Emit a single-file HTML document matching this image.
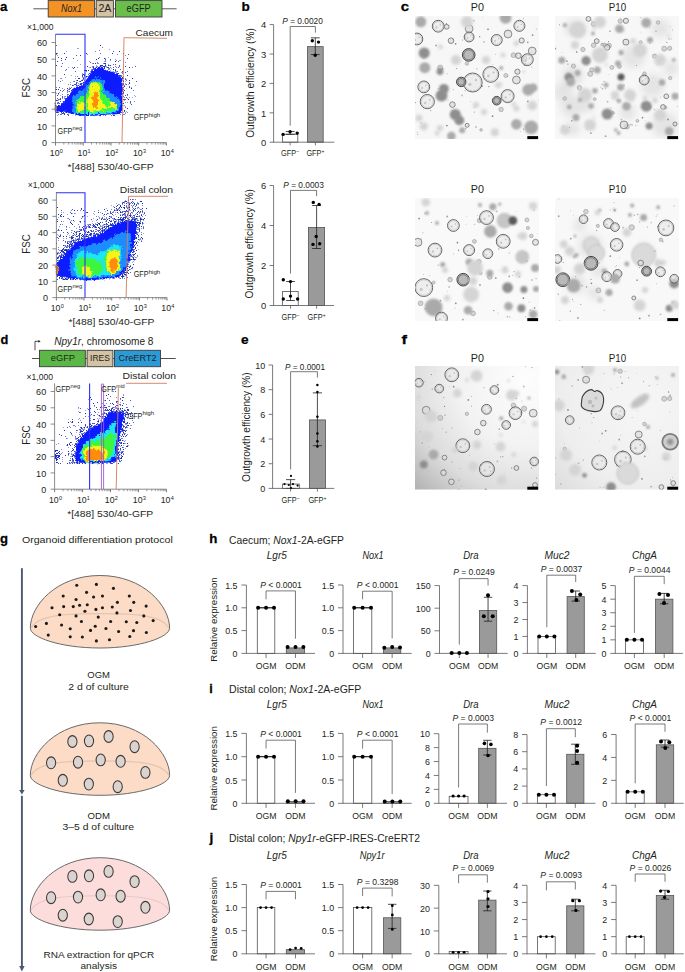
<!DOCTYPE html><html><head><meta charset="utf-8"><style>html,body{margin:0;padding:0;background:#fff;width:685px;height:972px;overflow:hidden}svg{display:block;font-family:"Liberation Sans",sans-serif}</style></head><body><svg width="685" height="972" viewBox="0 0 685 972" font-family="'Liberation Sans', sans-serif" fill="#231f20"><defs><filter id="bl03" x="-30%" y="-30%" width="160%" height="160%"><feGaussianBlur stdDeviation="0.3"/></filter><filter id="bl05" x="-30%" y="-30%" width="160%" height="160%"><feGaussianBlur stdDeviation="0.5"/></filter><filter id="bl08" x="-50%" y="-50%" width="200%" height="200%"><feGaussianBlur stdDeviation="0.8"/></filter><filter id="bl10" x="-50%" y="-50%" width="200%" height="200%"><feGaussianBlur stdDeviation="1.0"/></filter><filter id="bl30" x="-20%" y="-20%" width="140%" height="140%"><feGaussianBlur stdDeviation="3.5"/></filter><filter id="bl15" x="-60%" y="-60%" width="220%" height="220%"><feGaussianBlur stdDeviation="1.6"/></filter><radialGradient id="grad1" cx="0.9" cy="0.1" r="1.25" gradientUnits="objectBoundingBox"><stop offset="0" stop-color="#fdfdfd"/><stop offset="0.45" stop-color="#f2f2f2"/><stop offset="0.75" stop-color="#dcdcdc"/><stop offset="1" stop-color="#b4b4b4"/></radialGradient><radialGradient id="grad2" cx="0.7" cy="0.3" r="1.1" gradientUnits="objectBoundingBox"><stop offset="0" stop-color="#f6f6f6"/><stop offset="0.6" stop-color="#eeeeee"/><stop offset="1" stop-color="#d6d6d6"/></radialGradient><clipPath id="clip_c1"><rect x="414.9" y="15.9" width="124.20" height="123.20"/></clipPath><clipPath id="clip_c2"><rect x="554.9" y="15.9" width="124.20" height="123.20"/></clipPath><clipPath id="clip_c3"><rect x="414.9" y="197.9" width="124.20" height="123.20"/></clipPath><clipPath id="clip_c4"><rect x="554.9" y="197.9" width="124.20" height="123.20"/></clipPath><clipPath id="clip_f1"><rect x="414.9" y="365.9" width="124.20" height="123.80"/></clipPath><clipPath id="clip_f2"><rect x="554.9" y="365.9" width="124.20" height="123.80"/></clipPath><filter id="fnoise2" x="-10%" y="-10%" width="120%" height="120%"><feTurbulence type="fractalNoise" baseFrequency="0.28" numOctaves="3" seed="3" result="t"/><feDisplacementMap in="SourceGraphic" in2="t" scale="6" xChannelSelector="R" yChannelSelector="G"/></filter><filter id="fnoise" x="-10%" y="-10%" width="120%" height="120%"><feTurbulence type="fractalNoise" baseFrequency="0.55" numOctaves="2" seed="7" result="t"/><feDisplacementMap in="SourceGraphic" in2="t" scale="3.2" xChannelSelector="R" yChannelSelector="G"/></filter></defs><g clip-path="url(#clip_c1)"><rect x="414.9" y="15.9" width="124.20" height="123.20" fill="#f7f7f7"/><circle cx="466.8" cy="25.9" r="0.45" fill="#b8b8b8"/><circle cx="473.8" cy="20.6" r="0.9" fill="#b8b8b8"/><circle cx="523.6" cy="129.1" r="0.7" fill="#8a8a8a"/><circle cx="476.1" cy="127.0" r="0.7" fill="#8a8a8a"/><circle cx="462.6" cy="40.1" r="0.55" fill="#a0a0a0"/><circle cx="523.1" cy="55.9" r="0.45" fill="#8a8a8a"/><circle cx="456.6" cy="68.6" r="0.7" fill="#a0a0a0"/><circle cx="507.7" cy="75.9" r="0.55" fill="#8a8a8a"/><circle cx="465.6" cy="128.6" r="0.7" fill="#a0a0a0"/><circle cx="523.5" cy="18.6" r="0.55" fill="#b8b8b8"/><circle cx="455.7" cy="105.4" r="0.45" fill="#b8b8b8"/><circle cx="452.8" cy="110.9" r="0.7" fill="#a0a0a0"/><circle cx="488.0" cy="29.3" r="0.9" fill="#8a8a8a"/><circle cx="525.5" cy="63.3" r="0.55" fill="#8a8a8a"/><circle cx="455.6" cy="43.8" r="0.9" fill="#8a8a8a"/><circle cx="465.1" cy="90.8" r="0.55" fill="#8a8a8a"/><circle cx="439.1" cy="128.7" r="0.7" fill="#b8b8b8"/><circle cx="492.6" cy="116.2" r="0.9" fill="#8a8a8a"/><circle cx="475.1" cy="58.6" r="0.45" fill="#a0a0a0"/><circle cx="482.7" cy="17.2" r="0.45" fill="#b8b8b8"/><circle cx="453.2" cy="89.6" r="0.7" fill="#b8b8b8"/><circle cx="436.1" cy="45.5" r="0.9" fill="#a0a0a0"/><circle cx="531.8" cy="67.0" r="0.45" fill="#8a8a8a"/><circle cx="448.0" cy="100.1" r="0.55" fill="#b8b8b8"/><circle cx="417.2" cy="132.3" r="0.55" fill="#b8b8b8"/><circle cx="453.1" cy="39.6" r="0.9" fill="#a0a0a0"/><circle cx="476.8" cy="68.8" r="0.7" fill="#b8b8b8"/><circle cx="495.8" cy="134.8" r="0.45" fill="#a0a0a0"/><circle cx="470.4" cy="101.4" r="0.45" fill="#8a8a8a"/><circle cx="447.2" cy="73.7" r="0.45" fill="#8a8a8a"/><circle cx="527.9" cy="101.4" r="0.9" fill="#8a8a8a"/><circle cx="519.7" cy="30.8" r="0.7" fill="#b8b8b8"/><circle cx="417.8" cy="134.4" r="0.7" fill="#b8b8b8"/><circle cx="465.9" cy="80.2" r="0.45" fill="#a0a0a0"/><circle cx="446.4" cy="23.8" r="0.7" fill="#8a8a8a"/><circle cx="415.4" cy="102.6" r="0.7" fill="#a0a0a0"/><circle cx="462.0" cy="95.4" r="0.9" fill="#b8b8b8"/><circle cx="481.9" cy="86.2" r="0.9" fill="#8a8a8a"/><circle cx="438.1" cy="88.7" r="0.55" fill="#8a8a8a"/><circle cx="488.9" cy="86.6" r="0.7" fill="#8a8a8a"/><circle cx="532.6" cy="35.1" r="0.9" fill="#8a8a8a"/><circle cx="446.9" cy="125.6" r="0.9" fill="#8a8a8a"/><circle cx="442.5" cy="69.1" r="0.9" fill="#a0a0a0"/><circle cx="492.6" cy="64.7" r="0.45" fill="#b8b8b8"/><circle cx="481.0" cy="82.4" r="0.7" fill="#a0a0a0"/><circle cx="423.9" cy="58.3" r="0.55" fill="#8a8a8a"/><circle cx="484.0" cy="41.9" r="0.7" fill="#8a8a8a"/><circle cx="479.7" cy="36.8" r="0.7" fill="#8a8a8a"/><circle cx="536.4" cy="29.1" r="0.7" fill="#b8b8b8"/><circle cx="430.6" cy="110.5" r="0.7" fill="#b8b8b8"/><circle cx="527.7" cy="42.3" r="0.9" fill="#a0a0a0"/><circle cx="539.0" cy="100.6" r="0.7" fill="#b8b8b8"/><circle cx="474.1" cy="107.2" r="0.55" fill="#a0a0a0"/><circle cx="474.4" cy="112.1" r="0.55" fill="#a0a0a0"/><circle cx="420.8" cy="122.8" r="0.7" fill="#b8b8b8"/><circle cx="524.6" cy="65.4" r="0.7" fill="#a0a0a0"/><circle cx="497.7" cy="134.0" r="0.45" fill="#a0a0a0"/><circle cx="520.9" cy="131.3" r="0.45" fill="#a0a0a0"/><circle cx="495.6" cy="54.2" r="0.55" fill="#b8b8b8"/><circle cx="423.6" cy="109.2" r="0.45" fill="#b8b8b8"/><circle cx="516.3259019541462" cy="43.26136332899978" r="2.7137791654017693" fill="#d4d4d4" filter="url(#bl15)"/><circle cx="440.2" cy="67.6" r="2.52" fill="#cdcdcd" fill-opacity="0.85" stroke="#9a9a9a" stroke-width="0.6" filter="url(#bl05)"/><circle cx="500.78906577886437" cy="84.54297709003666" r="1.5749660835090629" fill="#d4d4d4" filter="url(#bl15)"/><circle cx="466.9" cy="63.6" r="1.72" fill="#cdcdcd" fill-opacity="0.85" stroke="#9a9a9a" stroke-width="0.6" filter="url(#bl05)"/><circle cx="513.8167823350891" cy="104.27821721720855" r="2.4589166821938746" fill="#d4d4d4" filter="url(#bl15)"/><circle cx="513.5" cy="55.2" r="2.44" fill="#cdcdcd" fill-opacity="0.85" stroke="#9a9a9a" stroke-width="0.6" filter="url(#bl05)"/><circle cx="523.8304687452248" cy="71.73524797385423" r="1.3960797988353426" fill="#d4d4d4" filter="url(#bl15)"/><circle cx="508.40762252421507" cy="30.748785046801416" r="1.4489465907830443" fill="#d4d4d4" filter="url(#bl15)"/><circle cx="524.1" cy="58.5" r="2.62" fill="#cdcdcd" fill-opacity="0.85" stroke="#9a9a9a" stroke-width="0.6" filter="url(#bl05)"/><circle cx="501.22338952923667" cy="68.03519515644068" r="2.0547497668967787" fill="#aaaaaa" filter="url(#bl08)"/><circle cx="505.8" cy="75.5" r="2.03" fill="#cdcdcd" fill-opacity="0.85" stroke="#9a9a9a" stroke-width="0.6" filter="url(#bl05)"/><circle cx="501.1" cy="109.5" r="2.23" fill="#cdcdcd" fill-opacity="0.85" stroke="#9a9a9a" stroke-width="0.6" filter="url(#bl05)"/><circle cx="437.1587118397816" cy="133.29090552126576" r="2.4459853784335204" fill="#d4d4d4" filter="url(#bl15)"/><circle cx="481.1" cy="129.9" r="1.32" fill="#cdcdcd" fill-opacity="0.85" stroke="#9a9a9a" stroke-width="0.6" filter="url(#bl05)"/><circle cx="420.8" cy="21.8" r="5.5" fill="#aaaaaa" filter="url(#bl08)"/><g filter="url(#bl03)"><circle cx="438.2" cy="26.2" r="5.9" fill="#e6e6e6" fill-opacity="0.55" stroke="#4c4c4c" stroke-width="0.85"/><circle cx="438.2" cy="26.2" r="4.80" fill="none" stroke="#c2c2c2" stroke-width="0.8"/><circle cx="436.43" cy="27.38" r="1.06" fill="#c8c8c8"/><circle cx="440.26" cy="24.72" r="0.71" fill="#bdbdbd"/></g><circle cx="446.7" cy="26.8" r="2.4" fill="#dcdcdc" fill-opacity="0.7" stroke="#6a6a6a" stroke-width="0.75" filter="url(#bl03)"/><circle cx="469.1" cy="28.7" r="3.9" fill="#dcdcdc" fill-opacity="0.7" stroke="#6a6a6a" stroke-width="0.75" filter="url(#bl03)"/><g filter="url(#bl03)"><circle cx="469.1" cy="37.0" r="4.9" fill="#e6e6e6" fill-opacity="0.55" stroke="#4c4c4c" stroke-width="0.85"/><circle cx="469.1" cy="37.0" r="3.80" fill="none" stroke="#c2c2c2" stroke-width="0.8"/><circle cx="467.63" cy="37.98" r="0.88" fill="#c8c8c8"/><circle cx="470.81" cy="35.77" r="0.59" fill="#bdbdbd"/></g><g filter="url(#bl03)"><circle cx="519.4" cy="25.8" r="5.5" fill="#e6e6e6" fill-opacity="0.55" stroke="#4c4c4c" stroke-width="0.85"/><circle cx="519.4" cy="25.8" r="4.40" fill="none" stroke="#c2c2c2" stroke-width="0.8"/><circle cx="517.75" cy="26.90" r="0.99" fill="#c8c8c8"/><circle cx="521.32" cy="24.43" r="0.66" fill="#bdbdbd"/></g><circle cx="508.0" cy="34.0" r="3.9" fill="#dcdcdc" fill-opacity="0.7" stroke="#6a6a6a" stroke-width="0.75" filter="url(#bl03)"/><g filter="url(#bl03)"><circle cx="496.7" cy="40.0" r="5.5" fill="#e6e6e6" fill-opacity="0.55" stroke="#4c4c4c" stroke-width="0.85"/><circle cx="496.7" cy="40.0" r="4.40" fill="none" stroke="#c2c2c2" stroke-width="0.8"/><circle cx="495.05" cy="41.10" r="0.99" fill="#c8c8c8"/><circle cx="498.62" cy="38.62" r="0.66" fill="#bdbdbd"/></g><circle cx="521.7" cy="40.5" r="2.6" fill="#dcdcdc" fill-opacity="0.7" stroke="#6a6a6a" stroke-width="0.75" filter="url(#bl03)"/><g filter="url(#bl03)"><circle cx="416.9" cy="39.0" r="5.9" fill="#e6e6e6" fill-opacity="0.55" stroke="#4c4c4c" stroke-width="0.85"/><circle cx="416.9" cy="39.0" r="4.80" fill="none" stroke="#c2c2c2" stroke-width="0.8"/><circle cx="415.13" cy="40.18" r="1.06" fill="#c8c8c8"/><circle cx="418.96" cy="37.52" r="0.71" fill="#bdbdbd"/></g><circle cx="451.0" cy="40.7" r="2.8" fill="#dcdcdc" fill-opacity="0.7" stroke="#6a6a6a" stroke-width="0.75" filter="url(#bl03)"/><circle cx="424.2" cy="53.0" r="5.5" fill="#8e8e8e" filter="url(#bl08)"/><g filter="url(#bl03)"><circle cx="468.7" cy="54.9" r="6.3" fill="#b2b2b2" fill-opacity="0.9" stroke="#3c3c3c" stroke-width="0.95"/><circle cx="468.7" cy="54.9" r="5.00" fill="none" stroke="#7a7a7a" stroke-width="1.0"/></g><circle cx="440.5" cy="47.0" r="2.4" fill="#d4d4d4" filter="url(#bl15)"/><g filter="url(#bl03)"><circle cx="527.3" cy="59.7" r="5.9" fill="#e6e6e6" fill-opacity="0.55" stroke="#4c4c4c" stroke-width="0.85"/><circle cx="527.3" cy="59.7" r="4.80" fill="none" stroke="#c2c2c2" stroke-width="0.8"/><circle cx="525.53" cy="60.88" r="1.06" fill="#c8c8c8"/><circle cx="529.37" cy="58.23" r="0.71" fill="#bdbdbd"/></g><circle cx="532.2" cy="51.0" r="3.9" fill="#dcdcdc" fill-opacity="0.7" stroke="#6a6a6a" stroke-width="0.75" filter="url(#bl03)"/><circle cx="518.4" cy="55.7" r="2.8" fill="#dcdcdc" fill-opacity="0.7" stroke="#6a6a6a" stroke-width="0.75" filter="url(#bl03)"/><circle cx="424.8" cy="67.7" r="5.5" fill="#aaaaaa" filter="url(#bl08)"/><circle cx="440.0" cy="71.5" r="3.4" fill="#8e8e8e" filter="url(#bl08)"/><g filter="url(#bl03)"><circle cx="490.8" cy="74.4" r="7.9" fill="#e6e6e6" fill-opacity="0.55" stroke="#4c4c4c" stroke-width="0.85"/><circle cx="490.8" cy="74.4" r="6.80" fill="none" stroke="#c2c2c2" stroke-width="0.8"/><circle cx="488.43" cy="75.98" r="1.42" fill="#c8c8c8"/><circle cx="493.56" cy="72.43" r="0.95" fill="#bdbdbd"/></g><g filter="url(#bl03)"><circle cx="472.7" cy="82.5" r="9.5" fill="#e6e6e6" fill-opacity="0.55" stroke="#4c4c4c" stroke-width="0.85"/><circle cx="472.7" cy="82.5" r="8.40" fill="none" stroke="#c2c2c2" stroke-width="0.8"/><circle cx="469.85" cy="84.40" r="1.71" fill="#c8c8c8"/><circle cx="476.02" cy="80.12" r="1.14" fill="#bdbdbd"/></g><g filter="url(#bl03)"><circle cx="461.2" cy="81.9" r="4.7" fill="#b2b2b2" fill-opacity="0.9" stroke="#3c3c3c" stroke-width="0.95"/><circle cx="461.2" cy="81.9" r="3.40" fill="none" stroke="#7a7a7a" stroke-width="1.0"/></g><g filter="url(#bl03)"><circle cx="423.8" cy="86.9" r="5.9" fill="#e6e6e6" fill-opacity="0.55" stroke="#4c4c4c" stroke-width="0.85"/><circle cx="423.8" cy="86.9" r="4.80" fill="none" stroke="#c2c2c2" stroke-width="0.8"/><circle cx="422.03" cy="88.08" r="1.06" fill="#c8c8c8"/><circle cx="425.87" cy="85.43" r="0.71" fill="#bdbdbd"/></g><circle cx="443.9" cy="88.8" r="4.9" fill="#8e8e8e" filter="url(#bl08)"/><circle cx="441.5" cy="95.7" r="5.9" fill="#8e8e8e" filter="url(#bl08)"/><g filter="url(#bl03)"><circle cx="507.6" cy="96.1" r="6.5" fill="#e6e6e6" fill-opacity="0.55" stroke="#4c4c4c" stroke-width="0.85"/><circle cx="507.6" cy="96.1" r="5.40" fill="none" stroke="#c2c2c2" stroke-width="0.8"/><circle cx="505.65" cy="97.40" r="1.17" fill="#c8c8c8"/><circle cx="509.88" cy="94.47" r="0.78" fill="#bdbdbd"/></g><g filter="url(#bl03)"><circle cx="496.7" cy="100.7" r="4.3" fill="#b2b2b2" fill-opacity="0.9" stroke="#3c3c3c" stroke-width="0.95"/><circle cx="496.7" cy="100.7" r="3.00" fill="none" stroke="#7a7a7a" stroke-width="1.0"/></g><g filter="url(#bl03)"><circle cx="427.3" cy="101.6" r="7.1" fill="#e6e6e6" fill-opacity="0.55" stroke="#4c4c4c" stroke-width="0.85"/><circle cx="427.3" cy="101.6" r="6.00" fill="none" stroke="#c2c2c2" stroke-width="0.8"/><circle cx="425.17" cy="103.02" r="1.28" fill="#c8c8c8"/><circle cx="429.79" cy="99.82" r="0.85" fill="#bdbdbd"/></g><circle cx="516.4" cy="80.0" r="3.9" fill="#dcdcdc" fill-opacity="0.7" stroke="#6a6a6a" stroke-width="0.75" filter="url(#bl03)"/><circle cx="517.4" cy="71.7" r="2.6" fill="#dcdcdc" fill-opacity="0.7" stroke="#6a6a6a" stroke-width="0.75" filter="url(#bl03)"/><circle cx="528.2" cy="89.8" r="5.9" fill="#aaaaaa" filter="url(#bl08)"/><circle cx="533.2" cy="87.8" r="4.3" fill="#aaaaaa" filter="url(#bl08)"/><circle cx="455.3" cy="114.5" r="5.5" fill="#8e8e8e" filter="url(#bl08)"/><circle cx="459.3" cy="120.4" r="4.9" fill="#8e8e8e" filter="url(#bl08)"/><circle cx="516.4" cy="124.3" r="5.3" fill="#aaaaaa" filter="url(#bl08)"/><circle cx="531.2" cy="127.3" r="6.9" fill="#aaaaaa" filter="url(#bl08)"/><circle cx="532.2" cy="105.6" r="4.9" fill="#d4d4d4" filter="url(#bl15)"/><circle cx="516.4" cy="108.5" r="3.0" fill="#d4d4d4" filter="url(#bl15)"/><circle cx="452.4" cy="104.6" r="2.8" fill="#dcdcdc" fill-opacity="0.7" stroke="#6a6a6a" stroke-width="0.75" filter="url(#bl03)"/><circle cx="451.4" cy="136.1" r="4.3" fill="#aaaaaa" filter="url(#bl08)"/><circle cx="462.2" cy="130.2" r="3.0" fill="#aaaaaa" filter="url(#bl08)"/><circle cx="494.7" cy="132.2" r="4.0" fill="#d4d4d4" filter="url(#bl15)"/><circle cx="505.6" cy="17.9" r="5.9" fill="#aaaaaa" filter="url(#bl08)"/><circle cx="423.8" cy="126.3" r="4.0" fill="#d4d4d4" filter="url(#bl15)"/><circle cx="467.2" cy="125.3" r="2.0" fill="#dcdcdc" fill-opacity="0.7" stroke="#6a6a6a" stroke-width="0.75" filter="url(#bl03)"/><circle cx="467.0" cy="22.0" r="6.0" fill="#d4d4d4" filter="url(#bl15)"/><circle cx="486.0" cy="60.0" r="4.0" fill="#d4d4d4" filter="url(#bl15)"/><circle cx="456.0" cy="60.0" r="5.0" fill="#d4d4d4" filter="url(#bl15)"/><circle cx="498.0" cy="85.0" r="3.0" fill="#d4d4d4" filter="url(#bl15)"/><circle cx="484.0" cy="112.0" r="3.0" fill="#d4d4d4" filter="url(#bl15)"/><circle cx="419.0" cy="118.0" r="3.5" fill="#d4d4d4" filter="url(#bl15)"/><circle cx="440.0" cy="128.0" r="3.0" fill="#d4d4d4" filter="url(#bl15)"/><circle cx="503.0" cy="55.0" r="2.5" fill="#d4d4d4" filter="url(#bl15)"/><circle cx="476.0" cy="105.0" r="3.0" fill="#d4d4d4" filter="url(#bl15)"/></g>
<rect x="527.30" y="136.10" width="10.80" height="3.00" fill="#000"/>
<g clip-path="url(#clip_c2)"><rect x="554.9" y="15.9" width="124.20" height="123.20" fill="#f7f7f7"/><g filter="url(#bl30)"><circle cx="627.7" cy="112.2" r="7.9" fill="#d6d6d6" fill-opacity="0.55"/><circle cx="664.7" cy="125.3" r="12.7" fill="#d6d6d6" fill-opacity="0.55"/><circle cx="633.3" cy="56.5" r="11.7" fill="#d6d6d6" fill-opacity="0.55"/><circle cx="568.8" cy="83.5" r="7.0" fill="#d6d6d6" fill-opacity="0.55"/><circle cx="652.7" cy="85.6" r="11.5" fill="#d6d6d6" fill-opacity="0.55"/><circle cx="572.1" cy="105.8" r="11.6" fill="#d6d6d6" fill-opacity="0.55"/><circle cx="571.6" cy="28.7" r="6.5" fill="#d6d6d6" fill-opacity="0.55"/><circle cx="587.3" cy="105.8" r="6.7" fill="#d6d6d6" fill-opacity="0.55"/><circle cx="670.9" cy="67.9" r="7.7" fill="#d6d6d6" fill-opacity="0.55"/><circle cx="576.6" cy="28.0" r="9.4" fill="#d6d6d6" fill-opacity="0.55"/><circle cx="561.4" cy="92.1" r="8.3" fill="#d6d6d6" fill-opacity="0.55"/><circle cx="573.1" cy="75.3" r="10.3" fill="#d6d6d6" fill-opacity="0.55"/><circle cx="660.1" cy="28.4" r="9.5" fill="#d6d6d6" fill-opacity="0.55"/><circle cx="573.0" cy="128.4" r="7.1" fill="#d6d6d6" fill-opacity="0.55"/></g><circle cx="602.2" cy="84.4" r="0.55" fill="#a0a0a0"/><circle cx="591.7" cy="20.7" r="0.7" fill="#b8b8b8"/><circle cx="607.6" cy="101.7" r="0.9" fill="#b8b8b8"/><circle cx="621.4" cy="119.6" r="0.9" fill="#b8b8b8"/><circle cx="561.8" cy="52.3" r="0.45" fill="#b8b8b8"/><circle cx="563.1" cy="126.2" r="0.7" fill="#a0a0a0"/><circle cx="656.0" cy="31.1" r="0.7" fill="#8a8a8a"/><circle cx="640.9" cy="32.1" r="0.45" fill="#a0a0a0"/><circle cx="655.0" cy="54.8" r="0.9" fill="#a0a0a0"/><circle cx="666.9" cy="49.5" r="0.45" fill="#b8b8b8"/><circle cx="668.0" cy="119.5" r="0.9" fill="#8a8a8a"/><circle cx="619.7" cy="67.4" r="0.7" fill="#b8b8b8"/><circle cx="605.3" cy="88.7" r="0.55" fill="#a0a0a0"/><circle cx="610.0" cy="31.3" r="0.7" fill="#8a8a8a"/><circle cx="660.7" cy="97.3" r="0.55" fill="#b8b8b8"/><circle cx="679.0" cy="123.6" r="0.45" fill="#a0a0a0"/><circle cx="649.6" cy="27.8" r="0.45" fill="#a0a0a0"/><circle cx="605.6" cy="136.2" r="0.9" fill="#a0a0a0"/><circle cx="608.9" cy="74.5" r="0.45" fill="#b8b8b8"/><circle cx="632.1" cy="124.9" r="0.55" fill="#8a8a8a"/><circle cx="673.2" cy="94.6" r="0.45" fill="#a0a0a0"/><circle cx="655.3" cy="57.6" r="0.7" fill="#a0a0a0"/><circle cx="645.1" cy="120.6" r="0.45" fill="#b8b8b8"/><circle cx="620.4" cy="18.3" r="0.45" fill="#a0a0a0"/><circle cx="670.3" cy="26.8" r="0.55" fill="#b8b8b8"/><circle cx="653.2" cy="77.9" r="0.45" fill="#b8b8b8"/><circle cx="566.9" cy="61.2" r="0.9" fill="#a0a0a0"/><circle cx="649.9" cy="43.3" r="0.55" fill="#8a8a8a"/><circle cx="617.4" cy="100.0" r="0.9" fill="#b8b8b8"/><circle cx="576.7" cy="52.0" r="0.9" fill="#a0a0a0"/><circle cx="642.5" cy="117.6" r="0.9" fill="#8a8a8a"/><circle cx="604.0" cy="81.4" r="0.7" fill="#b8b8b8"/><circle cx="654.3" cy="109.6" r="0.55" fill="#a0a0a0"/><circle cx="672.4" cy="30.0" r="0.45" fill="#8a8a8a"/><circle cx="602.4" cy="88.8" r="0.7" fill="#a0a0a0"/><circle cx="590.9" cy="133.2" r="0.9" fill="#a0a0a0"/><circle cx="569.4" cy="127.4" r="0.7" fill="#a0a0a0"/><circle cx="640.3" cy="17.5" r="0.45" fill="#8a8a8a"/><circle cx="635.9" cy="125.5" r="0.55" fill="#a0a0a0"/><circle cx="555.8" cy="47.0" r="0.45" fill="#b8b8b8"/><circle cx="656.3" cy="64.5" r="0.45" fill="#b8b8b8"/><circle cx="623.9" cy="85.4" r="0.9" fill="#b8b8b8"/><circle cx="677.7" cy="106.5" r="0.45" fill="#8a8a8a"/><circle cx="611.2" cy="107.5" r="0.45" fill="#a0a0a0"/><circle cx="669.0" cy="39.0" r="0.7" fill="#a0a0a0"/><circle cx="608.5" cy="41.6" r="0.55" fill="#8a8a8a"/><circle cx="615.7" cy="97.1" r="0.45" fill="#b8b8b8"/><circle cx="603.6" cy="44.8" r="0.7" fill="#8a8a8a"/><circle cx="666.8" cy="42.4" r="0.55" fill="#8a8a8a"/><circle cx="555.5" cy="48.8" r="0.7" fill="#8a8a8a"/><circle cx="630.5" cy="124.6" r="0.9" fill="#b8b8b8"/><circle cx="586.5" cy="129.0" r="0.45" fill="#a0a0a0"/><circle cx="636.6" cy="65.5" r="0.55" fill="#8a8a8a"/><circle cx="600.7" cy="87.0" r="0.55" fill="#b8b8b8"/><circle cx="592.4" cy="126.3" r="0.7" fill="#8a8a8a"/><circle cx="671.2" cy="38.9" r="0.55" fill="#b8b8b8"/><circle cx="567.9" cy="64.1" r="0.7" fill="#8a8a8a"/><circle cx="571.8" cy="120.8" r="0.7" fill="#8a8a8a"/><circle cx="559.5" cy="24.7" r="0.55" fill="#8a8a8a"/><circle cx="587.3" cy="122.3" r="0.55" fill="#a0a0a0"/><circle cx="614.7458454156117" cy="97.29763682121256" r="2.2297505427024196" fill="#d4d4d4" filter="url(#bl15)"/><circle cx="665.4" cy="107.5" r="1.54" fill="#cdcdcd" fill-opacity="0.85" stroke="#9a9a9a" stroke-width="0.6" filter="url(#bl05)"/><circle cx="620.2" cy="21.1" r="2.19" fill="#cdcdcd" fill-opacity="0.85" stroke="#9a9a9a" stroke-width="0.6" filter="url(#bl05)"/><circle cx="644.5" cy="73.7" r="1.83" fill="#cdcdcd" fill-opacity="0.85" stroke="#9a9a9a" stroke-width="0.6" filter="url(#bl05)"/><circle cx="645.0819899950602" cy="98.1920652309436" r="2.3314267482683153" fill="#d4d4d4" filter="url(#bl15)"/><circle cx="619.5" cy="66.5" r="1.90" fill="#cdcdcd" fill-opacity="0.85" stroke="#9a9a9a" stroke-width="0.6" filter="url(#bl05)"/><circle cx="564.7" cy="98.5" r="1.76" fill="#cdcdcd" fill-opacity="0.85" stroke="#9a9a9a" stroke-width="0.6" filter="url(#bl05)"/><circle cx="626.8" cy="126.6" r="2.50" fill="#cdcdcd" fill-opacity="0.85" stroke="#9a9a9a" stroke-width="0.6" filter="url(#bl05)"/><circle cx="669.7" cy="48.3" r="2.14" fill="#cdcdcd" fill-opacity="0.85" stroke="#9a9a9a" stroke-width="0.6" filter="url(#bl05)"/><circle cx="664.2" cy="48.7" r="2.50" fill="#cdcdcd" fill-opacity="0.85" stroke="#9a9a9a" stroke-width="0.6" filter="url(#bl05)"/><circle cx="591.7" cy="69.9" r="2.09" fill="#cdcdcd" fill-opacity="0.85" stroke="#9a9a9a" stroke-width="0.6" filter="url(#bl05)"/><circle cx="582.9" cy="49.5" r="2.16" fill="#cdcdcd" fill-opacity="0.85" stroke="#9a9a9a" stroke-width="0.6" filter="url(#bl05)"/><circle cx="609.1" cy="45.6" r="2.35" fill="#cdcdcd" fill-opacity="0.85" stroke="#9a9a9a" stroke-width="0.6" filter="url(#bl05)"/><circle cx="594.7" cy="99.1" r="1.44" fill="#cdcdcd" fill-opacity="0.85" stroke="#9a9a9a" stroke-width="0.6" filter="url(#bl05)"/><circle cx="622.4934822344262" cy="30.158962848189773" r="2.020824227864745" fill="#d4d4d4" filter="url(#bl15)"/><circle cx="670.2" cy="78.1" r="1.69" fill="#cdcdcd" fill-opacity="0.85" stroke="#9a9a9a" stroke-width="0.6" filter="url(#bl05)"/><circle cx="618.9214071332472" cy="100.84303042999042" r="2.3012690983626785" fill="#aaaaaa" filter="url(#bl08)"/><circle cx="590.2" cy="73.9" r="2.52" fill="#cdcdcd" fill-opacity="0.85" stroke="#9a9a9a" stroke-width="0.6" filter="url(#bl05)"/><circle cx="637.4" cy="120.9" r="1.44" fill="#cdcdcd" fill-opacity="0.85" stroke="#9a9a9a" stroke-width="0.6" filter="url(#bl05)"/><circle cx="649.1" cy="107.3" r="1.95" fill="#cdcdcd" fill-opacity="0.85" stroke="#9a9a9a" stroke-width="0.6" filter="url(#bl05)"/><circle cx="573.4" cy="66.1" r="2.13" fill="#cdcdcd" fill-opacity="0.85" stroke="#9a9a9a" stroke-width="0.6" filter="url(#bl05)"/><circle cx="606.3620566344941" cy="64.81936214410396" r="1.5260531118379494" fill="#d4d4d4" filter="url(#bl15)"/><circle cx="673.7903231564167" cy="59.85342083654885" r="1.9619247053675761" fill="#aaaaaa" filter="url(#bl08)"/><circle cx="594.0091380291406" cy="117.60059860345856" r="1.3332189526209428" fill="#d4d4d4" filter="url(#bl15)"/><circle cx="615.7724945726851" cy="129.992853601432" r="1.720768037483423" fill="#aaaaaa" filter="url(#bl08)"/><circle cx="658.1" cy="22.5" r="1.75" fill="#cdcdcd" fill-opacity="0.85" stroke="#9a9a9a" stroke-width="0.6" filter="url(#bl05)"/><circle cx="654.9735957950261" cy="100.38006470533654" r="2.643856039249625" fill="#d4d4d4" filter="url(#bl15)"/><circle cx="611.8" cy="67.4" r="1.99" fill="#cdcdcd" fill-opacity="0.85" stroke="#9a9a9a" stroke-width="0.6" filter="url(#bl05)"/><circle cx="604.7" cy="45.2" r="2.17" fill="#cdcdcd" fill-opacity="0.85" stroke="#9a9a9a" stroke-width="0.6" filter="url(#bl05)"/><circle cx="621.1208433914878" cy="52.58248406799409" r="2.5651423903452386" fill="#aaaaaa" filter="url(#bl08)"/><circle cx="640.7" cy="42.2" r="1.55" fill="#cdcdcd" fill-opacity="0.85" stroke="#9a9a9a" stroke-width="0.6" filter="url(#bl05)"/><circle cx="594.5829889341597" cy="27.718030027912988" r="1.9638961867718123" fill="#d4d4d4" filter="url(#bl15)"/><circle cx="593.6" cy="24.1" r="2.35" fill="#cdcdcd" fill-opacity="0.85" stroke="#9a9a9a" stroke-width="0.6" filter="url(#bl05)"/><circle cx="564.8842255879996" cy="25.18779465681441" r="2.1256155540784896" fill="#aaaaaa" filter="url(#bl08)"/><circle cx="668.581278230857" cy="36.03653783915683" r="1.6108007390994319" fill="#d4d4d4" filter="url(#bl15)"/><circle cx="631.9649727952865" cy="98.88452656301737" r="1.9267209248397767" fill="#d4d4d4" filter="url(#bl15)"/><circle cx="579.5" cy="87.8" r="2.28" fill="#cdcdcd" fill-opacity="0.85" stroke="#9a9a9a" stroke-width="0.6" filter="url(#bl05)"/><circle cx="593.6" cy="45.3" r="2.29" fill="#cdcdcd" fill-opacity="0.85" stroke="#9a9a9a" stroke-width="0.6" filter="url(#bl05)"/><circle cx="580.1341202305447" cy="99.72148437096956" r="1.84403637780357" fill="#d4d4d4" filter="url(#bl15)"/><circle cx="572.4520652985841" cy="77.98621575402811" r="1.7833083833914176" fill="#aaaaaa" filter="url(#bl08)"/><circle cx="612.9" cy="112.9" r="1.47" fill="#cdcdcd" fill-opacity="0.85" stroke="#9a9a9a" stroke-width="0.6" filter="url(#bl05)"/><circle cx="654.5" cy="56.1" r="2.13" fill="#cdcdcd" fill-opacity="0.85" stroke="#9a9a9a" stroke-width="0.6" filter="url(#bl05)"/><circle cx="602.2" cy="44.5" r="1.41" fill="#cdcdcd" fill-opacity="0.85" stroke="#9a9a9a" stroke-width="0.6" filter="url(#bl05)"/><circle cx="633.0921400726913" cy="41.03997664904837" r="2.7182654014718484" fill="#d4d4d4" filter="url(#bl15)"/><circle cx="578.5258597000771" cy="26.882703489256308" r="2.790035342957285" fill="#aaaaaa" filter="url(#bl08)"/><circle cx="646.2" cy="22.8" r="4.9" fill="#aaaaaa" filter="url(#bl08)"/><circle cx="619.4" cy="28.7" r="4.3" fill="#aaaaaa" filter="url(#bl08)"/><circle cx="625.9" cy="20.8" r="2.6" fill="#dcdcdc" fill-opacity="0.7" stroke="#6a6a6a" stroke-width="0.75" filter="url(#bl03)"/><circle cx="588.4" cy="18.9" r="2.4" fill="#dcdcdc" fill-opacity="0.7" stroke="#6a6a6a" stroke-width="0.75" filter="url(#bl03)"/><circle cx="573.6" cy="31.7" r="3.0" fill="#d4d4d4" filter="url(#bl15)"/><circle cx="593.0" cy="33.6" r="2.0" fill="#aaaaaa" filter="url(#bl08)"/><circle cx="596.7" cy="41.1" r="2.4" fill="#dcdcdc" fill-opacity="0.7" stroke="#6a6a6a" stroke-width="0.75" filter="url(#bl03)"/><circle cx="625.9" cy="42.1" r="3.0" fill="#dcdcdc" fill-opacity="0.7" stroke="#6a6a6a" stroke-width="0.75" filter="url(#bl03)"/><circle cx="607.2" cy="47.4" r="2.8" fill="#dcdcdc" fill-opacity="0.7" stroke="#6a6a6a" stroke-width="0.75" filter="url(#bl03)"/><circle cx="586.1" cy="60.8" r="4.7" fill="#8e8e8e" filter="url(#bl08)"/><circle cx="561.8" cy="60.3" r="3.5" fill="#aaaaaa" filter="url(#bl08)"/><circle cx="597.3" cy="70.1" r="3.5" fill="#aaaaaa" filter="url(#bl08)"/><circle cx="618.0" cy="63.6" r="3.0" fill="#aaaaaa" filter="url(#bl08)"/><circle cx="568.7" cy="77.0" r="4.3" fill="#8e8e8e" filter="url(#bl08)"/><circle cx="570.7" cy="81.9" r="4.3" fill="#aaaaaa" filter="url(#bl08)"/><circle cx="577.6" cy="73.1" r="3.0" fill="#aaaaaa" filter="url(#bl08)"/><circle cx="621.0" cy="77.0" r="3.5" fill="#5a5a5a" filter="url(#bl08)"/><g filter="url(#bl03)"><circle cx="644.2" cy="80.0" r="4.9" fill="#e6e6e6" fill-opacity="0.55" stroke="#4c4c4c" stroke-width="0.85"/><circle cx="644.2" cy="80.0" r="3.80" fill="none" stroke="#c2c2c2" stroke-width="0.8"/><circle cx="642.73" cy="80.98" r="0.88" fill="#c8c8c8"/><circle cx="645.92" cy="78.78" r="0.59" fill="#bdbdbd"/></g><circle cx="662.0" cy="82.5" r="3.2" fill="#aaaaaa" filter="url(#bl08)"/><circle cx="594.9" cy="90.8" r="2.8" fill="#aaaaaa" filter="url(#bl08)"/><circle cx="620.6" cy="87.3" r="3.5" fill="#aaaaaa" filter="url(#bl08)"/><circle cx="675.1" cy="96.3" r="3.5" fill="#aaaaaa" filter="url(#bl08)"/><circle cx="666.3" cy="96.3" r="2.4" fill="#dcdcdc" fill-opacity="0.7" stroke="#6a6a6a" stroke-width="0.75" filter="url(#bl03)"/><circle cx="646.2" cy="106.2" r="5.5" fill="#8e8e8e" filter="url(#bl08)"/><circle cx="626.5" cy="106.2" r="4.3" fill="#aaaaaa" filter="url(#bl08)"/><circle cx="607.2" cy="114.0" r="5.5" fill="#8e8e8e" filter="url(#bl08)"/><circle cx="576.0" cy="117.4" r="3.5" fill="#aaaaaa" filter="url(#bl08)"/><circle cx="569.3" cy="107.0" r="2.4" fill="#aaaaaa" filter="url(#bl08)"/><circle cx="591.0" cy="106.0" r="2.8" fill="#aaaaaa" filter="url(#bl08)"/><circle cx="623.9" cy="124.9" r="3.9" fill="#dcdcdc" fill-opacity="0.7" stroke="#6a6a6a" stroke-width="0.75" filter="url(#bl03)"/><circle cx="649.1" cy="125.9" r="3.5" fill="#8e8e8e" filter="url(#bl08)"/><circle cx="669.2" cy="131.2" r="4.3" fill="#aaaaaa" filter="url(#bl08)"/><circle cx="675.0" cy="124.0" r="2.0" fill="#dcdcdc" fill-opacity="0.7" stroke="#6a6a6a" stroke-width="0.75" filter="url(#bl03)"/><circle cx="663.0" cy="107.0" r="2.4" fill="#dcdcdc" fill-opacity="0.7" stroke="#6a6a6a" stroke-width="0.75" filter="url(#bl03)"/><circle cx="618.5" cy="133.0" r="2.0" fill="#aaaaaa" filter="url(#bl08)"/><circle cx="578.0" cy="30.0" r="8.0" fill="#d4d4d4" filter="url(#bl15)"/><circle cx="600.0" cy="55.0" r="8.0" fill="#d4d4d4" filter="url(#bl15)"/><circle cx="640.0" cy="50.0" r="7.0" fill="#d4d4d4" filter="url(#bl15)"/><circle cx="660.0" cy="60.0" r="6.0" fill="#d4d4d4" filter="url(#bl15)"/><circle cx="585.0" cy="95.0" r="7.0" fill="#d4d4d4" filter="url(#bl15)"/><circle cx="630.0" cy="95.0" r="6.0" fill="#d4d4d4" filter="url(#bl15)"/><circle cx="660.0" cy="115.0" r="6.0" fill="#d4d4d4" filter="url(#bl15)"/><circle cx="590.0" cy="125.0" r="6.0" fill="#d4d4d4" filter="url(#bl15)"/><circle cx="565.0" cy="130.0" r="5.0" fill="#d4d4d4" filter="url(#bl15)"/><circle cx="600.0" cy="22.0" r="6.0" fill="#d4d4d4" filter="url(#bl15)"/><circle cx="615.0" cy="95.0" r="4.0" fill="#d4d4d4" filter="url(#bl15)"/><circle cx="575.0" cy="45.0" r="4.0" fill="#d4d4d4" filter="url(#bl15)"/><circle cx="650.0" cy="40.0" r="3.0" fill="#aaaaaa" filter="url(#bl08)"/><circle cx="606.0" cy="85.0" r="2.5" fill="#aaaaaa" filter="url(#bl08)"/><circle cx="580.0" cy="100.0" r="2.0" fill="#aaaaaa" filter="url(#bl08)"/></g>
<rect x="667.30" y="136.10" width="10.80" height="3.00" fill="#000"/>
<g clip-path="url(#clip_c3)"><rect x="414.9" y="197.9" width="124.20" height="123.20" fill="#f9f9f9"/><circle cx="523.4" cy="298.2" r="0.9" fill="#8a8a8a"/><circle cx="422.9" cy="232.7" r="0.55" fill="#a0a0a0"/><circle cx="438.1" cy="265.1" r="0.55" fill="#8a8a8a"/><circle cx="493.8" cy="310.6" r="0.7" fill="#8a8a8a"/><circle cx="520.3" cy="256.1" r="0.7" fill="#a0a0a0"/><circle cx="525.9" cy="253.7" r="0.9" fill="#a0a0a0"/><circle cx="499.0" cy="269.9" r="0.45" fill="#b8b8b8"/><circle cx="514.1" cy="271.5" r="0.55" fill="#8a8a8a"/><circle cx="497.9" cy="313.0" r="0.45" fill="#a0a0a0"/><circle cx="449.2" cy="286.9" r="0.9" fill="#b8b8b8"/><circle cx="462.9" cy="319.6" r="0.9" fill="#a0a0a0"/><circle cx="431.6" cy="222.5" r="0.55" fill="#8a8a8a"/><circle cx="532.0" cy="280.0" r="0.7" fill="#8a8a8a"/><circle cx="458.5" cy="250.2" r="0.7" fill="#8a8a8a"/><circle cx="429.8" cy="289.8" r="0.7" fill="#b8b8b8"/><circle cx="512.9" cy="275.5" r="0.45" fill="#8a8a8a"/><circle cx="525.5" cy="316.5" r="0.55" fill="#b8b8b8"/><circle cx="522.2" cy="251.7" r="0.9" fill="#b8b8b8"/><circle cx="509.7" cy="317.1" r="0.7" fill="#b8b8b8"/><circle cx="466.7" cy="216.3" r="0.45" fill="#b8b8b8"/><circle cx="453.4" cy="253.7" r="0.55" fill="#b8b8b8"/><circle cx="519.0" cy="260.3" r="0.45" fill="#a0a0a0"/><circle cx="488.0" cy="232.9" r="0.55" fill="#b8b8b8"/><circle cx="535.9" cy="206.2" r="0.45" fill="#8a8a8a"/><circle cx="529.8" cy="319.4" r="0.45" fill="#a0a0a0"/><circle cx="498.8" cy="248.9" r="0.7" fill="#a0a0a0"/><circle cx="526.7" cy="261.2" r="0.9" fill="#8a8a8a"/><circle cx="440.5" cy="300.6" r="0.9" fill="#a0a0a0"/><circle cx="536.1" cy="278.5" r="0.7" fill="#b8b8b8"/><circle cx="455.8" cy="303.3" r="0.9" fill="#8a8a8a"/><circle cx="519.5" cy="276.8" r="0.9" fill="#b8b8b8"/><circle cx="516.3" cy="211.6" r="0.45" fill="#b8b8b8"/><circle cx="534.1" cy="209.9" r="0.7" fill="#8a8a8a"/><circle cx="537.7" cy="233.7" r="0.45" fill="#b8b8b8"/><circle cx="419.1" cy="218.6" r="0.9" fill="#8a8a8a"/><circle cx="509.2" cy="276.3" r="0.9" fill="#a0a0a0"/><circle cx="455.0" cy="308.0" r="0.55" fill="#b8b8b8"/><circle cx="477.3" cy="215.7" r="0.45" fill="#a0a0a0"/><circle cx="529.1" cy="302.1" r="0.55" fill="#b8b8b8"/><circle cx="421.3" cy="239.0" r="0.55" fill="#a0a0a0"/><circle cx="493.8" cy="216.9" r="0.45" fill="#8a8a8a"/><circle cx="507.5" cy="316.6" r="0.9" fill="#b8b8b8"/><circle cx="534.6" cy="307.8" r="0.9" fill="#a0a0a0"/><circle cx="530.2" cy="310.1" r="0.7" fill="#8a8a8a"/><circle cx="474.7" cy="224.3" r="0.55" fill="#a0a0a0"/><circle cx="509.3" cy="252.9" r="0.7" fill="#b8b8b8"/><circle cx="457.4" cy="242.6" r="0.9" fill="#8a8a8a"/><circle cx="482.6" cy="270.4" r="0.45" fill="#b8b8b8"/><circle cx="505.2" cy="267.4" r="0.55" fill="#b8b8b8"/><circle cx="447.5" cy="291.4" r="0.45" fill="#a0a0a0"/><circle cx="480.0" cy="285.0" r="0.9" fill="#a0a0a0"/><circle cx="495.8" cy="278.0" r="0.9" fill="#a0a0a0"/><circle cx="424.7" cy="213.5" r="0.7" fill="#b8b8b8"/><circle cx="447.2" cy="216.5" r="0.9" fill="#a0a0a0"/><circle cx="433.9" cy="254.0" r="0.55" fill="#b8b8b8"/><circle cx="423.6" cy="274.7" r="0.45" fill="#a0a0a0"/><circle cx="466.1" cy="224.2" r="0.45" fill="#b8b8b8"/><circle cx="429.9" cy="275.7" r="0.45" fill="#a0a0a0"/><circle cx="496.6" cy="211.4" r="0.9" fill="#b8b8b8"/><circle cx="425.2" cy="308.7" r="0.7" fill="#8a8a8a"/><circle cx="420.6" cy="303.3" r="2.38" fill="#cdcdcd" fill-opacity="0.85" stroke="#9a9a9a" stroke-width="0.6" filter="url(#bl05)"/><circle cx="474.4" cy="241.4" r="1.95" fill="#cdcdcd" fill-opacity="0.85" stroke="#9a9a9a" stroke-width="0.6" filter="url(#bl05)"/><circle cx="519.4965929803757" cy="235.85670262463222" r="2.197781405203332" fill="#d4d4d4" filter="url(#bl15)"/><circle cx="531.3" cy="236.0" r="1.81" fill="#cdcdcd" fill-opacity="0.85" stroke="#9a9a9a" stroke-width="0.6" filter="url(#bl05)"/><circle cx="473.1" cy="313.4" r="2.40" fill="#cdcdcd" fill-opacity="0.85" stroke="#9a9a9a" stroke-width="0.6" filter="url(#bl05)"/><circle cx="479.5" cy="220.6" r="2.23" fill="#cdcdcd" fill-opacity="0.85" stroke="#9a9a9a" stroke-width="0.6" filter="url(#bl05)"/><circle cx="489.8" cy="277.0" r="2.33" fill="#cdcdcd" fill-opacity="0.85" stroke="#9a9a9a" stroke-width="0.6" filter="url(#bl05)"/><circle cx="450.1" cy="279.6" r="2.32" fill="#cdcdcd" fill-opacity="0.85" stroke="#9a9a9a" stroke-width="0.6" filter="url(#bl05)"/><circle cx="499.7508554915182" cy="204.14028224559428" r="1.568398274118513" fill="#aaaaaa" filter="url(#bl08)"/><circle cx="480.6" cy="273.3" r="1.49" fill="#cdcdcd" fill-opacity="0.85" stroke="#9a9a9a" stroke-width="0.6" filter="url(#bl05)"/><circle cx="526.9" cy="219.9" r="2.01" fill="#cdcdcd" fill-opacity="0.85" stroke="#9a9a9a" stroke-width="0.6" filter="url(#bl05)"/><circle cx="479.0" cy="261.6" r="2.20" fill="#cdcdcd" fill-opacity="0.85" stroke="#9a9a9a" stroke-width="0.6" filter="url(#bl05)"/><circle cx="442.7003998394314" cy="264.59410525587197" r="2.608190557293672" fill="#aaaaaa" filter="url(#bl08)"/><circle cx="433.7" cy="282.6" r="1.46" fill="#cdcdcd" fill-opacity="0.85" stroke="#9a9a9a" stroke-width="0.6" filter="url(#bl05)"/><circle cx="527.9" cy="228.0" r="1.60" fill="#cdcdcd" fill-opacity="0.85" stroke="#9a9a9a" stroke-width="0.6" filter="url(#bl05)"/><circle cx="425.8" cy="202.2" r="4.3" fill="#d4d4d4" filter="url(#bl15)"/><g filter="url(#bl03)"><circle cx="453.4" cy="225.5" r="5.9" fill="#e6e6e6" fill-opacity="0.55" stroke="#4c4c4c" stroke-width="0.85"/><circle cx="453.4" cy="225.5" r="4.80" fill="none" stroke="#c2c2c2" stroke-width="0.8"/><circle cx="451.63" cy="226.68" r="1.06" fill="#c8c8c8"/><circle cx="455.46" cy="224.03" r="0.71" fill="#bdbdbd"/></g><circle cx="504.6" cy="220.6" r="7.9" fill="#c6c6c6" filter="url(#bl10)"/><g filter="url(#bl03)"><circle cx="486.5" cy="217.6" r="6.9" fill="#e6e6e6" fill-opacity="0.55" stroke="#4c4c4c" stroke-width="0.85"/><circle cx="486.5" cy="217.6" r="5.80" fill="none" stroke="#c2c2c2" stroke-width="0.8"/><circle cx="484.43" cy="218.98" r="1.24" fill="#c8c8c8"/><circle cx="488.92" cy="215.88" r="0.83" fill="#bdbdbd"/></g><circle cx="490.4" cy="231.4" r="6.3" fill="#aaaaaa" filter="url(#bl08)"/><circle cx="512.9" cy="220.6" r="4.3" fill="#5a5a5a" filter="url(#bl08)"/><circle cx="492.8" cy="206.8" r="3.5" fill="#aaaaaa" filter="url(#bl08)"/><g filter="url(#bl03)"><circle cx="503.2" cy="241.3" r="6.9" fill="#e6e6e6" fill-opacity="0.55" stroke="#4c4c4c" stroke-width="0.85"/><circle cx="503.2" cy="241.3" r="5.80" fill="none" stroke="#c2c2c2" stroke-width="0.8"/><circle cx="501.13" cy="242.68" r="1.24" fill="#c8c8c8"/><circle cx="505.62" cy="239.58" r="0.83" fill="#bdbdbd"/></g><circle cx="417.9" cy="242.3" r="4.0" fill="#dcdcdc" fill-opacity="0.7" stroke="#6a6a6a" stroke-width="0.75" filter="url(#bl03)"/><g filter="url(#bl03)"><circle cx="435.0" cy="250.1" r="6.9" fill="#e6e6e6" fill-opacity="0.55" stroke="#4c4c4c" stroke-width="0.85"/><circle cx="435.0" cy="250.1" r="5.80" fill="none" stroke="#c2c2c2" stroke-width="0.8"/><circle cx="432.93" cy="251.48" r="1.24" fill="#c8c8c8"/><circle cx="437.42" cy="248.38" r="0.83" fill="#bdbdbd"/></g><g filter="url(#bl03)"><circle cx="469.1" cy="250.1" r="5.5" fill="#e6e6e6" fill-opacity="0.55" stroke="#4c4c4c" stroke-width="0.85"/><circle cx="469.1" cy="250.1" r="4.40" fill="none" stroke="#c2c2c2" stroke-width="0.8"/><circle cx="467.45" cy="251.20" r="0.99" fill="#c8c8c8"/><circle cx="471.03" cy="248.72" r="0.66" fill="#bdbdbd"/></g><g filter="url(#bl03)"><circle cx="487.8" cy="253.7" r="4.9" fill="#e6e6e6" fill-opacity="0.55" stroke="#4c4c4c" stroke-width="0.85"/><circle cx="487.8" cy="253.7" r="3.80" fill="none" stroke="#c2c2c2" stroke-width="0.8"/><circle cx="486.33" cy="254.68" r="0.88" fill="#c8c8c8"/><circle cx="489.51" cy="252.47" r="0.59" fill="#bdbdbd"/></g><circle cx="522.3" cy="257.0" r="6.9" fill="#c6c6c6" filter="url(#bl10)"/><circle cx="535.5" cy="242.3" r="3.0" fill="#dcdcdc" fill-opacity="0.7" stroke="#6a6a6a" stroke-width="0.75" filter="url(#bl03)"/><circle cx="469.1" cy="262.0" r="3.5" fill="#aaaaaa" filter="url(#bl08)"/><circle cx="475.0" cy="267.9" r="7.9" fill="#d4d4d4" filter="url(#bl15)"/><g filter="url(#bl03)"><circle cx="463.2" cy="279.7" r="6.3" fill="#b2b2b2" fill-opacity="0.9" stroke="#3c3c3c" stroke-width="0.95"/><circle cx="463.2" cy="279.7" r="5.00" fill="none" stroke="#7a7a7a" stroke-width="1.0"/></g><circle cx="489.8" cy="273.2" r="3.5" fill="#aaaaaa" filter="url(#bl08)"/><g filter="url(#bl03)"><circle cx="423.8" cy="287.6" r="8.9" fill="#e6e6e6" fill-opacity="0.55" stroke="#4c4c4c" stroke-width="0.85"/><circle cx="423.8" cy="287.6" r="7.80" fill="none" stroke="#c2c2c2" stroke-width="0.8"/><circle cx="421.13" cy="289.38" r="1.60" fill="#c8c8c8"/><circle cx="426.92" cy="285.38" r="1.07" fill="#bdbdbd"/></g><circle cx="507.6" cy="287.6" r="5.3" fill="#8e8e8e" filter="url(#bl08)"/><circle cx="523.9" cy="289.6" r="3.5" fill="#8e8e8e" filter="url(#bl08)"/><circle cx="471.1" cy="294.5" r="7.9" fill="#d4d4d4" filter="url(#bl15)"/><circle cx="433.6" cy="307.3" r="8.9" fill="#aaaaaa" filter="url(#bl08)"/><circle cx="468.1" cy="310.2" r="4.3" fill="#aaaaaa" filter="url(#bl08)"/><circle cx="508.5" cy="306.3" r="4.3" fill="#aaaaaa" filter="url(#bl08)"/><circle cx="521.4" cy="308.3" r="4.0" fill="#8e8e8e" filter="url(#bl08)"/><circle cx="533.2" cy="314.2" r="4.3" fill="#aaaaaa" filter="url(#bl08)"/><g filter="url(#bl03)"><circle cx="441.5" cy="318.1" r="5.9" fill="#e6e6e6" fill-opacity="0.55" stroke="#4c4c4c" stroke-width="0.85"/><circle cx="441.5" cy="318.1" r="4.80" fill="none" stroke="#c2c2c2" stroke-width="0.8"/><circle cx="439.73" cy="319.28" r="1.06" fill="#c8c8c8"/><circle cx="443.56" cy="316.62" r="0.71" fill="#bdbdbd"/></g><circle cx="535.1" cy="267.9" r="4.0" fill="#aaaaaa" filter="url(#bl08)"/><circle cx="536.0" cy="289.0" r="3.0" fill="#aaaaaa" filter="url(#bl08)"/><circle cx="473.0" cy="281.0" r="4.3" fill="#d4d4d4" filter="url(#bl15)"/><circle cx="437.0" cy="223.0" r="2.0" fill="#aaaaaa" filter="url(#bl08)"/><circle cx="427.0" cy="213.0" r="2.0" fill="#aaaaaa" filter="url(#bl08)"/><circle cx="523.0" cy="236.0" r="4.0" fill="#d4d4d4" filter="url(#bl15)"/><circle cx="533.0" cy="206.0" r="4.0" fill="#d4d4d4" filter="url(#bl15)"/><circle cx="505.0" cy="270.0" r="3.5" fill="#d4d4d4" filter="url(#bl15)"/><circle cx="445.0" cy="270.0" r="3.0" fill="#d4d4d4" filter="url(#bl15)"/><circle cx="518.0" cy="274.0" r="3.0" fill="#d4d4d4" filter="url(#bl15)"/><circle cx="480.0" cy="205.0" r="2.0" fill="#aaaaaa" filter="url(#bl08)"/><circle cx="447.0" cy="298.0" r="3.0" fill="#d4d4d4" filter="url(#bl15)"/></g>
<rect x="527.30" y="318.10" width="10.80" height="3.00" fill="#000"/>
<g clip-path="url(#clip_c4)"><rect x="554.9" y="197.9" width="124.20" height="123.20" fill="#f8f8f8"/><g filter="url(#bl30)"><circle cx="594.1" cy="292.7" r="6.6" fill="#d6d6d6" fill-opacity="0.55"/><circle cx="590.5" cy="246.0" r="12.3" fill="#d6d6d6" fill-opacity="0.55"/><circle cx="598.1" cy="271.1" r="6.7" fill="#d6d6d6" fill-opacity="0.55"/><circle cx="576.2" cy="284.0" r="9.9" fill="#d6d6d6" fill-opacity="0.55"/><circle cx="644.4" cy="252.3" r="9.4" fill="#d6d6d6" fill-opacity="0.55"/><circle cx="579.8" cy="225.4" r="6.4" fill="#d6d6d6" fill-opacity="0.55"/></g><circle cx="558.2" cy="294.2" r="0.7" fill="#a0a0a0"/><circle cx="566.8" cy="279.7" r="0.45" fill="#8a8a8a"/><circle cx="619.7" cy="257.7" r="0.45" fill="#b8b8b8"/><circle cx="570.7" cy="238.7" r="0.9" fill="#a0a0a0"/><circle cx="570.3" cy="311.1" r="0.7" fill="#8a8a8a"/><circle cx="639.7" cy="318.4" r="0.9" fill="#8a8a8a"/><circle cx="614.7" cy="210.4" r="0.9" fill="#8a8a8a"/><circle cx="603.9" cy="273.1" r="0.45" fill="#b8b8b8"/><circle cx="558.8" cy="199.0" r="0.55" fill="#b8b8b8"/><circle cx="573.3" cy="215.1" r="0.45" fill="#a0a0a0"/><circle cx="646.8" cy="249.7" r="0.45" fill="#8a8a8a"/><circle cx="639.7" cy="221.9" r="0.55" fill="#a0a0a0"/><circle cx="637.1" cy="280.2" r="0.9" fill="#a0a0a0"/><circle cx="649.0" cy="315.7" r="0.9" fill="#a0a0a0"/><circle cx="577.9" cy="318.0" r="0.9" fill="#a0a0a0"/><circle cx="580.8" cy="304.4" r="0.55" fill="#a0a0a0"/><circle cx="599.6" cy="262.9" r="0.7" fill="#b8b8b8"/><circle cx="558.7" cy="216.2" r="0.9" fill="#a0a0a0"/><circle cx="614.0" cy="202.6" r="0.55" fill="#b8b8b8"/><circle cx="596.7" cy="230.6" r="0.55" fill="#8a8a8a"/><circle cx="676.2" cy="306.8" r="0.7" fill="#8a8a8a"/><circle cx="660.9" cy="262.9" r="0.9" fill="#a0a0a0"/><circle cx="651.1" cy="222.8" r="0.55" fill="#8a8a8a"/><circle cx="647.5" cy="227.0" r="0.55" fill="#a0a0a0"/><circle cx="582.2" cy="285.6" r="0.9" fill="#b8b8b8"/><circle cx="654.8" cy="251.1" r="0.9" fill="#a0a0a0"/><circle cx="662.7" cy="240.9" r="0.7" fill="#b8b8b8"/><circle cx="637.7" cy="214.3" r="0.9" fill="#b8b8b8"/><circle cx="617.9" cy="281.6" r="0.45" fill="#a0a0a0"/><circle cx="656.6" cy="283.8" r="0.45" fill="#a0a0a0"/><circle cx="615.2" cy="266.7" r="0.45" fill="#a0a0a0"/><circle cx="586.6" cy="286.9" r="0.7" fill="#8a8a8a"/><circle cx="591.4" cy="283.3" r="0.9" fill="#8a8a8a"/><circle cx="589.1" cy="215.2" r="0.45" fill="#b8b8b8"/><circle cx="657.2" cy="214.8" r="0.55" fill="#b8b8b8"/><circle cx="587.0" cy="265.0" r="0.7" fill="#8a8a8a"/><circle cx="616.5" cy="265.7" r="0.45" fill="#8a8a8a"/><circle cx="639.4" cy="267.6" r="0.55" fill="#a0a0a0"/><circle cx="656.2" cy="216.3" r="0.55" fill="#b8b8b8"/><circle cx="674.1" cy="205.9" r="0.7" fill="#b8b8b8"/><circle cx="563.2" cy="262.5" r="0.55" fill="#8a8a8a"/><circle cx="570.6" cy="210.8" r="0.45" fill="#b8b8b8"/><circle cx="610.2" cy="209.9" r="0.55" fill="#b8b8b8"/><circle cx="605.7" cy="293.4" r="0.45" fill="#b8b8b8"/><circle cx="657.5" cy="226.6" r="0.7" fill="#8a8a8a"/><circle cx="663.1" cy="241.9" r="0.7" fill="#b8b8b8"/><circle cx="573.9" cy="301.4" r="0.45" fill="#a0a0a0"/><circle cx="604.2" cy="310.2" r="0.55" fill="#a0a0a0"/><circle cx="581.9" cy="266.3" r="0.7" fill="#a0a0a0"/><circle cx="660.6" cy="314.3" r="0.9" fill="#b8b8b8"/><circle cx="634.4" cy="215.1" r="0.7" fill="#a0a0a0"/><circle cx="591.0" cy="279.4" r="0.7" fill="#a0a0a0"/><circle cx="610.3" cy="256.1" r="0.9" fill="#8a8a8a"/><circle cx="559.8" cy="320.6" r="0.55" fill="#b8b8b8"/><circle cx="602.4" cy="261.1" r="0.45" fill="#b8b8b8"/><circle cx="575.7" cy="276.5" r="0.55" fill="#a0a0a0"/><circle cx="598.0" cy="244.3" r="0.7" fill="#b8b8b8"/><circle cx="566.9" cy="276.4" r="0.45" fill="#b8b8b8"/><circle cx="572.5" cy="299.3" r="0.55" fill="#8a8a8a"/><circle cx="623.1" cy="227.7" r="0.9" fill="#b8b8b8"/><circle cx="585.9" cy="211.6" r="2.30" fill="#cdcdcd" fill-opacity="0.85" stroke="#9a9a9a" stroke-width="0.6" filter="url(#bl05)"/><circle cx="632.1798168751349" cy="205.58870018051482" r="2.0779961486997256" fill="#aaaaaa" filter="url(#bl08)"/><circle cx="626.8136507827829" cy="263.9704582974311" r="2.4778950605287418" fill="#aaaaaa" filter="url(#bl08)"/><circle cx="597.4994361151469" cy="212.57188127551092" r="2.7665286253406918" fill="#d4d4d4" filter="url(#bl15)"/><circle cx="604.4042615479201" cy="271.29711939090646" r="2.6858446252057506" fill="#aaaaaa" filter="url(#bl08)"/><circle cx="663.2180400060421" cy="262.6190562932389" r="2.7759435215953197" fill="#d4d4d4" filter="url(#bl15)"/><circle cx="631.7" cy="227.4" r="2.73" fill="#cdcdcd" fill-opacity="0.85" stroke="#9a9a9a" stroke-width="0.6" filter="url(#bl05)"/><circle cx="660.9" cy="239.8" r="1.75" fill="#cdcdcd" fill-opacity="0.85" stroke="#9a9a9a" stroke-width="0.6" filter="url(#bl05)"/><circle cx="673.5508814076529" cy="303.28885513458886" r="2.1639396987259403" fill="#aaaaaa" filter="url(#bl08)"/><circle cx="598.4" cy="290.4" r="2.48" fill="#cdcdcd" fill-opacity="0.85" stroke="#9a9a9a" stroke-width="0.6" filter="url(#bl05)"/><circle cx="614.5332650545329" cy="209.7122066604349" r="1.5093783218417307" fill="#aaaaaa" filter="url(#bl08)"/><circle cx="658.1738478293769" cy="207.21318429827485" r="1.9515907691658732" fill="#aaaaaa" filter="url(#bl08)"/><circle cx="597.8" cy="225.9" r="1.61" fill="#cdcdcd" fill-opacity="0.85" stroke="#9a9a9a" stroke-width="0.6" filter="url(#bl05)"/><circle cx="574.4764279536545" cy="256.2927647873684" r="1.9221712196470175" fill="#aaaaaa" filter="url(#bl08)"/><circle cx="570.0" cy="250.3" r="1.41" fill="#cdcdcd" fill-opacity="0.85" stroke="#9a9a9a" stroke-width="0.6" filter="url(#bl05)"/><g filter="url(#bl03)"><circle cx="583.5" cy="219.2" r="4.3" fill="#e6e6e6" fill-opacity="0.55" stroke="#4c4c4c" stroke-width="0.85"/><circle cx="583.5" cy="219.2" r="3.20" fill="none" stroke="#c2c2c2" stroke-width="0.8"/><circle cx="582.21" cy="220.06" r="0.77" fill="#c8c8c8"/><circle cx="585.00" cy="218.12" r="0.52" fill="#bdbdbd"/></g><g filter="url(#bl03)"><circle cx="608.5" cy="223.5" r="4.9" fill="#e6e6e6" fill-opacity="0.55" stroke="#4c4c4c" stroke-width="0.85"/><circle cx="608.5" cy="223.5" r="3.80" fill="none" stroke="#c2c2c2" stroke-width="0.8"/><circle cx="607.03" cy="224.48" r="0.88" fill="#c8c8c8"/><circle cx="610.22" cy="222.28" r="0.59" fill="#bdbdbd"/></g><g filter="url(#bl03)"><circle cx="615.0" cy="227.1" r="4.3" fill="#e6e6e6" fill-opacity="0.55" stroke="#4c4c4c" stroke-width="0.85"/><circle cx="615.0" cy="227.1" r="3.20" fill="none" stroke="#c2c2c2" stroke-width="0.8"/><circle cx="613.71" cy="227.96" r="0.77" fill="#c8c8c8"/><circle cx="616.50" cy="226.03" r="0.52" fill="#bdbdbd"/></g><g filter="url(#bl03)"><circle cx="665.9" cy="227.9" r="7.9" fill="#e6e6e6" fill-opacity="0.55" stroke="#4c4c4c" stroke-width="0.85"/><circle cx="665.9" cy="227.9" r="6.80" fill="none" stroke="#c2c2c2" stroke-width="0.8"/><circle cx="663.53" cy="229.48" r="1.42" fill="#c8c8c8"/><circle cx="668.66" cy="225.93" r="0.95" fill="#bdbdbd"/></g><circle cx="643.6" cy="217.6" r="3.5" fill="#aaaaaa" filter="url(#bl08)"/><circle cx="626.9" cy="232.4" r="4.3" fill="#d4d4d4" filter="url(#bl15)"/><g filter="url(#bl03)"><circle cx="616.6" cy="244.8" r="6.3" fill="#e6e6e6" fill-opacity="0.55" stroke="#4c4c4c" stroke-width="0.85"/><circle cx="616.6" cy="244.8" r="5.20" fill="none" stroke="#c2c2c2" stroke-width="0.8"/><circle cx="614.71" cy="246.06" r="1.13" fill="#c8c8c8"/><circle cx="618.81" cy="243.23" r="0.76" fill="#bdbdbd"/></g><circle cx="591.4" cy="245.2" r="7.9" fill="#dadada" stroke="#b8b8b8" stroke-width="0.8" filter="url(#bl10)"/><circle cx="596.3" cy="253.1" r="8.2" fill="#dadada" stroke="#b8b8b8" stroke-width="0.8" filter="url(#bl10)"/><circle cx="569.7" cy="251.1" r="4.9" fill="#d4d4d4" filter="url(#bl15)"/><circle cx="563.8" cy="244.2" r="3.9" fill="#d4d4d4" filter="url(#bl15)"/><circle cx="576.6" cy="255.0" r="2.0" fill="#aaaaaa" filter="url(#bl08)"/><g filter="url(#bl03)"><circle cx="591.0" cy="263.3" r="6.9" fill="#b2b2b2" fill-opacity="0.9" stroke="#3c3c3c" stroke-width="0.95"/><circle cx="591.0" cy="263.3" r="5.60" fill="none" stroke="#7a7a7a" stroke-width="1.0"/></g><circle cx="643.6" cy="255.1" r="11.8" fill="#dadada" stroke="#b8b8b8" stroke-width="0.8" filter="url(#bl10)"/><circle cx="658.0" cy="263.0" r="3.9" fill="#d4d4d4" filter="url(#bl15)"/><circle cx="640.7" cy="263.0" r="2.8" fill="#dcdcdc" fill-opacity="0.7" stroke="#6a6a6a" stroke-width="0.75" filter="url(#bl03)"/><g filter="url(#bl03)"><circle cx="646.6" cy="271.2" r="4.9" fill="#b2b2b2" fill-opacity="0.9" stroke="#3c3c3c" stroke-width="0.95"/><circle cx="646.6" cy="271.2" r="3.60" fill="none" stroke="#7a7a7a" stroke-width="1.0"/></g><g filter="url(#bl03)"><circle cx="660.4" cy="271.8" r="4.9" fill="#e6e6e6" fill-opacity="0.55" stroke="#4c4c4c" stroke-width="0.85"/><circle cx="660.4" cy="271.8" r="3.80" fill="none" stroke="#c2c2c2" stroke-width="0.8"/><circle cx="658.93" cy="272.78" r="0.88" fill="#c8c8c8"/><circle cx="662.12" cy="270.57" r="0.59" fill="#bdbdbd"/></g><g filter="url(#bl03)"><circle cx="557.5" cy="259.0" r="4.3" fill="#e6e6e6" fill-opacity="0.55" stroke="#4c4c4c" stroke-width="0.85"/><circle cx="557.5" cy="259.0" r="3.20" fill="none" stroke="#c2c2c2" stroke-width="0.8"/><circle cx="556.21" cy="259.86" r="0.77" fill="#c8c8c8"/><circle cx="559.00" cy="257.93" r="0.52" fill="#bdbdbd"/></g><g filter="url(#bl03)"><circle cx="562.8" cy="279.7" r="6.9" fill="#b2b2b2" fill-opacity="0.9" stroke="#3c3c3c" stroke-width="0.95"/><circle cx="562.8" cy="279.7" r="5.60" fill="none" stroke="#7a7a7a" stroke-width="1.0"/></g><circle cx="573.6" cy="285.6" r="6.9" fill="#aaaaaa" filter="url(#bl08)"/><circle cx="557.0" cy="270.0" r="3.9" fill="#d4d4d4" filter="url(#bl15)"/><g filter="url(#bl03)"><circle cx="606.8" cy="276.7" r="4.9" fill="#e6e6e6" fill-opacity="0.55" stroke="#4c4c4c" stroke-width="0.85"/><circle cx="606.8" cy="276.7" r="3.80" fill="none" stroke="#c2c2c2" stroke-width="0.8"/><circle cx="605.33" cy="277.68" r="0.88" fill="#c8c8c8"/><circle cx="608.51" cy="275.47" r="0.59" fill="#bdbdbd"/></g><g filter="url(#bl03)"><circle cx="617.6" cy="273.8" r="4.3" fill="#e6e6e6" fill-opacity="0.55" stroke="#4c4c4c" stroke-width="0.85"/><circle cx="617.6" cy="273.8" r="3.20" fill="none" stroke="#c2c2c2" stroke-width="0.8"/><circle cx="616.31" cy="274.66" r="0.77" fill="#c8c8c8"/><circle cx="619.11" cy="272.73" r="0.52" fill="#bdbdbd"/></g><circle cx="615.0" cy="278.7" r="4.9" fill="#aaaaaa" filter="url(#bl08)"/><circle cx="674.2" cy="283.6" r="4.9" fill="#8e8e8e" filter="url(#bl08)"/><g filter="url(#bl03)"><circle cx="674.2" cy="278.7" r="4.3" fill="#e6e6e6" fill-opacity="0.55" stroke="#4c4c4c" stroke-width="0.85"/><circle cx="674.2" cy="278.7" r="3.20" fill="none" stroke="#c2c2c2" stroke-width="0.8"/><circle cx="672.91" cy="279.56" r="0.77" fill="#c8c8c8"/><circle cx="675.71" cy="277.62" r="0.52" fill="#bdbdbd"/></g><circle cx="609.1" cy="292.5" r="3.5" fill="#aaaaaa" filter="url(#bl08)"/><circle cx="579.6" cy="268.9" r="5.9" fill="#d4d4d4" filter="url(#bl15)"/><circle cx="639.7" cy="305.3" r="5.9" fill="#d4d4d4" filter="url(#bl15)"/><circle cx="669.2" cy="308.3" r="3.5" fill="#8e8e8e" filter="url(#bl08)"/><circle cx="675.0" cy="305.0" r="4.0" fill="#d4d4d4" filter="url(#bl15)"/><circle cx="633.8" cy="298.0" r="2.0" fill="#dcdcdc" fill-opacity="0.7" stroke="#6a6a6a" stroke-width="0.75" filter="url(#bl03)"/><circle cx="575.0" cy="236.0" r="1.5" fill="#aaaaaa" filter="url(#bl08)"/><circle cx="645.0" cy="290.0" r="3.0" fill="#d4d4d4" filter="url(#bl15)"/><circle cx="600.0" cy="300.0" r="3.0" fill="#d4d4d4" filter="url(#bl15)"/><circle cx="565.0" cy="300.0" r="4.0" fill="#d4d4d4" filter="url(#bl15)"/><circle cx="630.0" cy="215.0" r="2.0" fill="#aaaaaa" filter="url(#bl08)"/><circle cx="600.0" cy="210.0" r="1.5" fill="#aaaaaa" filter="url(#bl08)"/></g>
<rect x="667.30" y="318.10" width="10.80" height="3.00" fill="#000"/>
<g clip-path="url(#clip_f1)"><rect x="414.9" y="365.9" width="124.20" height="123.80" fill="url(#grad1)"/><circle cx="419.0" cy="400.4" r="0.45" fill="#a0a0a0"/><circle cx="452.0" cy="428.1" r="0.55" fill="#a0a0a0"/><circle cx="431.3" cy="374.6" r="0.7" fill="#8a8a8a"/><circle cx="422.2" cy="442.9" r="0.55" fill="#8a8a8a"/><circle cx="499.2" cy="429.3" r="0.7" fill="#8a8a8a"/><circle cx="521.9" cy="412.7" r="0.7" fill="#b8b8b8"/><circle cx="532.0" cy="367.6" r="0.7" fill="#a0a0a0"/><circle cx="442.4" cy="428.2" r="0.45" fill="#8a8a8a"/><circle cx="428.9" cy="446.9" r="0.55" fill="#b8b8b8"/><circle cx="485.7" cy="489.3" r="0.9" fill="#8a8a8a"/><circle cx="445.0" cy="415.1" r="0.7" fill="#8a8a8a"/><circle cx="424.8" cy="381.6" r="0.55" fill="#b8b8b8"/><circle cx="508.2" cy="423.0" r="0.7" fill="#b8b8b8"/><circle cx="490.1" cy="407.6" r="0.7" fill="#a0a0a0"/><circle cx="451.9" cy="462.1" r="0.7" fill="#a0a0a0"/><circle cx="434.9" cy="371.0" r="0.45" fill="#b8b8b8"/><circle cx="511.7" cy="468.1" r="0.7" fill="#8a8a8a"/><circle cx="444.5" cy="406.4" r="0.7" fill="#8a8a8a"/><circle cx="458.8" cy="489.4" r="0.55" fill="#a0a0a0"/><circle cx="420.4" cy="431.9" r="0.55" fill="#a0a0a0"/><circle cx="460.1" cy="468.4" r="0.55" fill="#b8b8b8"/><circle cx="419.3" cy="396.4" r="0.45" fill="#8a8a8a"/><circle cx="516.2" cy="398.3" r="0.9" fill="#a0a0a0"/><circle cx="536.4" cy="478.1" r="0.55" fill="#8a8a8a"/><circle cx="497.7" cy="384.7" r="0.9" fill="#8a8a8a"/><circle cx="531.6" cy="467.9" r="0.55" fill="#8a8a8a"/><circle cx="489.2" cy="462.3" r="0.9" fill="#a0a0a0"/><circle cx="497.4" cy="461.4" r="0.9" fill="#b8b8b8"/><circle cx="502.7" cy="479.5" r="0.45" fill="#a0a0a0"/><circle cx="471.1" cy="377.0" r="0.45" fill="#b8b8b8"/><circle cx="458.9" cy="480.1" r="0.7" fill="#a0a0a0"/><circle cx="438.9" cy="390.7" r="0.55" fill="#8a8a8a"/><circle cx="523.8" cy="386.5" r="0.9" fill="#b8b8b8"/><circle cx="428.9" cy="470.9" r="0.45" fill="#a0a0a0"/><circle cx="425.8" cy="459.0" r="0.55" fill="#b8b8b8"/><circle cx="504.1" cy="473.8" r="0.55" fill="#b8b8b8"/><circle cx="432.3" cy="389.1" r="0.9" fill="#b8b8b8"/><circle cx="453.6" cy="386.7" r="0.9" fill="#8a8a8a"/><circle cx="494.2" cy="443.8" r="0.55" fill="#b8b8b8"/><circle cx="471.5" cy="406.0" r="0.55" fill="#a0a0a0"/><circle cx="533.4" cy="486.7" r="0.7" fill="#8a8a8a"/><circle cx="469.3" cy="455.2" r="0.45" fill="#a0a0a0"/><circle cx="446.2" cy="432.1" r="0.55" fill="#8a8a8a"/><circle cx="430.2" cy="452.5" r="0.45" fill="#8a8a8a"/><circle cx="481.2" cy="465.0" r="0.9" fill="#a0a0a0"/><circle cx="449.5" cy="386.6" r="0.45" fill="#a0a0a0"/><circle cx="490.6" cy="471.2" r="0.7" fill="#8a8a8a"/><circle cx="513.0" cy="376.4" r="0.55" fill="#8a8a8a"/><circle cx="525.4" cy="366.6" r="0.55" fill="#b8b8b8"/><circle cx="521.8" cy="401.0" r="0.55" fill="#b8b8b8"/><circle cx="468.3" cy="399.9" r="0.9" fill="#8a8a8a"/><circle cx="443.8" cy="397.5" r="0.55" fill="#8a8a8a"/><circle cx="500.6" cy="456.7" r="0.55" fill="#8a8a8a"/><circle cx="502.8" cy="456.7" r="0.7" fill="#a0a0a0"/><circle cx="420.6" cy="483.2" r="0.7" fill="#b8b8b8"/><circle cx="499.6" cy="396.9" r="0.45" fill="#b8b8b8"/><circle cx="444.2" cy="469.8" r="0.7" fill="#a0a0a0"/><circle cx="461.4" cy="486.4" r="0.45" fill="#a0a0a0"/><circle cx="471.3" cy="396.4" r="0.55" fill="#b8b8b8"/><circle cx="484.0" cy="387.7" r="0.7" fill="#b8b8b8"/><circle cx="516.3259019541462" cy="393.38902119810547" r="2.7137791654017693" fill="#d4d4d4" filter="url(#bl15)"/><circle cx="440.2" cy="417.9" r="2.52" fill="#cdcdcd" fill-opacity="0.85" stroke="#9a9a9a" stroke-width="0.6" filter="url(#bl05)"/><circle cx="500.78906577886437" cy="434.87842831699993" r="1.5749660835090629" fill="#d4d4d4" filter="url(#bl15)"/><circle cx="466.9" cy="413.8" r="1.72" fill="#cdcdcd" fill-opacity="0.85" stroke="#9a9a9a" stroke-width="0.6" filter="url(#bl05)"/><circle cx="513.8167823350891" cy="454.7130069011878" r="2.4589166821938746" fill="#d4d4d4" filter="url(#bl15)"/><circle cx="513.5" cy="405.4" r="2.44" fill="#cdcdcd" fill-opacity="0.85" stroke="#9a9a9a" stroke-width="0.6" filter="url(#bl05)"/><circle cx="523.8304687452248" cy="422.00623076566893" r="1.3960797988353426" fill="#d4d4d4" filter="url(#bl15)"/><circle cx="508.40762252421507" cy="380.81346013931886" r="1.4489465907830443" fill="#d4d4d4" filter="url(#bl15)"/><circle cx="524.1" cy="408.7" r="2.62" fill="#cdcdcd" fill-opacity="0.85" stroke="#9a9a9a" stroke-width="0.6" filter="url(#bl05)"/><circle cx="501.22338952923667" cy="418.2875535213221" r="2.0547497668967787" fill="#aaaaaa" filter="url(#bl08)"/><g filter="url(#bl03)"><circle cx="451.8" cy="374.8" r="6.9" fill="#e6e6e6" fill-opacity="0.55" stroke="#4c4c4c" stroke-width="0.85"/><circle cx="451.8" cy="374.8" r="5.80" fill="none" stroke="#c2c2c2" stroke-width="0.8"/><circle cx="449.73" cy="376.18" r="1.24" fill="#c8c8c8"/><circle cx="454.22" cy="373.07" r="0.83" fill="#bdbdbd"/></g><circle cx="476.6" cy="375.8" r="5.9" fill="#d4d4d4" filter="url(#bl15)"/><g filter="url(#bl03)"><circle cx="418.9" cy="382.7" r="4.3" fill="#e6e6e6" fill-opacity="0.55" stroke="#4c4c4c" stroke-width="0.85"/><circle cx="418.9" cy="382.7" r="3.20" fill="none" stroke="#c2c2c2" stroke-width="0.8"/><circle cx="417.61" cy="383.56" r="0.77" fill="#c8c8c8"/><circle cx="420.40" cy="381.62" r="0.52" fill="#bdbdbd"/></g><g filter="url(#bl03)"><circle cx="439.2" cy="388.6" r="4.3" fill="#e6e6e6" fill-opacity="0.55" stroke="#4c4c4c" stroke-width="0.85"/><circle cx="439.2" cy="388.6" r="3.20" fill="none" stroke="#c2c2c2" stroke-width="0.8"/><circle cx="437.91" cy="389.46" r="0.77" fill="#c8c8c8"/><circle cx="440.70" cy="387.53" r="0.52" fill="#bdbdbd"/></g><circle cx="457.3" cy="393.1" r="4.3" fill="#d4d4d4" filter="url(#bl15)"/><g filter="url(#bl03)"><circle cx="494.4" cy="390.0" r="4.3" fill="#e6e6e6" fill-opacity="0.55" stroke="#4c4c4c" stroke-width="0.85"/><circle cx="494.4" cy="390.0" r="3.20" fill="none" stroke="#c2c2c2" stroke-width="0.8"/><circle cx="493.11" cy="390.86" r="0.77" fill="#c8c8c8"/><circle cx="495.90" cy="388.93" r="0.52" fill="#bdbdbd"/></g><circle cx="511.5" cy="395.1" r="5.5" fill="#d4d4d4" filter="url(#bl15)"/><circle cx="426.2" cy="410.3" r="3.9" fill="#dcdcdc" fill-opacity="0.7" stroke="#6a6a6a" stroke-width="0.75" filter="url(#bl03)"/><circle cx="430.7" cy="416.2" r="6.3" fill="#d4d4d4" filter="url(#bl15)"/><g filter="url(#bl03)"><circle cx="486.5" cy="409.3" r="4.9" fill="#e6e6e6" fill-opacity="0.55" stroke="#4c4c4c" stroke-width="0.85"/><circle cx="486.5" cy="409.3" r="3.80" fill="none" stroke="#c2c2c2" stroke-width="0.8"/><circle cx="485.03" cy="410.28" r="0.88" fill="#c8c8c8"/><circle cx="488.21" cy="408.07" r="0.59" fill="#bdbdbd"/></g><g filter="url(#bl03)"><circle cx="515.4" cy="413.2" r="6.3" fill="#e6e6e6" fill-opacity="0.55" stroke="#4c4c4c" stroke-width="0.85"/><circle cx="515.4" cy="413.2" r="5.20" fill="none" stroke="#c2c2c2" stroke-width="0.8"/><circle cx="513.51" cy="414.46" r="1.13" fill="#c8c8c8"/><circle cx="517.61" cy="411.62" r="0.76" fill="#bdbdbd"/></g><circle cx="533.2" cy="413.2" r="3.9" fill="#dcdcdc" fill-opacity="0.7" stroke="#6a6a6a" stroke-width="0.75" filter="url(#bl03)"/><g filter="url(#bl03)"><circle cx="506.2" cy="425.0" r="4.3" fill="#e6e6e6" fill-opacity="0.55" stroke="#4c4c4c" stroke-width="0.85"/><circle cx="506.2" cy="425.0" r="3.20" fill="none" stroke="#c2c2c2" stroke-width="0.8"/><circle cx="504.91" cy="425.86" r="0.77" fill="#c8c8c8"/><circle cx="507.70" cy="423.93" r="0.52" fill="#bdbdbd"/></g><circle cx="483.3" cy="423.1" r="2.8" fill="#dcdcdc" fill-opacity="0.7" stroke="#6a6a6a" stroke-width="0.75" filter="url(#bl03)"/><circle cx="477.4" cy="432.0" r="2.8" fill="#dcdcdc" fill-opacity="0.7" stroke="#6a6a6a" stroke-width="0.75" filter="url(#bl03)"/><circle cx="426.8" cy="436.9" r="5.9" fill="#d4d4d4" filter="url(#bl15)"/><g filter="url(#bl03)"><circle cx="462.8" cy="445.7" r="6.9" fill="#e6e6e6" fill-opacity="0.55" stroke="#4c4c4c" stroke-width="0.85"/><circle cx="462.8" cy="445.7" r="5.80" fill="none" stroke="#c2c2c2" stroke-width="0.8"/><circle cx="460.73" cy="447.08" r="1.24" fill="#c8c8c8"/><circle cx="465.22" cy="443.97" r="0.83" fill="#bdbdbd"/></g><circle cx="477.0" cy="444.7" r="4.3" fill="#d4d4d4" filter="url(#bl15)"/><circle cx="500.6" cy="446.7" r="4.9" fill="#d4d4d4" filter="url(#bl15)"/><circle cx="433.6" cy="454.6" r="4.9" fill="#aaaaaa" filter="url(#bl08)"/><circle cx="423.8" cy="464.5" r="3.9" fill="#8e8e8e" filter="url(#bl08)"/><circle cx="444.5" cy="457.6" r="2.4" fill="#dcdcdc" fill-opacity="0.7" stroke="#6a6a6a" stroke-width="0.75" filter="url(#bl03)"/><g filter="url(#bl03)"><circle cx="486.9" cy="469.0" r="7.5" fill="#e6e6e6" fill-opacity="0.55" stroke="#4c4c4c" stroke-width="0.85"/><circle cx="486.9" cy="469.0" r="6.40" fill="none" stroke="#c2c2c2" stroke-width="0.8"/><circle cx="484.65" cy="470.50" r="1.35" fill="#c8c8c8"/><circle cx="489.52" cy="467.12" r="0.90" fill="#bdbdbd"/></g><g filter="url(#bl03)"><circle cx="534.2" cy="461.5" r="4.3" fill="#e6e6e6" fill-opacity="0.55" stroke="#4c4c4c" stroke-width="0.85"/><circle cx="534.2" cy="461.5" r="3.20" fill="none" stroke="#c2c2c2" stroke-width="0.8"/><circle cx="532.91" cy="462.36" r="0.77" fill="#c8c8c8"/><circle cx="535.71" cy="460.43" r="0.52" fill="#bdbdbd"/></g><circle cx="473.1" cy="466.4" r="4.9" fill="#d4d4d4" filter="url(#bl15)"/><circle cx="443.5" cy="472.7" r="2.8" fill="#dcdcdc" fill-opacity="0.7" stroke="#6a6a6a" stroke-width="0.75" filter="url(#bl03)"/><circle cx="451.4" cy="481.8" r="2.8" fill="#dcdcdc" fill-opacity="0.7" stroke="#6a6a6a" stroke-width="0.75" filter="url(#bl03)"/><circle cx="516.4" cy="468.0" r="2.4" fill="#dcdcdc" fill-opacity="0.7" stroke="#6a6a6a" stroke-width="0.75" filter="url(#bl03)"/><circle cx="501.6" cy="480.2" r="4.9" fill="#d4d4d4" filter="url(#bl15)"/><circle cx="535.0" cy="485.0" r="2.4" fill="#dcdcdc" fill-opacity="0.7" stroke="#6a6a6a" stroke-width="0.75" filter="url(#bl03)"/><circle cx="535.0" cy="424.0" r="3.0" fill="#d4d4d4" filter="url(#bl15)"/><circle cx="418.0" cy="398.0" r="2.0" fill="#d4d4d4" filter="url(#bl15)"/><circle cx="467.0" cy="380.0" r="2.0" fill="#d4d4d4" filter="url(#bl15)"/><circle cx="455.0" cy="450.0" r="3.0" fill="#d4d4d4" filter="url(#bl15)"/><circle cx="529.0" cy="398.0" r="1.5" fill="#aaaaaa" filter="url(#bl08)"/></g>
<rect x="527.30" y="486.70" width="10.80" height="3.00" fill="#000"/>
<g clip-path="url(#clip_f2)"><rect x="554.9" y="365.9" width="124.20" height="123.80" fill="url(#grad2)"/><circle cx="568.0" cy="409.9" r="0.9" fill="#8a8a8a"/><circle cx="616.6" cy="465.6" r="0.55" fill="#a0a0a0"/><circle cx="620.3" cy="466.2" r="0.9" fill="#8a8a8a"/><circle cx="633.9" cy="402.9" r="0.7" fill="#8a8a8a"/><circle cx="649.2" cy="385.8" r="0.7" fill="#b8b8b8"/><circle cx="619.2" cy="439.5" r="0.9" fill="#a0a0a0"/><circle cx="591.3" cy="413.7" r="0.7" fill="#a0a0a0"/><circle cx="657.3" cy="384.3" r="0.45" fill="#a0a0a0"/><circle cx="660.2" cy="430.2" r="0.45" fill="#8a8a8a"/><circle cx="614.2" cy="374.0" r="0.55" fill="#a0a0a0"/><circle cx="563.7" cy="374.5" r="0.55" fill="#b8b8b8"/><circle cx="643.9" cy="394.4" r="0.55" fill="#b8b8b8"/><circle cx="564.7" cy="443.2" r="0.45" fill="#a0a0a0"/><circle cx="582.5" cy="367.0" r="0.9" fill="#8a8a8a"/><circle cx="593.8" cy="417.5" r="0.55" fill="#8a8a8a"/><circle cx="578.6" cy="463.2" r="0.9" fill="#b8b8b8"/><circle cx="555.6" cy="474.5" r="0.45" fill="#8a8a8a"/><circle cx="655.8" cy="376.5" r="0.45" fill="#a0a0a0"/><circle cx="625.2" cy="371.6" r="0.55" fill="#b8b8b8"/><circle cx="643.5" cy="381.5" r="0.7" fill="#b8b8b8"/><circle cx="669.9" cy="411.9" r="0.45" fill="#8a8a8a"/><circle cx="670.1" cy="395.2" r="0.7" fill="#8a8a8a"/><circle cx="637.8" cy="438.2" r="0.45" fill="#b8b8b8"/><circle cx="600.1" cy="487.4" r="0.55" fill="#b8b8b8"/><circle cx="633.2" cy="468.1" r="0.45" fill="#8a8a8a"/><circle cx="628.6" cy="377.7" r="0.7" fill="#b8b8b8"/><circle cx="579.3" cy="428.0" r="0.45" fill="#8a8a8a"/><circle cx="578.2" cy="379.9" r="0.9" fill="#a0a0a0"/><circle cx="588.0" cy="411.3" r="0.7" fill="#b8b8b8"/><circle cx="560.7" cy="484.1" r="0.9" fill="#b8b8b8"/><circle cx="620.9" cy="434.9" r="0.45" fill="#8a8a8a"/><circle cx="597.2" cy="463.8" r="0.45" fill="#8a8a8a"/><circle cx="644.8" cy="456.3" r="0.9" fill="#a0a0a0"/><circle cx="599.4" cy="441.3" r="0.45" fill="#b8b8b8"/><circle cx="611.1" cy="388.9" r="0.45" fill="#8a8a8a"/><circle cx="572.1" cy="386.0" r="0.7" fill="#a0a0a0"/><circle cx="558.9" cy="399.1" r="0.7" fill="#a0a0a0"/><circle cx="632.1" cy="417.4" r="0.45" fill="#8a8a8a"/><circle cx="670.6" cy="479.9" r="0.55" fill="#8a8a8a"/><circle cx="622.6" cy="451.0" r="0.9" fill="#a0a0a0"/><circle cx="620.8" cy="377.0" r="0.55" fill="#8a8a8a"/><circle cx="587.2" cy="373.3" r="0.55" fill="#a0a0a0"/><circle cx="555.7" cy="457.9" r="0.7" fill="#b8b8b8"/><circle cx="583.3" cy="460.1" r="0.7" fill="#a0a0a0"/><circle cx="642.0" cy="478.8" r="0.9" fill="#8a8a8a"/><circle cx="603.7" cy="487.1" r="0.7" fill="#b8b8b8"/><circle cx="602.2" cy="433.5" r="0.9" fill="#a0a0a0"/><circle cx="637.8" cy="411.0" r="0.45" fill="#b8b8b8"/><circle cx="651.1" cy="486.8" r="0.7" fill="#8a8a8a"/><circle cx="668.6" cy="392.0" r="0.7" fill="#8a8a8a"/><circle cx="624.6" cy="462.5" r="0.55" fill="#b8b8b8"/><circle cx="617.7" cy="387.5" r="0.45" fill="#a0a0a0"/><circle cx="564.7" cy="455.5" r="0.7" fill="#b8b8b8"/><circle cx="672.4" cy="477.4" r="0.45" fill="#8a8a8a"/><circle cx="622.1" cy="383.2" r="0.9" fill="#a0a0a0"/><circle cx="592.0" cy="422.8" r="0.45" fill="#8a8a8a"/><circle cx="586.7" cy="380.6" r="0.9" fill="#b8b8b8"/><circle cx="605.7" cy="430.8" r="0.9" fill="#8a8a8a"/><circle cx="603.8" cy="373.4" r="0.55" fill="#b8b8b8"/><circle cx="637.0" cy="373.3" r="0.45" fill="#b8b8b8"/><circle cx="614.7458454156117" cy="447.6972893555475" r="2.2297505427024196" fill="#d4d4d4" filter="url(#bl15)"/><circle cx="665.4" cy="458.0" r="1.54" fill="#cdcdcd" fill-opacity="0.85" stroke="#9a9a9a" stroke-width="0.6" filter="url(#bl05)"/><circle cx="620.2" cy="371.2" r="2.19" fill="#cdcdcd" fill-opacity="0.85" stroke="#9a9a9a" stroke-width="0.6" filter="url(#bl05)"/><circle cx="644.5" cy="424.0" r="1.83" fill="#cdcdcd" fill-opacity="0.85" stroke="#9a9a9a" stroke-width="0.6" filter="url(#bl05)"/><circle cx="645.0819899950602" cy="448.5962199217034" r="2.3314267482683153" fill="#d4d4d4" filter="url(#bl15)"/><circle cx="619.5" cy="416.7" r="1.90" fill="#cdcdcd" fill-opacity="0.85" stroke="#9a9a9a" stroke-width="0.6" filter="url(#bl05)"/><circle cx="564.7" cy="448.9" r="1.76" fill="#cdcdcd" fill-opacity="0.85" stroke="#9a9a9a" stroke-width="0.6" filter="url(#bl05)"/><circle cx="626.8" cy="477.2" r="2.50" fill="#cdcdcd" fill-opacity="0.85" stroke="#9a9a9a" stroke-width="0.6" filter="url(#bl05)"/><circle cx="669.7" cy="398.5" r="2.14" fill="#cdcdcd" fill-opacity="0.85" stroke="#9a9a9a" stroke-width="0.6" filter="url(#bl05)"/><circle cx="664.2" cy="398.8" r="2.50" fill="#cdcdcd" fill-opacity="0.85" stroke="#9a9a9a" stroke-width="0.6" filter="url(#bl05)"/><g filter="url(#bl03)"><circle cx="618.0" cy="412.8" r="6.9" fill="#e6e6e6" fill-opacity="0.55" stroke="#4c4c4c" stroke-width="0.85"/><circle cx="618.0" cy="412.8" r="5.80" fill="none" stroke="#c2c2c2" stroke-width="0.8"/><circle cx="615.93" cy="414.18" r="1.24" fill="#c8c8c8"/><circle cx="620.41" cy="411.07" r="0.83" fill="#bdbdbd"/></g><g filter="url(#bl03)"><circle cx="637.7" cy="446.7" r="7.5" fill="#e6e6e6" fill-opacity="0.55" stroke="#4c4c4c" stroke-width="0.85"/><circle cx="637.7" cy="446.7" r="6.40" fill="none" stroke="#c2c2c2" stroke-width="0.8"/><circle cx="635.45" cy="448.20" r="1.35" fill="#c8c8c8"/><circle cx="640.33" cy="444.82" r="0.90" fill="#bdbdbd"/></g><g filter="url(#bl03)"><circle cx="622.9" cy="459.5" r="8.3" fill="#e6e6e6" fill-opacity="0.55" stroke="#4c4c4c" stroke-width="0.85"/><circle cx="622.9" cy="459.5" r="7.20" fill="none" stroke="#c2c2c2" stroke-width="0.8"/><circle cx="620.41" cy="461.16" r="1.49" fill="#c8c8c8"/><circle cx="625.80" cy="457.43" r="1.00" fill="#bdbdbd"/></g><circle cx="627.8" cy="473.3" r="10.8" fill="#dadada" stroke="#b8b8b8" stroke-width="0.8" filter="url(#bl10)"/><g filter="url(#bl03)"><circle cx="599.3" cy="462.5" r="7.5" fill="#e6e6e6" fill-opacity="0.55" stroke="#4c4c4c" stroke-width="0.85"/><circle cx="599.3" cy="462.5" r="6.40" fill="none" stroke="#c2c2c2" stroke-width="0.8"/><circle cx="597.05" cy="464.00" r="1.35" fill="#c8c8c8"/><circle cx="601.92" cy="460.62" r="0.90" fill="#bdbdbd"/></g><circle cx="670.2" cy="441.8" r="7.9" fill="#cfcfcf" stroke="#7c7c7c" stroke-width="1.8" filter="url(#bl05)"/><circle cx="670.2" cy="441.8" r="3.16" fill="#959595" filter="url(#bl10)"/><g filter="url(#bl03)"><circle cx="569.7" cy="420.1" r="4.3" fill="#e6e6e6" fill-opacity="0.55" stroke="#4c4c4c" stroke-width="0.85"/><circle cx="569.7" cy="420.1" r="3.20" fill="none" stroke="#c2c2c2" stroke-width="0.8"/><circle cx="568.41" cy="420.96" r="0.77" fill="#c8c8c8"/><circle cx="571.21" cy="419.03" r="0.52" fill="#bdbdbd"/></g><circle cx="558.9" cy="405.3" r="5.9" fill="#d4d4d4" filter="url(#bl15)"/><circle cx="638.7" cy="434.5" r="3.5" fill="#dcdcdc" fill-opacity="0.7" stroke="#6a6a6a" stroke-width="0.75" filter="url(#bl03)"/><circle cx="586.1" cy="379.7" r="3.5" fill="#dcdcdc" fill-opacity="0.7" stroke="#6a6a6a" stroke-width="0.75" filter="url(#bl03)"/><circle cx="588.4" cy="368.9" r="5.9" fill="#d4d4d4" filter="url(#bl15)"/><circle cx="666.3" cy="456.6" r="4.3" fill="#d4d4d4" filter="url(#bl15)"/><circle cx="611.1" cy="487.1" r="4.9" fill="#8e8e8e" filter="url(#bl08)"/><circle cx="563.8" cy="376.8" r="2.4" fill="#aaaaaa" filter="url(#bl08)"/><circle cx="557.0" cy="372.0" r="2.4" fill="#8e8e8e" filter="url(#bl08)"/><circle cx="584.5" cy="475.3" r="2.4" fill="#8e8e8e" filter="url(#bl08)"/><circle cx="673.2" cy="483.1" r="2.4" fill="#dcdcdc" fill-opacity="0.7" stroke="#6a6a6a" stroke-width="0.75" filter="url(#bl03)"/><circle cx="661.4" cy="487.1" r="2.4" fill="#dcdcdc" fill-opacity="0.7" stroke="#6a6a6a" stroke-width="0.75" filter="url(#bl03)"/><circle cx="673.0" cy="375.0" r="2.0" fill="#aaaaaa" filter="url(#bl08)"/><circle cx="657.0" cy="378.0" r="1.5" fill="#aaaaaa" filter="url(#bl08)"/><circle cx="648.0" cy="427.0" r="2.0" fill="#aaaaaa" filter="url(#bl08)"/><circle cx="566.0" cy="455.0" r="6.0" fill="#d4d4d4" filter="url(#bl15)"/><circle cx="575.0" cy="470.0" r="6.0" fill="#d4d4d4" filter="url(#bl15)"/><circle cx="615.0" cy="370.0" r="2.0" fill="#aaaaaa" filter="url(#bl08)"/><ellipse cx="640" cy="401" rx="11" ry="4.5" transform="rotate(-35 640 401)" fill="#c2c2c2" filter="url(#bl15)"/><g filter="url(#bl03)"><path d="M581.50,402.40 C581.67,400.77 581.67,398.32 582.50,396.50 C583.33,394.68 585.02,392.65 586.50,391.50 C587.98,390.35 590.07,389.60 591.40,389.60 C592.73,389.60 593.52,391.33 594.50,391.50 C595.48,391.67 596.12,390.33 597.30,390.60 C598.48,390.87 600.55,391.80 601.60,393.10 C602.65,394.40 603.40,396.37 603.60,398.40 C603.80,400.43 603.35,403.32 602.80,405.30 C602.25,407.28 601.55,409.25 600.30,410.30 C599.05,411.35 597.12,411.52 595.30,411.60 C593.48,411.68 591.20,411.18 589.40,410.80 C587.60,410.42 585.82,410.05 584.50,409.30 C583.18,408.55 582.00,407.45 581.50,406.30 C581.00,405.15 581.33,404.03 581.50,402.40Z" fill="#d4d4d4" fill-opacity="0.8" stroke="#3c3c3c" stroke-width="1.1"/><circle cx="590" cy="402" r="2.2" fill="#bbb"/><circle cx="596" cy="398" r="1.6" fill="#c0c0c0"/><circle cx="593" cy="406" r="1.4" fill="#b8b8b8"/></g></g>
<rect x="667.30" y="486.70" width="10.80" height="3.00" fill="#000"/>
<text transform="translate(400.80,10.90) scale(1.119,1)" font-size="13.4" font-weight="bold" fill="#000" stroke="#000" stroke-width="0.25">c</text>
<text transform="translate(401.40,344.20) scale(1.229,1)" font-size="13.4" font-weight="bold" fill="#000" stroke="#000" stroke-width="0.25">f</text>
<text x="477.30" y="10.95" font-size="10.2" text-anchor="middle" textLength="13.20" lengthAdjust="spacingAndGlyphs">P0</text>
<text x="617.40" y="10.95" font-size="10.2" text-anchor="middle" textLength="17.40" lengthAdjust="spacingAndGlyphs">P10</text>
<text x="477.30" y="193.05" font-size="10.2" text-anchor="middle" textLength="13.20" lengthAdjust="spacingAndGlyphs">P0</text>
<text x="617.40" y="193.05" font-size="10.2" text-anchor="middle" textLength="17.40" lengthAdjust="spacingAndGlyphs">P10</text>
<text x="477.30" y="361.85" font-size="10.2" text-anchor="middle" textLength="13.20" lengthAdjust="spacingAndGlyphs">P0</text>
<text x="617.40" y="361.85" font-size="10.2" text-anchor="middle" textLength="17.40" lengthAdjust="spacingAndGlyphs">P10</text>
<line x1="33.30" y1="8.80" x2="176.60" y2="8.80" stroke="#58595b" stroke-width="1.0"/>
<rect x="48.20" y="0.60" width="46.40" height="16.40" fill="#f39325" stroke="#3a3a3a" stroke-width="0.9"/>
<rect x="96.20" y="0.60" width="17.20" height="16.40" fill="#d3c2a4" stroke="#3a3a3a" stroke-width="0.9"/>
<rect x="115.50" y="0.60" width="46.50" height="16.40" fill="#6abf4b" stroke="#3a3a3a" stroke-width="0.9"/>
<text x="71.50" y="11.82" font-size="10.4" text-anchor="middle" textLength="21.00" lengthAdjust="spacingAndGlyphs"><tspan font-style="italic">Nox1</tspan></text>
<text x="104.90" y="11.82" font-size="10.4" text-anchor="middle" textLength="13.00" lengthAdjust="spacingAndGlyphs">2A</text>
<text x="138.70" y="11.82" font-size="10.4" text-anchor="middle" textLength="24.20" lengthAdjust="spacingAndGlyphs">eGFP</text>
<text transform="translate(0.00,11.00) scale(0.995,1)" font-size="13.4" font-weight="bold" fill="#000" stroke="#000" stroke-width="0.25">a</text>
<text x="40.20" y="30.47" font-size="8.3" text-anchor="middle" textLength="26.40" lengthAdjust="spacingAndGlyphs">×1,000</text>
<path fill="#2232b8" fill-opacity="1.0" d="M58 93h1v1h-1zM66 112h1v1h-1zM129 83h1v1h-1zM56 89h1v1h-1zM115 70h1v1h-1zM96 59h1v1h-1zM83 74h1v1h-1zM127 75h1v1h-1zM65 59h1v1h-1zM129 80h1v1h-1zM129 67h1v1h-1zM115 61h1v1h-1zM127 108h1v1h-1zM117 74h1v1h-1zM81 83h1v1h-1zM114 115h1v1h-1zM125 72h1v1h-1zM63 112h1v1h-1zM83 82h1v1h-1zM88 70h1v1h-1zM56 65h1v1h-1zM108 65h1v1h-1zM100 65h1v1h-1zM119 113h1v1h-1zM123 53h1v1h-1zM60 111h1v1h-1zM122 115h1v1h-1zM57 95h1v1h-1zM67 88h1v1h-1zM122 77h1v1h-1zM79 78h1v1h-1zM57 112h1v1h-1zM82 80h1v1h-1zM95 63h1v1h-1zM60 99h1v1h-1zM64 114h1v1h-1zM80 81h1v1h-1zM118 113h1v1h-1zM80 84h1v1h-1zM62 113h1v1h-1zM66 57h1v1h-1zM104 67h1v1h-1zM80 81h1v1h-1zM124 110h1v1h-1zM132 78h1v1h-1zM56 100h1v1h-1zM129 87h1v1h-1zM110 65h1v1h-1zM72 85h1v1h-1zM103 66h1v1h-1zM98 58h1v1h-1zM77 80h1v1h-1zM123 89h1v1h-1zM86 76h1v1h-1zM82 75h1v1h-1zM123 84h1v1h-1zM86 53h1v1h-1zM112 53h1v1h-1zM96 67h1v1h-1zM104 63h1v1h-1zM120 77h1v1h-1zM100 45h1v1h-1zM120 75h1v1h-1zM64 74h1v1h-1zM122 78h1v1h-1zM113 69h1v1h-1zM80 55h1v1h-1zM118 73h1v1h-1zM123 78h1v1h-1zM67 90h1v1h-1zM74 67h1v1h-1zM102 65h1v1h-1zM78 78h1v1h-1zM104 66h1v1h-1zM123 92h1v1h-1zM84 75h1v1h-1zM76 83h1v1h-1zM105 65h1v1h-1zM102 67h1v1h-1zM58 89h1v1h-1zM105 63h1v1h-1zM87 66h1v1h-1zM104 58h1v1h-1zM123 103h1v1h-1zM104 68h1v1h-1zM125 66h1v1h-1zM56 53h1v1h-1zM100 66h1v1h-1zM72 89h1v1h-1zM85 70h1v1h-1zM61 112h1v1h-1zM57 61h1v1h-1zM93 67h1v1h-1zM123 81h1v1h-1zM101 65h1v1h-1zM119 51h1v1h-1zM64 53h1v1h-1zM131 88h1v1h-1zM86 70h1v1h-1zM100 65h1v1h-1zM71 90h1v1h-1zM128 99h1v1h-1zM102 65h1v1h-1z"/>
<path fill="#2232b8" fill-opacity="0.45" d="M115 71h1v1h-1zM102 67h1v1h-1zM135 85h1v1h-1zM65 77h1v1h-1zM81 84h1v1h-1zM96 66h1v1h-1zM123 112h1v1h-1zM67 94h1v1h-1zM128 84h1v1h-1zM84 80h1v1h-1zM104 61h1v1h-1zM101 66h1v1h-1zM82 79h1v1h-1zM106 66h1v1h-1zM115 59h1v1h-1zM65 98h1v1h-1zM71 75h1v1h-1zM123 93h1v1h-1zM80 64h1v1h-1zM118 67h1v1h-1zM106 67h1v1h-1zM70 82h1v1h-1zM122 79h1v1h-1zM67 91h1v1h-1zM64 114h1v1h-1zM86 77h1v1h-1zM125 112h1v1h-1zM124 100h1v1h-1zM92 63h1v1h-1zM70 88h1v1h-1zM75 78h1v1h-1zM82 73h1v1h-1zM116 71h1v1h-1zM126 88h1v1h-1zM60 78h1v1h-1zM82 79h1v1h-1zM127 94h1v1h-1zM96 65h1v1h-1zM95 67h1v1h-1zM109 69h1v1h-1zM78 85h1v1h-1zM60 95h1v1h-1zM119 65h1v1h-1zM103 115h1v1h-1zM110 70h1v1h-1zM105 58h1v1h-1zM126 111h1v1h-1zM62 80h1v1h-1zM91 69h1v1h-1zM73 88h1v1h-1zM57 115h1v1h-1zM111 68h1v1h-1zM121 72h1v1h-1zM84 76h1v1h-1zM59 92h1v1h-1zM120 76h1v1h-1zM131 87h1v1h-1zM56 93h1v1h-1zM75 115h1v1h-1zM64 97h1v1h-1zM68 67h1v1h-1zM57 102h1v1h-1zM72 89h1v1h-1zM92 70h1v1h-1zM68 115h1v1h-1zM75 84h1v1h-1zM92 67h1v1h-1zM126 79h1v1h-1zM58 100h1v1h-1zM69 87h1v1h-1zM123 81h1v1h-1zM109 49h1v1h-1zM125 102h1v1h-1zM132 97h1v1h-1zM77 48h1v1h-1zM67 95h1v1h-1zM58 94h1v1h-1zM125 83h1v1h-1zM104 61h1v1h-1zM89 67h1v1h-1zM61 113h1v1h-1zM88 76h1v1h-1zM64 113h1v1h-1zM67 97h1v1h-1zM120 60h1v1h-1zM108 64h1v1h-1zM82 77h1v1h-1zM127 102h1v1h-1zM102 67h1v1h-1zM79 84h1v1h-1zM78 48h1v1h-1zM56 105h1v1h-1zM75 76h1v1h-1zM115 72h1v1h-1zM58 100h1v1h-1zM77 82h1v1h-1zM125 81h1v1h-1zM124 105h1v1h-1zM125 106h1v1h-1zM89 61h1v1h-1zM119 60h1v1h-1zM135 96h1v1h-1zM66 112h1v1h-1zM134 95h1v1h-1zM109 65h1v1h-1zM83 82h1v1h-1zM125 84h1v1h-1zM113 71h1v1h-1zM86 76h1v1h-1zM68 91h1v1h-1zM88 70h1v1h-1zM116 72h1v1h-1zM79 84h1v1h-1zM66 51h1v1h-1zM67 88h1v1h-1zM79 115h1v1h-1zM118 73h1v1h-1zM56 112h1v1h-1zM119 112h1v1h-1zM61 103h1v1h-1zM123 81h1v1h-1zM64 96h1v1h-1zM82 76h1v1h-1zM95 67h1v1h-1zM84 75h1v1h-1zM108 57h1v1h-1zM57 55h1v1h-1zM77 60h1v1h-1zM66 57h1v1h-1z"/>
<path fill="#2232b8" fill-opacity="0.6" d="M68 84h1v1h-1zM83 78h1v1h-1zM77 85h1v1h-1zM77 67h1v1h-1zM58 103h1v1h-1zM88 76h1v1h-1zM105 64h1v1h-1zM124 85h1v1h-1zM73 85h1v1h-1zM56 87h1v1h-1zM68 89h1v1h-1zM82 83h1v1h-1zM62 88h1v1h-1zM64 113h1v1h-1zM123 83h1v1h-1zM125 95h1v1h-1zM91 70h1v1h-1zM61 114h1v1h-1zM65 112h1v1h-1zM68 115h1v1h-1zM105 61h1v1h-1zM59 99h1v1h-1zM105 66h1v1h-1zM122 73h1v1h-1zM123 91h1v1h-1zM92 66h1v1h-1zM76 80h1v1h-1zM83 79h1v1h-1zM103 63h1v1h-1zM83 78h1v1h-1zM108 68h1v1h-1zM122 72h1v1h-1zM127 95h1v1h-1zM133 90h1v1h-1zM110 60h1v1h-1zM110 67h1v1h-1zM67 94h1v1h-1zM83 77h1v1h-1zM68 114h1v1h-1zM116 67h1v1h-1zM123 76h1v1h-1zM102 65h1v1h-1zM132 67h1v1h-1zM109 68h1v1h-1zM96 67h1v1h-1zM127 112h1v1h-1zM117 73h1v1h-1zM99 57h1v1h-1zM61 58h1v1h-1zM113 115h1v1h-1zM76 84h1v1h-1zM62 98h1v1h-1zM97 66h1v1h-1zM99 50h1v1h-1zM124 97h1v1h-1zM125 62h1v1h-1zM65 70h1v1h-1zM124 90h1v1h-1zM126 80h1v1h-1zM105 60h1v1h-1zM119 112h1v1h-1zM65 98h1v1h-1zM95 51h1v1h-1zM71 87h1v1h-1zM78 83h1v1h-1zM94 69h1v1h-1zM72 67h1v1h-1zM69 88h1v1h-1zM115 66h1v1h-1zM124 86h1v1h-1zM130 103h1v1h-1zM65 96h1v1h-1zM123 114h1v1h-1zM102 47h1v1h-1zM64 98h1v1h-1zM97 62h1v1h-1zM124 114h1v1h-1zM87 54h1v1h-1zM93 115h1v1h-1zM91 71h1v1h-1zM127 98h1v1h-1zM108 67h1v1h-1zM86 71h1v1h-1zM88 70h1v1h-1zM129 97h1v1h-1zM82 76h1v1h-1zM108 69h1v1h-1zM57 53h1v1h-1zM82 74h1v1h-1zM125 78h1v1h-1zM125 107h1v1h-1zM115 69h1v1h-1zM58 114h1v1h-1zM63 101h1v1h-1zM124 114h1v1h-1zM67 92h1v1h-1zM76 85h1v1h-1zM68 94h1v1h-1zM119 75h1v1h-1zM90 67h1v1h-1zM61 103h1v1h-1zM58 103h1v1h-1zM97 63h1v1h-1zM130 103h1v1h-1zM64 89h1v1h-1zM116 60h1v1h-1zM117 54h1v1h-1zM98 63h1v1h-1zM87 76h1v1h-1zM58 99h1v1h-1zM120 114h1v1h-1zM73 81h1v1h-1zM77 76h1v1h-1zM56 100h1v1h-1zM125 55h1v1h-1zM121 75h1v1h-1zM56 54h1v1h-1zM58 80h1v1h-1zM70 84h1v1h-1zM78 83h1v1h-1zM134 101h1v1h-1zM95 63h1v1h-1zM62 94h1v1h-1zM125 113h1v1h-1zM62 91h1v1h-1zM61 78h1v1h-1zM92 70h1v1h-1zM119 65h1v1h-1z"/>
<path fill="#2232b8" fill-opacity="0.8" d="M94 68h1v1h-1zM123 99h1v1h-1zM67 114h1v1h-1zM58 112h1v1h-1zM117 71h1v1h-1zM136 81h1v1h-1zM57 103h1v1h-1zM123 80h1v1h-1zM104 68h1v1h-1zM70 88h1v1h-1zM83 78h1v1h-1zM80 83h1v1h-1zM69 89h1v1h-1zM113 64h1v1h-1zM113 51h1v1h-1zM77 80h1v1h-1zM93 69h1v1h-1zM118 67h1v1h-1zM75 84h1v1h-1zM62 96h1v1h-1zM122 77h1v1h-1zM121 76h1v1h-1zM80 83h1v1h-1zM63 112h1v1h-1zM135 66h1v1h-1zM107 70h1v1h-1zM124 90h1v1h-1zM125 79h1v1h-1zM93 63h1v1h-1zM59 87h1v1h-1zM78 85h1v1h-1zM73 89h1v1h-1zM60 81h1v1h-1zM122 93h1v1h-1zM89 73h1v1h-1zM128 54h1v1h-1zM124 86h1v1h-1zM119 75h1v1h-1zM119 66h1v1h-1zM60 98h1v1h-1zM74 81h1v1h-1zM99 115h1v1h-1zM73 58h1v1h-1zM127 58h1v1h-1zM93 66h1v1h-1zM61 60h1v1h-1zM82 80h1v1h-1zM125 95h1v1h-1zM63 90h1v1h-1zM122 108h1v1h-1zM120 75h1v1h-1zM130 101h1v1h-1zM113 67h1v1h-1zM84 74h1v1h-1zM113 115h1v1h-1zM90 62h1v1h-1zM62 63h1v1h-1zM115 64h1v1h-1zM57 100h1v1h-1zM63 113h1v1h-1zM56 112h1v1h-1zM105 59h1v1h-1zM80 81h1v1h-1zM122 71h1v1h-1zM76 85h1v1h-1zM73 68h1v1h-1zM81 80h1v1h-1zM100 53h1v1h-1zM101 65h1v1h-1zM100 66h1v1h-1zM123 93h1v1h-1zM56 45h1v1h-1zM114 72h1v1h-1zM110 59h1v1h-1zM129 82h1v1h-1zM61 58h1v1h-1zM62 97h1v1h-1zM75 71h1v1h-1zM66 69h1v1h-1zM63 101h1v1h-1zM129 86h1v1h-1zM59 103h1v1h-1zM69 91h1v1h-1zM108 67h1v1h-1zM60 101h1v1h-1zM107 67h1v1h-1zM92 69h1v1h-1zM58 102h1v1h-1zM124 86h1v1h-1zM58 112h1v1h-1zM105 65h1v1h-1zM58 57h1v1h-1zM123 96h1v1h-1zM120 69h1v1h-1zM60 90h1v1h-1zM67 96h1v1h-1zM131 104h1v1h-1zM124 111h1v1h-1zM79 81h1v1h-1zM118 61h1v1h-1zM61 66h1v1h-1zM125 99h1v1h-1zM57 98h1v1h-1zM60 114h1v1h-1zM88 74h1v1h-1zM126 84h1v1h-1zM93 68h1v1h-1zM79 115h1v1h-1zM127 71h1v1h-1zM76 55h1v1h-1zM126 97h1v1h-1zM76 82h1v1h-1zM130 102h1v1h-1zM87 66h1v1h-1zM84 70h1v1h-1zM124 99h1v1h-1zM111 115h1v1h-1zM74 84h1v1h-1zM127 94h1v1h-1zM69 91h1v1h-1z"/>
<g filter="url(#fnoise)"><path d="M55.00,102.70 C55.26,102.06 56.43,105.87 57.20,106.00 C57.97,106.13 60.46,104.70 61.60,103.80 C62.74,102.90 65.86,99.70 67.00,98.30 C68.14,96.90 70.50,93.07 71.40,91.80 C72.30,90.53 73.55,88.17 74.70,87.40 C75.86,86.63 80.14,85.84 81.30,85.20 C82.45,84.56 83.84,82.80 84.60,81.90 C85.36,81.00 87.04,78.66 87.80,77.50 C88.56,76.34 90.20,73.02 91.10,72.00 C92.00,70.98 94.47,69.43 95.50,68.80 C96.53,68.17 99.00,66.67 99.90,66.60 C100.80,66.53 102.30,67.69 103.20,68.20 C104.10,68.71 106.46,70.56 107.60,71.00 C108.74,71.44 111.86,71.63 113.00,72.00 C114.14,72.37 116.37,73.43 117.40,74.20 C118.43,74.97 121.16,77.06 121.80,78.60 C122.44,80.14 122.84,85.10 122.90,87.40 C122.96,89.70 122.43,95.49 122.30,98.30 C122.17,101.11 122.50,109.64 121.80,111.50 C121.10,113.36 118.34,113.83 116.30,114.20 C114.26,114.57 106.98,114.51 104.30,114.70 C101.62,114.89 95.85,115.67 93.30,115.80 C90.75,115.93 84.95,116.05 82.40,115.80 C79.85,115.55 73.57,114.20 71.40,113.70 C69.23,113.20 65.46,111.76 63.80,111.50 C62.14,111.24 58.23,111.50 57.20,111.50 C56.17,111.50 55.26,112.53 55.00,111.50 C54.74,110.47 54.74,103.34 55.00,102.70Z" fill="#0a1eff"/></g>
<g filter="url(#fnoise2)"><path d="M74.20,96.10 C75.10,94.31 78.73,91.97 80.20,90.70 C81.67,89.43 85.66,86.36 86.80,85.20 C87.94,84.05 89.11,81.57 90.00,80.80 C90.89,80.03 93.12,78.86 94.40,78.60 C95.68,78.34 99.84,78.09 101.00,78.60 C102.16,79.11 103.79,81.72 104.30,83.00 C104.81,84.28 104.77,88.46 105.40,89.60 C106.03,90.74 108.43,92.04 109.70,92.80 C110.97,93.56 115.14,95.07 116.30,96.10 C117.45,97.13 119.21,99.93 119.60,101.60 C119.98,103.27 120.75,108.99 119.60,110.40 C118.44,111.81 112.13,113.26 109.70,113.70 C107.27,114.14 101.36,114.20 98.80,114.20 C96.24,114.20 90.61,113.89 87.80,113.70 C84.99,113.51 76.48,113.50 74.70,112.60 C72.92,111.70 72.56,107.92 72.50,106.00 C72.44,104.08 73.30,97.88 74.20,96.10Z" fill="#1e8cff"/><path d="M75.80,103.10 C76.19,101.43 79.05,99.60 80.20,98.70 C81.36,97.80 84.69,96.54 85.70,95.40 C86.72,94.26 88.14,90.30 88.90,88.90 C89.66,87.50 91.05,84.10 92.20,83.40 C93.36,82.70 97.64,82.52 98.80,82.90 C99.95,83.29 101.59,85.37 102.10,86.70 C102.61,88.03 102.69,93.03 103.20,94.30 C103.71,95.57 105.48,96.57 106.50,97.60 C107.52,98.63 110.76,102.33 111.90,103.10 C113.04,103.87 115.79,103.30 116.30,104.20 C116.81,105.10 117.31,109.77 116.30,110.80 C115.28,111.83 109.64,112.61 107.60,113.00 C105.56,113.39 101.11,113.97 98.80,114.10 C96.49,114.23 90.35,114.23 87.80,114.10 C85.25,113.97 78.30,114.28 76.90,113.00 C75.50,111.72 75.41,104.77 75.80,103.10Z" fill="#1ee6f0"/><path d="M75.80,101.60 C76.19,99.93 79.05,98.10 80.20,97.20 C81.36,96.30 84.69,95.04 85.70,93.90 C86.72,92.76 88.14,88.80 88.90,87.40 C89.66,86.00 91.05,82.60 92.20,81.90 C93.36,81.20 97.64,81.02 98.80,81.40 C99.95,81.79 101.59,83.87 102.10,85.20 C102.61,86.53 102.69,91.53 103.20,92.80 C103.71,94.07 105.48,95.07 106.50,96.10 C107.52,97.13 110.76,100.83 111.90,101.60 C113.04,102.37 115.79,101.80 116.30,102.70 C116.81,103.60 117.31,108.27 116.30,109.30 C115.28,110.33 109.64,111.11 107.60,111.50 C105.56,111.89 101.11,112.47 98.80,112.60 C96.49,112.73 90.35,112.73 87.80,112.60 C85.25,112.47 78.30,112.78 76.90,111.50 C75.50,110.22 75.41,103.27 75.80,101.60Z" fill="#3cf53c"/><path d="M88.90,96.10 C89.27,94.31 89.49,88.93 90.00,87.40 C90.51,85.87 92.40,83.51 93.30,83.00 C94.20,82.49 96.93,82.49 97.70,83.00 C98.47,83.51 99.64,85.87 99.90,87.40 C100.16,88.93 99.64,94.31 99.90,96.10 C100.16,97.88 101.33,101.42 102.10,102.70 C102.87,103.98 106.63,106.20 106.50,107.10 C106.37,108.00 102.54,109.89 101.00,110.40 C99.46,110.91 94.84,111.63 93.30,111.50 C91.76,111.37 88.56,110.33 87.80,109.30 C87.04,108.27 86.67,104.24 86.80,102.70 C86.93,101.16 88.53,97.88 88.90,96.10Z" fill="#f5f51e"/><path d="M93.30,92.80 C93.69,91.78 94.99,90.82 95.50,90.70 C96.01,90.58 97.39,90.91 97.70,91.80 C98.02,92.69 98.20,96.64 98.20,98.30 C98.20,99.96 98.02,104.84 97.70,106.00 C97.39,107.16 96.07,108.20 95.50,108.20 C94.93,108.20 93.19,107.03 92.80,106.00 C92.41,104.97 92.14,100.94 92.20,99.40 C92.26,97.86 92.91,93.81 93.30,92.80Z" fill="#ff8c0a"/><path d="M77.00,104.00 C77.47,103.18 80.07,102.12 81.00,102.00 C81.93,101.88 84.53,102.07 85.00,103.00 C85.47,103.93 85.58,109.07 85.00,110.00 C84.42,110.93 80.93,111.12 80.00,111.00 C79.07,110.88 77.35,109.82 77.00,109.00 C76.65,108.18 76.53,104.82 77.00,104.00Z" fill="#f5f51e"/><path d="M110.00,103.00 C110.53,102.36 113.24,100.88 114.00,101.00 C114.76,101.12 116.27,103.18 116.50,104.00 C116.73,104.82 116.53,107.42 116.00,108.00 C115.47,108.58 112.76,109.17 112.00,109.00 C111.24,108.83 109.73,107.20 109.50,106.50 C109.27,105.80 109.47,103.64 110.00,103.00Z" fill="#f5f51e"/><path d="M55.00,105.50 C55.19,104.92 56.41,104.92 56.60,105.50 C56.79,106.08 56.79,109.92 56.60,110.50 C56.41,111.08 55.19,111.08 55.00,110.50 C54.81,109.92 54.81,106.08 55.00,105.50Z" fill="#ff8c0a"/></g>
<line x1="55.50" y1="142.60" x2="55.50" y2="34.18" stroke="#6d6e71" stroke-width="0.8"/>
<line x1="51.50" y1="142.60" x2="55.50" y2="142.60" stroke="#6d6e71" stroke-width="0.8"/>
<text x="47.10" y="146.27" font-size="8.3" text-anchor="end" textLength="5.00" lengthAdjust="spacingAndGlyphs">0</text>
<line x1="51.50" y1="125.92" x2="55.50" y2="125.92" stroke="#6d6e71" stroke-width="0.8"/>
<text x="47.10" y="129.59" font-size="8.3" text-anchor="end" textLength="10.10" lengthAdjust="spacingAndGlyphs">10</text>
<line x1="51.50" y1="109.24" x2="55.50" y2="109.24" stroke="#6d6e71" stroke-width="0.8"/>
<text x="47.10" y="112.91" font-size="8.3" text-anchor="end" textLength="10.10" lengthAdjust="spacingAndGlyphs">20</text>
<line x1="51.50" y1="92.56" x2="55.50" y2="92.56" stroke="#6d6e71" stroke-width="0.8"/>
<text x="47.10" y="96.23" font-size="8.3" text-anchor="end" textLength="10.10" lengthAdjust="spacingAndGlyphs">30</text>
<line x1="51.50" y1="75.88" x2="55.50" y2="75.88" stroke="#6d6e71" stroke-width="0.8"/>
<text x="47.10" y="79.55" font-size="8.3" text-anchor="end" textLength="10.10" lengthAdjust="spacingAndGlyphs">40</text>
<line x1="51.50" y1="59.20" x2="55.50" y2="59.20" stroke="#6d6e71" stroke-width="0.8"/>
<text x="47.10" y="62.87" font-size="8.3" text-anchor="end" textLength="10.10" lengthAdjust="spacingAndGlyphs">50</text>
<line x1="51.50" y1="42.52" x2="55.50" y2="42.52" stroke="#6d6e71" stroke-width="0.8"/>
<text x="47.10" y="46.19" font-size="8.3" text-anchor="end" textLength="10.10" lengthAdjust="spacingAndGlyphs">60</text>
<line x1="55.50" y1="142.60" x2="166.40" y2="142.60" stroke="#6d6e71" stroke-width="0.8"/>
<line x1="55.50" y1="142.60" x2="55.50" y2="145.60" stroke="#6d6e71" stroke-width="0.9"/>
<text x="54.70" y="156.08" font-size="8.6" text-anchor="middle" textLength="9.70" lengthAdjust="spacingAndGlyphs">10</text>
<text x="59.80" y="152.95" font-size="6.0" textLength="3.10" lengthAdjust="spacingAndGlyphs">0</text>
<line x1="63.84" y1="142.60" x2="63.84" y2="144.60" stroke="#6d6e71" stroke-width="0.7"/>
<line x1="68.73" y1="142.60" x2="68.73" y2="144.60" stroke="#6d6e71" stroke-width="0.7"/>
<line x1="72.19" y1="142.60" x2="72.19" y2="144.60" stroke="#6d6e71" stroke-width="0.7"/>
<line x1="74.88" y1="142.60" x2="74.88" y2="144.60" stroke="#6d6e71" stroke-width="0.7"/>
<line x1="77.07" y1="142.60" x2="77.07" y2="144.60" stroke="#6d6e71" stroke-width="0.7"/>
<line x1="78.93" y1="142.60" x2="78.93" y2="144.60" stroke="#6d6e71" stroke-width="0.7"/>
<line x1="80.53" y1="142.60" x2="80.53" y2="144.60" stroke="#6d6e71" stroke-width="0.7"/>
<line x1="81.95" y1="142.60" x2="81.95" y2="144.60" stroke="#6d6e71" stroke-width="0.7"/>
<line x1="83.22" y1="142.60" x2="83.22" y2="145.60" stroke="#6d6e71" stroke-width="0.9"/>
<text x="82.42" y="156.08" font-size="8.6" text-anchor="middle" textLength="9.70" lengthAdjust="spacingAndGlyphs">10</text>
<text x="87.52" y="152.95" font-size="6.0" textLength="3.10" lengthAdjust="spacingAndGlyphs">1</text>
<line x1="91.56" y1="142.60" x2="91.56" y2="144.60" stroke="#6d6e71" stroke-width="0.7"/>
<line x1="96.45" y1="142.60" x2="96.45" y2="144.60" stroke="#6d6e71" stroke-width="0.7"/>
<line x1="99.91" y1="142.60" x2="99.91" y2="144.60" stroke="#6d6e71" stroke-width="0.7"/>
<line x1="102.60" y1="142.60" x2="102.60" y2="144.60" stroke="#6d6e71" stroke-width="0.7"/>
<line x1="104.79" y1="142.60" x2="104.79" y2="144.60" stroke="#6d6e71" stroke-width="0.7"/>
<line x1="106.65" y1="142.60" x2="106.65" y2="144.60" stroke="#6d6e71" stroke-width="0.7"/>
<line x1="108.25" y1="142.60" x2="108.25" y2="144.60" stroke="#6d6e71" stroke-width="0.7"/>
<line x1="109.67" y1="142.60" x2="109.67" y2="144.60" stroke="#6d6e71" stroke-width="0.7"/>
<line x1="110.94" y1="142.60" x2="110.94" y2="145.60" stroke="#6d6e71" stroke-width="0.9"/>
<text x="110.14" y="156.08" font-size="8.6" text-anchor="middle" textLength="9.70" lengthAdjust="spacingAndGlyphs">10</text>
<text x="115.24" y="152.95" font-size="6.0" textLength="3.10" lengthAdjust="spacingAndGlyphs">2</text>
<line x1="119.28" y1="142.60" x2="119.28" y2="144.60" stroke="#6d6e71" stroke-width="0.7"/>
<line x1="124.17" y1="142.60" x2="124.17" y2="144.60" stroke="#6d6e71" stroke-width="0.7"/>
<line x1="127.63" y1="142.60" x2="127.63" y2="144.60" stroke="#6d6e71" stroke-width="0.7"/>
<line x1="130.32" y1="142.60" x2="130.32" y2="144.60" stroke="#6d6e71" stroke-width="0.7"/>
<line x1="132.51" y1="142.60" x2="132.51" y2="144.60" stroke="#6d6e71" stroke-width="0.7"/>
<line x1="134.37" y1="142.60" x2="134.37" y2="144.60" stroke="#6d6e71" stroke-width="0.7"/>
<line x1="135.97" y1="142.60" x2="135.97" y2="144.60" stroke="#6d6e71" stroke-width="0.7"/>
<line x1="137.39" y1="142.60" x2="137.39" y2="144.60" stroke="#6d6e71" stroke-width="0.7"/>
<line x1="138.66" y1="142.60" x2="138.66" y2="145.60" stroke="#6d6e71" stroke-width="0.9"/>
<text x="137.86" y="156.08" font-size="8.6" text-anchor="middle" textLength="9.70" lengthAdjust="spacingAndGlyphs">10</text>
<text x="142.96" y="152.95" font-size="6.0" textLength="3.10" lengthAdjust="spacingAndGlyphs">3</text>
<line x1="147.00" y1="142.60" x2="147.00" y2="144.60" stroke="#6d6e71" stroke-width="0.7"/>
<line x1="151.89" y1="142.60" x2="151.89" y2="144.60" stroke="#6d6e71" stroke-width="0.7"/>
<line x1="155.35" y1="142.60" x2="155.35" y2="144.60" stroke="#6d6e71" stroke-width="0.7"/>
<line x1="158.04" y1="142.60" x2="158.04" y2="144.60" stroke="#6d6e71" stroke-width="0.7"/>
<line x1="160.23" y1="142.60" x2="160.23" y2="144.60" stroke="#6d6e71" stroke-width="0.7"/>
<line x1="162.09" y1="142.60" x2="162.09" y2="144.60" stroke="#6d6e71" stroke-width="0.7"/>
<line x1="163.69" y1="142.60" x2="163.69" y2="144.60" stroke="#6d6e71" stroke-width="0.7"/>
<line x1="165.11" y1="142.60" x2="165.11" y2="144.60" stroke="#6d6e71" stroke-width="0.7"/>
<line x1="166.38" y1="142.60" x2="166.38" y2="145.60" stroke="#6d6e71" stroke-width="0.9"/>
<text x="165.58" y="156.08" font-size="8.6" text-anchor="middle" textLength="9.70" lengthAdjust="spacingAndGlyphs">10</text>
<text x="170.68" y="152.95" font-size="6.0" textLength="3.10" lengthAdjust="spacingAndGlyphs">4</text>
<text x="110.64" y="170.24" font-size="9.6" text-anchor="middle" textLength="86.00" lengthAdjust="spacingAndGlyphs">*[488] 530/40-GFP</text>
<polyline points="55.50,34.30 85.00,34.30 85.00,142.60" fill="none" stroke="#2f2fff" stroke-width="1.1"/>
<polyline points="122.00,142.60 124.00,37.70 167.00,38.30" fill="none" stroke="#d47a5c" stroke-width="0.9"/>
<text x="154.30" y="35.61" font-size="9.8" text-anchor="middle" textLength="37.40" lengthAdjust="spacingAndGlyphs">Caecum</text>
<text x="57.60" y="133.75" font-size="8.8" textLength="14.80" lengthAdjust="spacingAndGlyphs">GFP</text>
<text x="72.60" y="130.22" font-size="6.2" textLength="9.60" lengthAdjust="spacingAndGlyphs">neg</text>
<text x="133.70" y="120.15" font-size="8.8" textLength="14.80" lengthAdjust="spacingAndGlyphs">GFP</text>
<text x="148.70" y="116.62" font-size="6.2" textLength="11.60" lengthAdjust="spacingAndGlyphs">high</text>
<text transform="translate(29.62,87.70) rotate(-90)" font-size="10.4" text-anchor="middle" textLength="19.40" lengthAdjust="spacingAndGlyphs">FSC</text>
<text x="41.00" y="188.17" font-size="8.3" text-anchor="middle" textLength="26.40" lengthAdjust="spacingAndGlyphs">×1,000</text>
<path fill="#2232b8" fill-opacity="0.8" d="M72 209h1v1h-1zM141 241h1v1h-1zM70 244h1v1h-1zM135 244h1v1h-1zM121 217h1v1h-1zM139 216h1v1h-1zM77 210h1v1h-1zM111 217h1v1h-1zM138 222h1v1h-1zM128 212h1v1h-1zM124 213h1v1h-1zM70 244h1v1h-1zM128 219h1v1h-1zM135 238h1v1h-1zM57 219h1v1h-1zM86 212h1v1h-1zM72 240h1v1h-1zM79 229h1v1h-1zM90 227h1v1h-1zM138 222h1v1h-1zM135 247h1v1h-1zM140 221h1v1h-1zM58 230h1v1h-1zM90 234h1v1h-1zM82 238h1v1h-1zM66 229h1v1h-1zM137 245h1v1h-1zM109 225h1v1h-1zM57 279h1v1h-1zM119 275h1v1h-1zM137 220h1v1h-1zM88 232h1v1h-1zM124 219h1v1h-1zM126 267h1v1h-1zM61 254h1v1h-1zM134 221h1v1h-1zM104 219h1v1h-1zM58 238h1v1h-1zM68 277h1v1h-1zM140 219h1v1h-1zM75 243h1v1h-1zM69 219h1v1h-1zM110 212h1v1h-1zM66 226h1v1h-1zM64 254h1v1h-1zM133 254h1v1h-1zM133 219h1v1h-1zM68 249h1v1h-1zM134 220h1v1h-1zM109 225h1v1h-1zM133 258h1v1h-1zM96 233h1v1h-1zM123 273h1v1h-1zM106 226h1v1h-1zM133 215h1v1h-1zM127 277h1v1h-1zM136 222h1v1h-1zM81 209h1v1h-1zM137 223h1v1h-1zM98 234h1v1h-1zM118 220h1v1h-1zM122 220h1v1h-1zM60 224h1v1h-1zM127 266h1v1h-1zM133 250h1v1h-1zM61 255h1v1h-1zM91 219h1v1h-1zM122 215h1v1h-1zM117 212h1v1h-1zM91 230h1v1h-1zM74 243h1v1h-1zM133 251h1v1h-1zM124 211h1v1h-1zM64 253h1v1h-1zM120 215h1v1h-1zM61 216h1v1h-1zM70 243h1v1h-1zM122 215h1v1h-1zM71 238h1v1h-1zM120 278h1v1h-1zM120 212h1v1h-1zM111 225h1v1h-1zM127 218h1v1h-1zM123 218h1v1h-1zM133 217h1v1h-1zM115 221h1v1h-1zM111 213h1v1h-1zM61 221h1v1h-1zM143 228h1v1h-1zM118 221h1v1h-1zM70 212h1v1h-1zM133 259h1v1h-1zM134 249h1v1h-1zM105 228h1v1h-1zM123 217h1v1h-1zM67 250h1v1h-1zM62 276h1v1h-1zM58 229h1v1h-1zM61 210h1v1h-1zM85 232h1v1h-1zM64 253h1v1h-1zM139 223h1v1h-1zM133 221h1v1h-1zM134 217h1v1h-1zM125 269h1v1h-1zM122 274h1v1h-1zM59 255h1v1h-1zM62 277h1v1h-1zM123 207h1v1h-1zM99 230h1v1h-1zM136 233h1v1h-1zM108 227h1v1h-1zM128 213h1v1h-1zM116 277h1v1h-1zM130 214h1v1h-1zM134 251h1v1h-1zM96 224h1v1h-1zM112 225h1v1h-1zM69 244h1v1h-1zM111 224h1v1h-1zM123 214h1v1h-1zM98 231h1v1h-1zM96 234h1v1h-1zM133 208h1v1h-1zM57 276h1v1h-1zM95 231h1v1h-1zM103 230h1v1h-1zM102 213h1v1h-1zM57 262h1v1h-1zM99 230h1v1h-1zM64 250h1v1h-1zM60 216h1v1h-1zM63 240h1v1h-1zM71 244h1v1h-1zM66 251h1v1h-1zM108 226h1v1h-1zM118 277h1v1h-1zM79 237h1v1h-1zM134 251h1v1h-1zM131 256h1v1h-1zM78 239h1v1h-1zM63 232h1v1h-1zM139 231h1v1h-1zM125 216h1v1h-1zM66 247h1v1h-1zM114 223h1v1h-1zM78 241h1v1h-1zM78 240h1v1h-1zM133 255h1v1h-1zM79 235h1v1h-1zM117 209h1v1h-1zM122 212h1v1h-1zM63 245h1v1h-1zM56 243h1v1h-1zM137 220h1v1h-1zM108 225h1v1h-1zM57 253h1v1h-1zM84 221h1v1h-1zM69 246h1v1h-1zM124 208h1v1h-1zM61 276h1v1h-1zM136 224h1v1h-1zM70 241h1v1h-1zM68 249h1v1h-1zM136 231h1v1h-1zM132 201h1v1h-1zM61 216h1v1h-1zM118 221h1v1h-1zM127 215h1v1h-1zM124 219h1v1h-1zM135 259h1v1h-1zM141 234h1v1h-1zM131 217h1v1h-1zM57 258h1v1h-1zM120 222h1v1h-1zM139 230h1v1h-1zM124 272h1v1h-1zM131 268h1v1h-1zM102 227h1v1h-1zM83 226h1v1h-1zM134 222h1v1h-1zM68 243h1v1h-1zM73 237h1v1h-1zM136 232h1v1h-1zM134 220h1v1h-1zM110 213h1v1h-1zM139 228h1v1h-1zM125 218h1v1h-1zM57 237h1v1h-1zM69 245h1v1h-1zM62 251h1v1h-1zM110 224h1v1h-1zM137 216h1v1h-1zM57 260h1v1h-1zM59 278h1v1h-1zM133 251h1v1h-1zM123 272h1v1h-1zM71 236h1v1h-1zM139 224h1v1h-1zM75 243h1v1h-1zM69 247h1v1h-1zM57 257h1v1h-1zM81 238h1v1h-1zM135 219h1v1h-1zM105 228h1v1h-1zM81 237h1v1h-1zM129 269h1v1h-1zM93 230h1v1h-1zM67 279h1v1h-1zM124 271h1v1h-1zM139 223h1v1h-1zM91 233h1v1h-1zM78 239h1v1h-1zM111 224h1v1h-1z"/>
<path fill="#2232b8" fill-opacity="0.45" d="M63 221h1v1h-1zM122 218h1v1h-1zM115 214h1v1h-1zM136 234h1v1h-1zM99 232h1v1h-1zM58 240h1v1h-1zM85 236h1v1h-1zM59 230h1v1h-1zM118 222h1v1h-1zM88 237h1v1h-1zM127 269h1v1h-1zM66 227h1v1h-1zM78 240h1v1h-1zM79 238h1v1h-1zM74 242h1v1h-1zM138 232h1v1h-1zM134 260h1v1h-1zM129 266h1v1h-1zM139 239h1v1h-1zM142 239h1v1h-1zM86 238h1v1h-1zM129 202h1v1h-1zM138 229h1v1h-1zM105 229h1v1h-1zM123 202h1v1h-1zM79 237h1v1h-1zM83 237h1v1h-1zM76 240h1v1h-1zM69 235h1v1h-1zM130 215h1v1h-1zM75 213h1v1h-1zM127 271h1v1h-1zM129 210h1v1h-1zM60 250h1v1h-1zM137 229h1v1h-1zM93 213h1v1h-1zM62 254h1v1h-1zM66 247h1v1h-1zM131 219h1v1h-1zM63 278h1v1h-1zM131 219h1v1h-1zM128 219h1v1h-1zM61 253h1v1h-1zM112 278h1v1h-1zM119 277h1v1h-1zM70 221h1v1h-1zM119 221h1v1h-1zM62 279h1v1h-1zM137 219h1v1h-1zM67 234h1v1h-1zM64 277h1v1h-1zM110 217h1v1h-1zM142 212h1v1h-1zM82 239h1v1h-1zM135 237h1v1h-1zM61 212h1v1h-1zM134 246h1v1h-1zM98 216h1v1h-1zM100 229h1v1h-1zM132 213h1v1h-1zM122 214h1v1h-1zM124 219h1v1h-1zM136 222h1v1h-1zM83 216h1v1h-1zM105 211h1v1h-1zM78 240h1v1h-1zM107 213h1v1h-1zM138 216h1v1h-1zM130 272h1v1h-1zM116 203h1v1h-1zM116 219h1v1h-1zM82 217h1v1h-1zM123 275h1v1h-1zM138 242h1v1h-1zM140 219h1v1h-1zM59 275h1v1h-1zM69 242h1v1h-1zM60 234h1v1h-1zM74 221h1v1h-1zM67 278h1v1h-1zM132 259h1v1h-1zM87 216h1v1h-1zM68 249h1v1h-1zM118 219h1v1h-1zM83 236h1v1h-1zM66 277h1v1h-1zM72 230h1v1h-1zM101 226h1v1h-1zM113 206h1v1h-1zM63 252h1v1h-1zM67 251h1v1h-1zM131 215h1v1h-1zM100 233h1v1h-1zM70 246h1v1h-1zM93 234h1v1h-1zM128 219h1v1h-1zM137 203h1v1h-1zM106 228h1v1h-1zM71 243h1v1h-1zM130 269h1v1h-1zM110 225h1v1h-1zM138 228h1v1h-1zM77 238h1v1h-1zM138 249h1v1h-1zM143 223h1v1h-1zM71 246h1v1h-1zM109 278h1v1h-1zM117 222h1v1h-1zM78 240h1v1h-1zM106 208h1v1h-1zM103 231h1v1h-1zM57 230h1v1h-1zM143 227h1v1h-1zM63 238h1v1h-1zM105 226h1v1h-1zM75 242h1v1h-1zM137 256h1v1h-1zM139 240h1v1h-1zM75 239h1v1h-1zM71 279h1v1h-1zM58 217h1v1h-1zM137 227h1v1h-1zM121 276h1v1h-1zM137 233h1v1h-1zM137 208h1v1h-1zM132 262h1v1h-1zM127 220h1v1h-1zM93 218h1v1h-1zM132 268h1v1h-1zM120 220h1v1h-1zM143 214h1v1h-1zM95 234h1v1h-1zM111 205h1v1h-1zM58 253h1v1h-1zM112 277h1v1h-1zM129 261h1v1h-1zM58 235h1v1h-1zM136 257h1v1h-1zM63 253h1v1h-1zM79 221h1v1h-1zM136 250h1v1h-1zM119 278h1v1h-1zM75 232h1v1h-1zM100 232h1v1h-1zM59 226h1v1h-1zM133 249h1v1h-1zM113 215h1v1h-1zM136 219h1v1h-1zM82 238h1v1h-1zM63 254h1v1h-1zM110 221h1v1h-1zM56 259h1v1h-1zM89 235h1v1h-1zM76 236h1v1h-1zM136 221h1v1h-1zM129 219h1v1h-1zM57 252h1v1h-1zM60 250h1v1h-1zM112 224h1v1h-1zM83 230h1v1h-1zM128 210h1v1h-1zM122 204h1v1h-1zM101 231h1v1h-1zM93 236h1v1h-1zM59 275h1v1h-1zM100 212h1v1h-1zM67 218h1v1h-1zM69 227h1v1h-1zM123 276h1v1h-1zM129 262h1v1h-1zM100 228h1v1h-1zM72 213h1v1h-1zM136 221h1v1h-1zM73 242h1v1h-1zM71 244h1v1h-1zM135 218h1v1h-1zM91 219h1v1h-1zM123 220h1v1h-1zM126 220h1v1h-1zM56 231h1v1h-1zM124 276h1v1h-1zM112 225h1v1h-1zM62 252h1v1h-1zM129 208h1v1h-1zM130 269h1v1h-1zM113 224h1v1h-1zM143 233h1v1h-1zM131 255h1v1h-1zM138 222h1v1h-1zM69 248h1v1h-1zM103 229h1v1h-1zM122 275h1v1h-1zM134 256h1v1h-1zM101 230h1v1h-1zM67 278h1v1h-1zM96 233h1v1h-1zM87 232h1v1h-1zM130 210h1v1h-1zM133 261h1v1h-1zM119 276h1v1h-1zM76 228h1v1h-1zM116 221h1v1h-1zM98 233h1v1h-1zM141 240h1v1h-1zM65 250h1v1h-1zM102 226h1v1h-1zM63 212h1v1h-1zM94 214h1v1h-1zM89 234h1v1h-1zM103 224h1v1h-1zM133 255h1v1h-1zM79 239h1v1h-1zM61 277h1v1h-1zM67 214h1v1h-1zM108 218h1v1h-1zM57 234h1v1h-1zM60 258h1v1h-1zM80 239h1v1h-1zM126 274h1v1h-1zM64 279h1v1h-1zM80 239h1v1h-1zM136 232h1v1h-1z"/>
<path fill="#2232b8" fill-opacity="1.0" d="M81 238h1v1h-1zM87 234h1v1h-1zM124 272h1v1h-1zM125 269h1v1h-1zM70 222h1v1h-1zM66 249h1v1h-1zM84 234h1v1h-1zM124 207h1v1h-1zM73 233h1v1h-1zM128 273h1v1h-1zM125 218h1v1h-1zM136 218h1v1h-1zM136 238h1v1h-1zM128 270h1v1h-1zM114 221h1v1h-1zM118 222h1v1h-1zM122 276h1v1h-1zM133 247h1v1h-1zM134 220h1v1h-1zM64 279h1v1h-1zM61 251h1v1h-1zM140 223h1v1h-1zM63 279h1v1h-1zM87 234h1v1h-1zM123 219h1v1h-1zM125 270h1v1h-1zM79 234h1v1h-1zM122 275h1v1h-1zM60 276h1v1h-1zM113 225h1v1h-1zM130 266h1v1h-1zM127 215h1v1h-1zM126 267h1v1h-1zM104 230h1v1h-1zM111 221h1v1h-1zM72 224h1v1h-1zM118 219h1v1h-1zM107 219h1v1h-1zM141 219h1v1h-1zM95 227h1v1h-1zM84 238h1v1h-1zM58 214h1v1h-1zM138 224h1v1h-1zM108 228h1v1h-1zM61 256h1v1h-1zM69 245h1v1h-1zM118 217h1v1h-1zM67 245h1v1h-1zM61 257h1v1h-1zM141 226h1v1h-1zM61 257h1v1h-1zM57 253h1v1h-1zM62 277h1v1h-1zM57 207h1v1h-1zM114 218h1v1h-1zM69 247h1v1h-1zM122 219h1v1h-1zM59 277h1v1h-1zM75 279h1v1h-1zM116 208h1v1h-1zM62 250h1v1h-1zM71 241h1v1h-1zM127 220h1v1h-1zM122 274h1v1h-1zM65 250h1v1h-1zM126 203h1v1h-1zM136 242h1v1h-1zM129 215h1v1h-1zM132 219h1v1h-1zM93 235h1v1h-1zM123 276h1v1h-1zM87 234h1v1h-1zM86 236h1v1h-1zM60 257h1v1h-1zM85 228h1v1h-1zM106 223h1v1h-1zM120 219h1v1h-1zM57 207h1v1h-1zM98 212h1v1h-1zM63 236h1v1h-1zM125 272h1v1h-1zM128 220h1v1h-1zM66 250h1v1h-1zM137 222h1v1h-1zM68 249h1v1h-1zM138 235h1v1h-1zM63 216h1v1h-1zM104 229h1v1h-1zM73 279h1v1h-1zM72 238h1v1h-1zM126 275h1v1h-1zM67 232h1v1h-1zM100 233h1v1h-1zM110 221h1v1h-1zM136 216h1v1h-1zM129 267h1v1h-1zM73 235h1v1h-1zM61 257h1v1h-1zM74 210h1v1h-1zM130 259h1v1h-1zM61 278h1v1h-1zM136 250h1v1h-1zM66 279h1v1h-1zM77 239h1v1h-1zM71 244h1v1h-1zM139 229h1v1h-1zM108 226h1v1h-1zM123 218h1v1h-1zM125 220h1v1h-1zM70 279h1v1h-1zM136 222h1v1h-1zM136 237h1v1h-1zM130 215h1v1h-1zM90 234h1v1h-1zM141 215h1v1h-1zM64 252h1v1h-1zM93 226h1v1h-1zM121 276h1v1h-1zM58 257h1v1h-1zM89 234h1v1h-1zM132 252h1v1h-1zM87 232h1v1h-1zM126 267h1v1h-1zM76 236h1v1h-1zM60 256h1v1h-1zM138 239h1v1h-1zM94 233h1v1h-1zM109 220h1v1h-1zM57 221h1v1h-1zM141 237h1v1h-1zM138 224h1v1h-1zM118 222h1v1h-1zM79 231h1v1h-1zM82 236h1v1h-1zM61 250h1v1h-1zM134 254h1v1h-1zM122 277h1v1h-1zM134 219h1v1h-1zM133 259h1v1h-1zM139 226h1v1h-1zM77 236h1v1h-1zM121 219h1v1h-1zM127 272h1v1h-1zM133 251h1v1h-1zM136 243h1v1h-1zM127 268h1v1h-1zM71 237h1v1h-1zM139 222h1v1h-1zM68 278h1v1h-1zM79 236h1v1h-1zM119 219h1v1h-1zM84 215h1v1h-1zM107 210h1v1h-1zM136 224h1v1h-1zM99 223h1v1h-1zM63 245h1v1h-1zM59 236h1v1h-1zM73 240h1v1h-1zM70 278h1v1h-1zM96 227h1v1h-1zM135 253h1v1h-1zM140 219h1v1h-1zM124 274h1v1h-1zM110 227h1v1h-1zM81 208h1v1h-1zM71 245h1v1h-1zM71 213h1v1h-1zM94 233h1v1h-1zM73 216h1v1h-1zM60 252h1v1h-1zM82 216h1v1h-1zM67 279h1v1h-1zM83 229h1v1h-1zM60 215h1v1h-1zM127 272h1v1h-1zM124 213h1v1h-1zM134 245h1v1h-1zM83 210h1v1h-1zM134 259h1v1h-1zM66 236h1v1h-1zM57 276h1v1h-1zM97 234h1v1h-1zM121 219h1v1h-1zM61 214h1v1h-1zM132 267h1v1h-1zM123 202h1v1h-1zM71 223h1v1h-1zM98 223h1v1h-1zM131 259h1v1h-1zM137 234h1v1h-1zM114 222h1v1h-1zM87 212h1v1h-1zM118 222h1v1h-1zM136 225h1v1h-1zM73 240h1v1h-1zM94 225h1v1h-1zM124 217h1v1h-1zM102 228h1v1h-1zM81 235h1v1h-1zM104 209h1v1h-1zM98 227h1v1h-1zM113 277h1v1h-1zM104 230h1v1h-1zM142 222h1v1h-1zM130 259h1v1h-1zM135 248h1v1h-1zM80 221h1v1h-1zM75 242h1v1h-1zM65 278h1v1h-1zM133 264h1v1h-1zM128 220h1v1h-1zM69 244h1v1h-1zM133 257h1v1h-1zM95 226h1v1h-1zM136 243h1v1h-1zM126 272h1v1h-1zM142 238h1v1h-1zM138 211h1v1h-1zM80 233h1v1h-1zM60 235h1v1h-1zM60 258h1v1h-1zM102 231h1v1h-1zM90 233h1v1h-1zM72 243h1v1h-1zM102 230h1v1h-1zM99 224h1v1h-1zM125 274h1v1h-1zM135 219h1v1h-1zM112 223h1v1h-1zM57 258h1v1h-1zM58 257h1v1h-1zM115 219h1v1h-1zM126 210h1v1h-1zM64 250h1v1h-1zM73 220h1v1h-1zM61 230h1v1h-1zM139 223h1v1h-1zM122 220h1v1h-1zM97 225h1v1h-1z"/>
<path fill="#2232b8" fill-opacity="0.6" d="M130 265h1v1h-1zM97 222h1v1h-1zM100 232h1v1h-1zM66 238h1v1h-1zM80 210h1v1h-1zM98 230h1v1h-1zM107 224h1v1h-1zM141 232h1v1h-1zM125 212h1v1h-1zM132 207h1v1h-1zM112 224h1v1h-1zM74 226h1v1h-1zM137 255h1v1h-1zM58 258h1v1h-1zM77 241h1v1h-1zM130 260h1v1h-1zM133 264h1v1h-1zM104 227h1v1h-1zM66 252h1v1h-1zM125 217h1v1h-1zM128 266h1v1h-1zM132 256h1v1h-1zM73 216h1v1h-1zM137 227h1v1h-1zM138 236h1v1h-1zM96 216h1v1h-1zM111 216h1v1h-1zM68 246h1v1h-1zM135 247h1v1h-1zM112 218h1v1h-1zM102 213h1v1h-1zM94 232h1v1h-1zM75 238h1v1h-1zM67 241h1v1h-1zM134 216h1v1h-1zM79 226h1v1h-1zM141 228h1v1h-1zM132 257h1v1h-1zM65 246h1v1h-1zM102 229h1v1h-1zM85 225h1v1h-1zM86 228h1v1h-1zM137 241h1v1h-1zM95 229h1v1h-1zM130 256h1v1h-1zM70 246h1v1h-1zM78 238h1v1h-1zM138 237h1v1h-1zM58 256h1v1h-1zM129 219h1v1h-1zM128 264h1v1h-1zM127 202h1v1h-1zM107 229h1v1h-1zM124 278h1v1h-1zM136 225h1v1h-1zM106 227h1v1h-1zM95 234h1v1h-1zM58 252h1v1h-1zM71 236h1v1h-1zM57 254h1v1h-1zM101 230h1v1h-1zM133 259h1v1h-1zM62 278h1v1h-1zM126 205h1v1h-1zM104 230h1v1h-1zM57 279h1v1h-1zM83 236h1v1h-1zM60 236h1v1h-1zM138 222h1v1h-1zM67 247h1v1h-1zM132 250h1v1h-1zM134 245h1v1h-1zM135 221h1v1h-1zM59 250h1v1h-1zM62 224h1v1h-1zM126 220h1v1h-1zM74 213h1v1h-1zM92 225h1v1h-1zM93 233h1v1h-1zM124 202h1v1h-1zM124 273h1v1h-1zM75 241h1v1h-1zM99 227h1v1h-1zM88 237h1v1h-1zM126 211h1v1h-1zM135 220h1v1h-1zM124 221h1v1h-1zM79 227h1v1h-1zM70 242h1v1h-1zM71 220h1v1h-1zM134 218h1v1h-1zM125 275h1v1h-1zM104 227h1v1h-1zM67 251h1v1h-1zM125 268h1v1h-1zM68 218h1v1h-1zM65 279h1v1h-1zM79 238h1v1h-1zM136 232h1v1h-1zM112 224h1v1h-1zM83 229h1v1h-1zM71 232h1v1h-1zM143 226h1v1h-1zM137 232h1v1h-1zM139 230h1v1h-1zM63 276h1v1h-1zM78 224h1v1h-1zM58 260h1v1h-1zM137 229h1v1h-1zM72 235h1v1h-1zM71 210h1v1h-1zM100 231h1v1h-1zM58 257h1v1h-1zM59 275h1v1h-1zM134 219h1v1h-1zM142 238h1v1h-1zM140 238h1v1h-1zM75 240h1v1h-1zM134 215h1v1h-1zM69 249h1v1h-1zM59 256h1v1h-1zM88 232h1v1h-1zM99 217h1v1h-1zM59 253h1v1h-1zM64 249h1v1h-1zM127 270h1v1h-1zM74 234h1v1h-1zM128 218h1v1h-1zM71 242h1v1h-1zM88 236h1v1h-1zM81 218h1v1h-1zM68 233h1v1h-1zM132 254h1v1h-1zM98 210h1v1h-1zM135 241h1v1h-1zM122 278h1v1h-1zM100 232h1v1h-1zM114 221h1v1h-1zM126 272h1v1h-1zM135 253h1v1h-1zM126 211h1v1h-1zM84 236h1v1h-1zM58 247h1v1h-1zM131 255h1v1h-1zM120 275h1v1h-1zM78 239h1v1h-1zM90 234h1v1h-1zM111 225h1v1h-1zM138 227h1v1h-1zM136 238h1v1h-1zM84 237h1v1h-1zM143 227h1v1h-1zM94 211h1v1h-1zM96 231h1v1h-1zM141 218h1v1h-1zM142 219h1v1h-1zM62 278h1v1h-1zM135 257h1v1h-1zM133 252h1v1h-1zM86 235h1v1h-1zM133 258h1v1h-1zM59 277h1v1h-1zM114 219h1v1h-1zM133 249h1v1h-1zM121 220h1v1h-1zM80 222h1v1h-1zM137 223h1v1h-1zM111 224h1v1h-1zM111 221h1v1h-1zM126 273h1v1h-1zM65 279h1v1h-1zM94 226h1v1h-1zM108 222h1v1h-1zM58 249h1v1h-1zM137 229h1v1h-1zM60 257h1v1h-1zM63 252h1v1h-1zM136 228h1v1h-1zM78 238h1v1h-1zM91 236h1v1h-1zM121 220h1v1h-1zM131 217h1v1h-1zM65 245h1v1h-1zM139 212h1v1h-1zM83 238h1v1h-1zM79 231h1v1h-1zM57 262h1v1h-1zM94 227h1v1h-1zM100 225h1v1h-1zM60 255h1v1h-1zM131 219h1v1h-1zM135 218h1v1h-1zM90 225h1v1h-1zM130 272h1v1h-1zM140 239h1v1h-1zM135 214h1v1h-1zM86 234h1v1h-1zM59 253h1v1h-1zM100 226h1v1h-1zM73 239h1v1h-1zM113 225h1v1h-1zM106 218h1v1h-1zM89 232h1v1h-1zM88 227h1v1h-1zM137 222h1v1h-1zM79 238h1v1h-1zM108 225h1v1h-1zM64 245h1v1h-1zM125 217h1v1h-1zM99 218h1v1h-1zM91 236h1v1h-1zM124 217h1v1h-1zM138 225h1v1h-1zM101 228h1v1h-1zM131 217h1v1h-1zM113 225h1v1h-1zM67 249h1v1h-1zM66 278h1v1h-1zM65 249h1v1h-1zM72 244h1v1h-1zM71 230h1v1h-1zM133 218h1v1h-1zM110 225h1v1h-1zM139 213h1v1h-1zM88 226h1v1h-1z"/>
<path fill="#2232b8" fill-opacity="0.8" d="M110 224h1v1h-1zM141 215h1v1h-1zM142 223h1v1h-1zM129 215h1v1h-1zM83 228h1v1h-1zM67 242h1v1h-1zM135 206h1v1h-1zM127 208h1v1h-1zM135 210h1v1h-1zM101 219h1v1h-1zM132 199h1v1h-1zM112 212h1v1h-1zM123 217h1v1h-1zM127 214h1v1h-1zM134 204h1v1h-1zM127 218h1v1h-1zM96 229h1v1h-1zM102 217h1v1h-1zM136 204h1v1h-1zM102 222h1v1h-1zM110 211h1v1h-1zM97 225h1v1h-1zM126 216h1v1h-1zM133 205h1v1h-1zM103 219h1v1h-1zM130 199h1v1h-1zM136 205h1v1h-1zM89 224h1v1h-1zM129 209h1v1h-1zM86 227h1v1h-1zM110 223h1v1h-1zM90 233h1v1h-1zM84 231h1v1h-1zM132 203h1v1h-1zM120 211h1v1h-1zM125 215h1v1h-1zM131 217h1v1h-1zM94 235h1v1h-1zM122 211h1v1h-1zM125 211h1v1h-1zM130 213h1v1h-1zM104 227h1v1h-1zM63 252h1v1h-1zM78 235h1v1h-1zM117 212h1v1h-1zM128 207h1v1h-1zM132 218h1v1h-1zM62 249h1v1h-1zM133 211h1v1h-1zM120 215h1v1h-1zM107 213h1v1h-1zM112 214h1v1h-1zM74 231h1v1h-1zM129 203h1v1h-1zM126 201h1v1h-1zM138 203h1v1h-1zM64 253h1v1h-1zM141 214h1v1h-1zM102 218h1v1h-1zM116 206h1v1h-1zM126 206h1v1h-1zM90 224h1v1h-1zM105 219h1v1h-1zM140 220h1v1h-1zM63 249h1v1h-1zM91 234h1v1h-1zM88 225h1v1h-1zM62 251h1v1h-1zM92 227h1v1h-1zM74 231h1v1h-1zM135 221h1v1h-1zM73 241h1v1h-1zM106 224h1v1h-1zM106 221h1v1h-1zM138 207h1v1h-1zM65 241h1v1h-1zM106 220h1v1h-1zM81 230h1v1h-1zM128 211h1v1h-1zM90 230h1v1h-1zM106 214h1v1h-1zM139 225h1v1h-1zM93 226h1v1h-1zM80 230h1v1h-1z"/>
<path fill="#2232b8" fill-opacity="0.45" d="M123 220h1v1h-1zM142 203h1v1h-1zM104 216h1v1h-1zM137 216h1v1h-1zM129 205h1v1h-1zM127 207h1v1h-1zM137 214h1v1h-1zM127 218h1v1h-1zM105 221h1v1h-1zM128 205h1v1h-1zM124 215h1v1h-1zM63 252h1v1h-1zM105 228h1v1h-1zM108 213h1v1h-1zM138 211h1v1h-1zM106 225h1v1h-1zM89 226h1v1h-1zM98 230h1v1h-1zM119 204h1v1h-1zM92 223h1v1h-1zM110 216h1v1h-1zM122 214h1v1h-1zM125 213h1v1h-1zM103 215h1v1h-1zM115 223h1v1h-1zM92 221h1v1h-1zM116 209h1v1h-1zM63 252h1v1h-1zM75 232h1v1h-1zM109 227h1v1h-1zM113 219h1v1h-1zM104 218h1v1h-1zM66 246h1v1h-1zM120 214h1v1h-1zM140 222h1v1h-1zM118 213h1v1h-1zM139 208h1v1h-1zM71 239h1v1h-1zM81 229h1v1h-1zM122 218h1v1h-1zM87 234h1v1h-1zM127 214h1v1h-1zM116 220h1v1h-1zM137 218h1v1h-1zM102 225h1v1h-1zM124 221h1v1h-1zM86 235h1v1h-1zM86 234h1v1h-1zM132 209h1v1h-1zM120 209h1v1h-1zM133 202h1v1h-1zM93 233h1v1h-1zM131 212h1v1h-1zM67 243h1v1h-1zM132 216h1v1h-1zM68 249h1v1h-1zM87 226h1v1h-1zM143 220h1v1h-1zM137 207h1v1h-1zM142 212h1v1h-1zM85 236h1v1h-1zM94 235h1v1h-1zM91 235h1v1h-1zM71 245h1v1h-1zM124 203h1v1h-1zM107 224h1v1h-1zM87 224h1v1h-1zM137 212h1v1h-1zM94 234h1v1h-1zM113 218h1v1h-1zM105 224h1v1h-1zM81 239h1v1h-1zM72 236h1v1h-1zM134 220h1v1h-1zM129 217h1v1h-1zM116 216h1v1h-1zM84 233h1v1h-1zM74 241h1v1h-1zM139 215h1v1h-1zM70 237h1v1h-1zM125 200h1v1h-1zM90 235h1v1h-1zM88 224h1v1h-1zM103 225h1v1h-1zM119 207h1v1h-1zM100 229h1v1h-1zM127 220h1v1h-1zM71 240h1v1h-1zM113 212h1v1h-1zM106 229h1v1h-1zM93 225h1v1h-1zM115 212h1v1h-1zM95 223h1v1h-1zM125 211h1v1h-1zM140 211h1v1h-1zM65 246h1v1h-1zM136 204h1v1h-1zM142 224h1v1h-1zM118 222h1v1h-1zM123 219h1v1h-1zM138 204h1v1h-1zM137 203h1v1h-1zM98 230h1v1h-1zM67 242h1v1h-1zM115 210h1v1h-1z"/>
<path fill="#2232b8" fill-opacity="0.6" d="M118 208h1v1h-1zM101 218h1v1h-1zM131 205h1v1h-1zM96 220h1v1h-1zM140 217h1v1h-1zM101 219h1v1h-1zM113 224h1v1h-1zM140 223h1v1h-1zM123 211h1v1h-1zM138 220h1v1h-1zM142 210h1v1h-1zM80 229h1v1h-1zM132 212h1v1h-1zM64 247h1v1h-1zM77 231h1v1h-1zM76 233h1v1h-1zM144 212h1v1h-1zM119 208h1v1h-1zM114 222h1v1h-1zM133 199h1v1h-1zM69 237h1v1h-1zM134 220h1v1h-1zM97 233h1v1h-1zM99 230h1v1h-1zM88 237h1v1h-1zM100 229h1v1h-1zM92 231h1v1h-1zM71 246h1v1h-1zM142 205h1v1h-1zM137 202h1v1h-1zM126 201h1v1h-1zM69 241h1v1h-1zM79 239h1v1h-1zM114 209h1v1h-1zM78 231h1v1h-1zM76 240h1v1h-1zM117 219h1v1h-1zM108 225h1v1h-1zM84 226h1v1h-1zM132 206h1v1h-1zM86 231h1v1h-1zM76 231h1v1h-1zM124 214h1v1h-1zM129 206h1v1h-1zM134 215h1v1h-1zM113 211h1v1h-1zM86 226h1v1h-1zM99 232h1v1h-1zM95 224h1v1h-1zM134 204h1v1h-1zM120 217h1v1h-1zM111 225h1v1h-1zM61 254h1v1h-1zM85 225h1v1h-1zM111 220h1v1h-1zM133 202h1v1h-1zM121 212h1v1h-1zM76 239h1v1h-1zM88 235h1v1h-1zM67 246h1v1h-1zM118 204h1v1h-1zM97 230h1v1h-1zM131 205h1v1h-1zM126 217h1v1h-1zM135 199h1v1h-1zM103 227h1v1h-1zM130 203h1v1h-1zM140 209h1v1h-1zM93 225h1v1h-1zM93 231h1v1h-1zM74 240h1v1h-1zM116 210h1v1h-1zM68 241h1v1h-1zM113 220h1v1h-1zM111 209h1v1h-1zM62 255h1v1h-1zM136 213h1v1h-1zM106 217h1v1h-1zM142 216h1v1h-1zM65 242h1v1h-1zM131 212h1v1h-1zM118 209h1v1h-1zM136 225h1v1h-1zM115 222h1v1h-1zM125 214h1v1h-1zM75 235h1v1h-1zM72 237h1v1h-1zM140 212h1v1h-1zM145 215h1v1h-1zM84 231h1v1h-1zM132 217h1v1h-1zM73 242h1v1h-1zM126 207h1v1h-1zM106 227h1v1h-1zM124 201h1v1h-1zM122 202h1v1h-1zM141 209h1v1h-1zM128 199h1v1h-1z"/>
<path fill="#2232b8" fill-opacity="1.0" d="M97 219h1v1h-1zM107 226h1v1h-1zM128 200h1v1h-1zM63 251h1v1h-1zM143 219h1v1h-1zM67 243h1v1h-1zM63 248h1v1h-1zM117 205h1v1h-1zM121 207h1v1h-1zM84 230h1v1h-1zM88 231h1v1h-1zM76 232h1v1h-1zM87 236h1v1h-1zM129 209h1v1h-1zM124 205h1v1h-1zM79 233h1v1h-1zM135 222h1v1h-1zM134 209h1v1h-1zM119 207h1v1h-1zM72 237h1v1h-1zM129 204h1v1h-1zM125 201h1v1h-1zM90 235h1v1h-1zM97 224h1v1h-1zM129 207h1v1h-1zM130 216h1v1h-1zM82 227h1v1h-1zM144 218h1v1h-1zM101 219h1v1h-1zM98 234h1v1h-1zM109 218h1v1h-1zM104 226h1v1h-1zM142 208h1v1h-1zM93 224h1v1h-1zM79 231h1v1h-1zM140 201h1v1h-1zM82 234h1v1h-1zM89 227h1v1h-1zM111 224h1v1h-1zM128 202h1v1h-1zM105 228h1v1h-1zM123 219h1v1h-1zM137 214h1v1h-1zM120 206h1v1h-1zM123 214h1v1h-1zM140 218h1v1h-1zM120 205h1v1h-1zM104 226h1v1h-1zM117 210h1v1h-1zM94 225h1v1h-1zM142 203h1v1h-1zM140 211h1v1h-1zM109 216h1v1h-1zM142 211h1v1h-1zM65 249h1v1h-1zM74 231h1v1h-1zM91 231h1v1h-1zM133 210h1v1h-1zM63 255h1v1h-1zM119 210h1v1h-1zM127 211h1v1h-1zM141 201h1v1h-1zM83 229h1v1h-1zM131 202h1v1h-1zM62 249h1v1h-1zM115 221h1v1h-1zM122 221h1v1h-1zM108 222h1v1h-1zM114 210h1v1h-1zM146 208h1v1h-1zM74 242h1v1h-1zM134 203h1v1h-1zM124 208h1v1h-1zM122 203h1v1h-1zM76 234h1v1h-1zM71 238h1v1h-1zM144 213h1v1h-1zM91 233h1v1h-1zM83 235h1v1h-1zM89 226h1v1h-1zM63 255h1v1h-1zM137 212h1v1h-1zM99 228h1v1h-1zM81 229h1v1h-1zM120 212h1v1h-1zM104 224h1v1h-1zM120 218h1v1h-1zM125 217h1v1h-1zM100 222h1v1h-1zM104 214h1v1h-1zM121 220h1v1h-1zM114 207h1v1h-1zM135 208h1v1h-1z"/>
<g filter="url(#fnoise)"><path d="M56.30,263.90 C56.77,262.14 59.23,261.12 60.30,259.90 C61.37,258.67 64.28,254.78 65.50,253.40 C66.72,252.02 69.58,249.34 70.80,248.10 C72.02,246.86 74.78,243.72 76.00,242.80 C77.22,241.88 79.76,240.81 81.30,240.20 C82.84,239.59 87.20,238.21 89.20,237.60 C91.20,236.99 96.57,235.77 98.40,235.00 C100.23,234.23 103.37,231.92 104.90,231.00 C106.43,230.08 109.96,228.02 111.50,227.10 C113.04,226.18 116.41,223.79 118.10,223.10 C119.79,222.41 124.32,221.50 126.00,221.20 C127.68,220.90 131.28,220.12 132.50,220.50 C133.72,220.88 136.12,222.66 136.50,224.50 C136.88,226.34 136.27,233.40 135.80,236.30 C135.33,239.21 133.34,246.33 132.50,249.40 C131.66,252.47 129.67,259.84 128.60,262.60 C127.53,265.37 124.68,271.42 123.30,273.10 C121.92,274.78 118.95,276.31 116.80,277.00 C114.65,277.69 108.28,278.62 104.90,279.00 C101.52,279.38 91.32,280.30 87.80,280.30 C84.28,280.30 77.61,279.45 74.70,279.00 C71.80,278.55 65.05,276.87 62.90,276.40 C60.75,275.93 57.07,276.46 56.30,275.00 C55.53,273.54 55.83,265.66 56.30,263.90Z" fill="#0a1eff"/></g>
<g filter="url(#fnoise2)"><path d="M72.10,254.40 C73.10,252.84 76.87,248.56 78.70,247.50 C80.53,246.44 85.50,245.80 87.80,245.30 C90.10,244.80 96.09,243.84 98.40,243.20 C100.71,242.56 105.62,240.70 107.60,239.80 C109.58,238.90 113.42,236.36 115.40,235.50 C117.38,234.64 122.87,232.61 124.60,232.40 C126.33,232.19 129.46,232.25 130.20,233.70 C130.94,235.15 131.16,242.08 130.90,244.80 C130.64,247.52 128.81,254.16 128.00,257.00 C127.19,259.83 125.16,266.98 124.00,269.10 C122.84,271.22 120.33,274.25 118.10,275.20 C115.87,276.14 108.44,276.81 104.90,277.20 C101.37,277.58 91.32,278.50 87.80,278.50 C84.28,278.50 76.84,278.14 74.70,277.20 C72.56,276.25 70.04,272.30 69.50,270.40 C68.96,268.50 69.80,262.77 70.10,260.90 C70.40,259.03 71.10,255.96 72.10,254.40Z" fill="#1e8cff"/><path d="M76.00,256.00 C76.77,254.00 79.76,252.30 81.30,252.00 C82.84,251.70 87.67,253.09 89.20,253.40 C90.73,253.72 93.02,254.86 94.40,254.70 C95.78,254.54 99.46,252.62 101.00,252.00 C102.54,251.38 106.38,250.16 107.60,249.40 C108.82,248.64 110.28,246.11 111.50,245.50 C112.72,244.89 117.03,244.05 118.10,244.20 C119.17,244.35 120.40,244.97 120.70,246.80 C121.00,248.63 120.85,257.15 120.70,259.90 C120.55,262.65 120.47,268.71 119.40,270.40 C118.33,272.09 113.65,273.78 111.50,274.40 C109.35,275.02 103.77,275.40 101.00,275.70 C98.23,276.00 90.56,277.00 87.80,277.00 C85.03,277.00 78.83,276.62 77.30,275.70 C75.77,274.78 74.85,271.40 74.70,269.10 C74.55,266.80 75.23,258.00 76.00,256.00Z" fill="#1ee6f0"/><path d="M77.30,259.90 C78.29,258.83 83.20,257.30 85.20,257.30 C87.20,257.30 92.56,259.28 94.40,259.90 C96.24,260.52 100.08,261.53 101.00,262.60 C101.92,263.67 102.60,267.72 102.30,269.10 C102.00,270.48 100.09,273.63 98.40,274.40 C96.71,275.17 90.10,275.70 87.80,275.70 C85.50,275.70 80.00,275.47 78.70,274.40 C77.41,273.33 76.86,268.19 76.70,266.50 C76.54,264.81 76.31,260.97 77.30,259.90Z" fill="#3cf53c"/><path d="M106.00,253.00 C107.05,251.48 111.48,249.23 113.00,249.00 C114.52,248.77 118.18,249.72 119.00,251.00 C119.82,252.28 120.00,257.78 120.00,260.00 C120.00,262.22 119.93,268.37 119.00,270.00 C118.07,271.63 113.52,273.88 112.00,274.00 C110.48,274.12 106.93,272.40 106.00,271.00 C105.07,269.60 104.00,264.10 104.00,262.00 C104.00,259.90 104.95,254.52 106.00,253.00Z" fill="#3cf53c"/><path d="M107.60,252.00 C108.67,250.46 114.02,249.24 115.40,249.40 C116.78,249.56 118.93,251.10 119.40,253.40 C119.87,255.70 120.17,266.65 119.40,269.10 C118.63,271.55 114.18,274.08 112.80,274.40 C111.42,274.71 108.37,273.18 107.60,271.80 C106.83,270.42 106.20,264.91 106.20,262.60 C106.20,260.29 106.53,253.54 107.60,252.00Z" fill="#f5f51e"/><path d="M110.20,259.90 C110.74,258.67 113.26,257.30 114.10,257.30 C114.94,257.30 117.09,258.52 117.40,259.90 C117.72,261.28 117.34,267.71 116.80,269.10 C116.26,270.49 113.65,271.95 112.80,271.80 C111.95,271.65 109.80,269.19 109.50,267.80 C109.20,266.41 109.66,261.12 110.20,259.90Z" fill="#ff8c0a"/><path d="M82.00,268.00 C82.47,266.95 86.83,265.77 88.00,266.00 C89.17,266.23 91.77,268.95 92.00,270.00 C92.23,271.05 90.93,274.42 90.00,275.00 C89.07,275.58 84.93,275.82 84.00,275.00 C83.07,274.18 81.53,269.05 82.00,268.00Z" fill="#f5f51e"/><path d="M56.40,266.00 C56.59,265.18 57.81,265.18 58.00,266.00 C58.19,266.82 58.19,272.18 58.00,273.00 C57.81,273.82 56.59,273.82 56.40,273.00 C56.21,272.18 56.21,266.82 56.40,266.00Z" fill="#ff8c0a"/></g>
<line x1="56.40" y1="297.60" x2="56.40" y2="191.98" stroke="#6d6e71" stroke-width="0.8"/>
<line x1="52.40" y1="297.60" x2="56.40" y2="297.60" stroke="#6d6e71" stroke-width="0.8"/>
<text x="48.00" y="301.27" font-size="8.3" text-anchor="end" textLength="5.00" lengthAdjust="spacingAndGlyphs">0</text>
<line x1="52.40" y1="281.35" x2="56.40" y2="281.35" stroke="#6d6e71" stroke-width="0.8"/>
<text x="48.00" y="285.02" font-size="8.3" text-anchor="end" textLength="10.10" lengthAdjust="spacingAndGlyphs">10</text>
<line x1="52.40" y1="265.10" x2="56.40" y2="265.10" stroke="#6d6e71" stroke-width="0.8"/>
<text x="48.00" y="268.77" font-size="8.3" text-anchor="end" textLength="10.10" lengthAdjust="spacingAndGlyphs">20</text>
<line x1="52.40" y1="248.85" x2="56.40" y2="248.85" stroke="#6d6e71" stroke-width="0.8"/>
<text x="48.00" y="252.52" font-size="8.3" text-anchor="end" textLength="10.10" lengthAdjust="spacingAndGlyphs">30</text>
<line x1="52.40" y1="232.60" x2="56.40" y2="232.60" stroke="#6d6e71" stroke-width="0.8"/>
<text x="48.00" y="236.27" font-size="8.3" text-anchor="end" textLength="10.10" lengthAdjust="spacingAndGlyphs">40</text>
<line x1="52.40" y1="216.35" x2="56.40" y2="216.35" stroke="#6d6e71" stroke-width="0.8"/>
<text x="48.00" y="220.02" font-size="8.3" text-anchor="end" textLength="10.10" lengthAdjust="spacingAndGlyphs">50</text>
<line x1="52.40" y1="200.10" x2="56.40" y2="200.10" stroke="#6d6e71" stroke-width="0.8"/>
<text x="48.00" y="203.77" font-size="8.3" text-anchor="end" textLength="10.10" lengthAdjust="spacingAndGlyphs">60</text>
<line x1="56.40" y1="297.60" x2="167.00" y2="297.60" stroke="#6d6e71" stroke-width="0.8"/>
<line x1="56.40" y1="297.60" x2="56.40" y2="300.60" stroke="#6d6e71" stroke-width="0.9"/>
<text x="55.60" y="311.08" font-size="8.6" text-anchor="middle" textLength="9.70" lengthAdjust="spacingAndGlyphs">10</text>
<text x="60.70" y="307.95" font-size="6.0" textLength="3.10" lengthAdjust="spacingAndGlyphs">0</text>
<line x1="64.72" y1="297.60" x2="64.72" y2="299.60" stroke="#6d6e71" stroke-width="0.7"/>
<line x1="69.59" y1="297.60" x2="69.59" y2="299.60" stroke="#6d6e71" stroke-width="0.7"/>
<line x1="73.05" y1="297.60" x2="73.05" y2="299.60" stroke="#6d6e71" stroke-width="0.7"/>
<line x1="75.73" y1="297.60" x2="75.73" y2="299.60" stroke="#6d6e71" stroke-width="0.7"/>
<line x1="77.92" y1="297.60" x2="77.92" y2="299.60" stroke="#6d6e71" stroke-width="0.7"/>
<line x1="79.77" y1="297.60" x2="79.77" y2="299.60" stroke="#6d6e71" stroke-width="0.7"/>
<line x1="81.37" y1="297.60" x2="81.37" y2="299.60" stroke="#6d6e71" stroke-width="0.7"/>
<line x1="82.78" y1="297.60" x2="82.78" y2="299.60" stroke="#6d6e71" stroke-width="0.7"/>
<line x1="84.05" y1="297.60" x2="84.05" y2="300.60" stroke="#6d6e71" stroke-width="0.9"/>
<text x="83.25" y="311.08" font-size="8.6" text-anchor="middle" textLength="9.70" lengthAdjust="spacingAndGlyphs">10</text>
<text x="88.35" y="307.95" font-size="6.0" textLength="3.10" lengthAdjust="spacingAndGlyphs">1</text>
<line x1="92.37" y1="297.60" x2="92.37" y2="299.60" stroke="#6d6e71" stroke-width="0.7"/>
<line x1="97.24" y1="297.60" x2="97.24" y2="299.60" stroke="#6d6e71" stroke-width="0.7"/>
<line x1="100.70" y1="297.60" x2="100.70" y2="299.60" stroke="#6d6e71" stroke-width="0.7"/>
<line x1="103.38" y1="297.60" x2="103.38" y2="299.60" stroke="#6d6e71" stroke-width="0.7"/>
<line x1="105.57" y1="297.60" x2="105.57" y2="299.60" stroke="#6d6e71" stroke-width="0.7"/>
<line x1="107.42" y1="297.60" x2="107.42" y2="299.60" stroke="#6d6e71" stroke-width="0.7"/>
<line x1="109.02" y1="297.60" x2="109.02" y2="299.60" stroke="#6d6e71" stroke-width="0.7"/>
<line x1="110.43" y1="297.60" x2="110.43" y2="299.60" stroke="#6d6e71" stroke-width="0.7"/>
<line x1="111.70" y1="297.60" x2="111.70" y2="300.60" stroke="#6d6e71" stroke-width="0.9"/>
<text x="110.90" y="311.08" font-size="8.6" text-anchor="middle" textLength="9.70" lengthAdjust="spacingAndGlyphs">10</text>
<text x="116.00" y="307.95" font-size="6.0" textLength="3.10" lengthAdjust="spacingAndGlyphs">2</text>
<line x1="120.02" y1="297.60" x2="120.02" y2="299.60" stroke="#6d6e71" stroke-width="0.7"/>
<line x1="124.89" y1="297.60" x2="124.89" y2="299.60" stroke="#6d6e71" stroke-width="0.7"/>
<line x1="128.35" y1="297.60" x2="128.35" y2="299.60" stroke="#6d6e71" stroke-width="0.7"/>
<line x1="131.03" y1="297.60" x2="131.03" y2="299.60" stroke="#6d6e71" stroke-width="0.7"/>
<line x1="133.22" y1="297.60" x2="133.22" y2="299.60" stroke="#6d6e71" stroke-width="0.7"/>
<line x1="135.07" y1="297.60" x2="135.07" y2="299.60" stroke="#6d6e71" stroke-width="0.7"/>
<line x1="136.67" y1="297.60" x2="136.67" y2="299.60" stroke="#6d6e71" stroke-width="0.7"/>
<line x1="138.08" y1="297.60" x2="138.08" y2="299.60" stroke="#6d6e71" stroke-width="0.7"/>
<line x1="139.35" y1="297.60" x2="139.35" y2="300.60" stroke="#6d6e71" stroke-width="0.9"/>
<text x="138.55" y="311.08" font-size="8.6" text-anchor="middle" textLength="9.70" lengthAdjust="spacingAndGlyphs">10</text>
<text x="143.65" y="307.95" font-size="6.0" textLength="3.10" lengthAdjust="spacingAndGlyphs">3</text>
<line x1="147.67" y1="297.60" x2="147.67" y2="299.60" stroke="#6d6e71" stroke-width="0.7"/>
<line x1="152.54" y1="297.60" x2="152.54" y2="299.60" stroke="#6d6e71" stroke-width="0.7"/>
<line x1="156.00" y1="297.60" x2="156.00" y2="299.60" stroke="#6d6e71" stroke-width="0.7"/>
<line x1="158.68" y1="297.60" x2="158.68" y2="299.60" stroke="#6d6e71" stroke-width="0.7"/>
<line x1="160.87" y1="297.60" x2="160.87" y2="299.60" stroke="#6d6e71" stroke-width="0.7"/>
<line x1="162.72" y1="297.60" x2="162.72" y2="299.60" stroke="#6d6e71" stroke-width="0.7"/>
<line x1="164.32" y1="297.60" x2="164.32" y2="299.60" stroke="#6d6e71" stroke-width="0.7"/>
<line x1="165.73" y1="297.60" x2="165.73" y2="299.60" stroke="#6d6e71" stroke-width="0.7"/>
<line x1="167.00" y1="297.60" x2="167.00" y2="300.60" stroke="#6d6e71" stroke-width="0.9"/>
<text x="166.20" y="311.08" font-size="8.6" text-anchor="middle" textLength="9.70" lengthAdjust="spacingAndGlyphs">10</text>
<text x="171.30" y="307.95" font-size="6.0" textLength="3.10" lengthAdjust="spacingAndGlyphs">4</text>
<text x="111.40" y="325.24" font-size="9.6" text-anchor="middle" textLength="86.00" lengthAdjust="spacingAndGlyphs">*[488] 530/40-GFP</text>
<polyline points="56.40,192.80 85.00,192.80 85.00,297.60" fill="none" stroke="#2f2fff" stroke-width="1.1"/>
<polyline points="126.10,297.60 128.50,196.30 168.00,196.30" fill="none" stroke="#d47a5c" stroke-width="0.9"/>
<text x="146.40" y="193.41" font-size="9.8" text-anchor="middle" textLength="53.40" lengthAdjust="spacingAndGlyphs">Distal colon</text>
<text x="57.60" y="291.95" font-size="8.8" textLength="14.80" lengthAdjust="spacingAndGlyphs">GFP</text>
<text x="72.60" y="288.42" font-size="6.2" textLength="9.60" lengthAdjust="spacingAndGlyphs">neg</text>
<text x="133.70" y="277.35" font-size="8.8" textLength="14.80" lengthAdjust="spacingAndGlyphs">GFP</text>
<text x="148.70" y="273.82" font-size="6.2" textLength="11.60" lengthAdjust="spacingAndGlyphs">high</text>
<text transform="translate(29.72,244.00) rotate(-90)" font-size="10.4" text-anchor="middle" textLength="19.40" lengthAdjust="spacingAndGlyphs">FSC</text>
<line x1="32.00" y1="358.50" x2="175.70" y2="358.50" stroke="#231f20" stroke-width="0.8"/>
<rect x="39.50" y="350.30" width="45.80" height="16.40" fill="#5cb846" stroke="#3a3a3a" stroke-width="0.9"/>
<rect x="87.10" y="350.30" width="25.80" height="16.40" fill="#d3c2a4" stroke="#3a3a3a" stroke-width="0.9"/>
<rect x="114.50" y="350.30" width="46.00" height="16.40" fill="#2b9bd7" stroke="#3a3a3a" stroke-width="0.9"/>
<text x="62.90" y="361.34" font-size="9.6" text-anchor="middle" textLength="24.40" lengthAdjust="spacingAndGlyphs">eGFP</text>
<text x="100.05" y="361.34" font-size="9.6" text-anchor="middle" textLength="19.90" lengthAdjust="spacingAndGlyphs">IRES</text>
<text x="137.60" y="361.34" font-size="9.6" text-anchor="middle" textLength="38.00" lengthAdjust="spacingAndGlyphs">CreERT2</text>
<polyline points="35.00,350.30 35.00,341.30 39.00,341.30" fill="none" stroke="#231f20" stroke-width="0.8"/>
<path d="M40.6,341.3 L38.4,339.9 L38.4,342.7 Z" fill="#231f20"/>
<text x="54.20" y="344.58" font-size="10.0" textLength="99.30" lengthAdjust="spacingAndGlyphs"><tspan font-style="italic">Npy1r</tspan>, chromosome 8</text>
<text transform="translate(0.40,344.20) scale(0.954,1)" font-size="13.4" font-weight="bold" fill="#000" stroke="#000" stroke-width="0.25">d</text>
<text x="39.80" y="379.67" font-size="8.3" text-anchor="middle" textLength="26.40" lengthAdjust="spacingAndGlyphs">×1,000</text>
<path fill="#2232b8" fill-opacity="0.6" d="M105 407h1v1h-1zM121 431h1v1h-1zM88 428h1v1h-1zM71 422h1v1h-1zM70 427h1v1h-1zM124 420h1v1h-1zM94 419h1v1h-1zM120 405h1v1h-1zM77 430h1v1h-1zM80 436h1v1h-1zM90 420h1v1h-1zM66 438h1v1h-1zM113 391h1v1h-1zM89 413h1v1h-1zM78 439h1v1h-1zM58 443h1v1h-1zM104 407h1v1h-1zM62 457h1v1h-1zM112 389h1v1h-1zM120 412h1v1h-1zM102 418h1v1h-1zM97 414h1v1h-1zM123 417h1v1h-1zM127 434h1v1h-1zM77 462h1v1h-1zM73 460h1v1h-1zM73 462h1v1h-1zM121 410h1v1h-1zM114 462h1v1h-1zM122 412h1v1h-1zM106 414h1v1h-1zM127 445h1v1h-1zM75 426h1v1h-1zM122 425h1v1h-1zM76 446h1v1h-1zM119 404h1v1h-1zM126 411h1v1h-1zM122 440h1v1h-1zM122 438h1v1h-1zM116 401h1v1h-1zM97 414h1v1h-1zM121 453h1v1h-1zM78 407h1v1h-1zM74 453h1v1h-1zM120 442h1v1h-1zM116 408h1v1h-1zM119 455h1v1h-1zM121 429h1v1h-1zM74 451h1v1h-1zM72 462h1v1h-1zM73 461h1v1h-1zM75 460h1v1h-1zM120 399h1v1h-1zM70 458h1v1h-1zM61 453h1v1h-1zM122 435h1v1h-1zM70 463h1v1h-1zM120 443h1v1h-1zM122 411h1v1h-1zM90 427h1v1h-1zM80 420h1v1h-1zM123 447h1v1h-1zM109 462h1v1h-1zM117 409h1v1h-1zM123 395h1v1h-1zM119 452h1v1h-1zM82 428h1v1h-1zM83 418h1v1h-1zM123 425h1v1h-1zM74 462h1v1h-1zM72 435h1v1h-1zM109 409h1v1h-1zM125 423h1v1h-1zM71 454h1v1h-1zM75 460h1v1h-1zM72 455h1v1h-1zM108 406h1v1h-1zM61 449h1v1h-1zM89 424h1v1h-1zM123 412h1v1h-1zM74 463h1v1h-1zM121 442h1v1h-1zM72 461h1v1h-1zM118 459h1v1h-1zM102 418h1v1h-1zM124 443h1v1h-1zM122 408h1v1h-1zM123 433h1v1h-1zM92 427h1v1h-1zM122 412h1v1h-1zM132 420h1v1h-1zM90 424h1v1h-1zM69 463h1v1h-1zM119 410h1v1h-1zM103 408h1v1h-1zM120 450h1v1h-1zM123 433h1v1h-1zM113 407h1v1h-1zM74 425h1v1h-1zM91 426h1v1h-1zM123 453h1v1h-1zM83 429h1v1h-1zM102 418h1v1h-1zM118 455h1v1h-1zM126 412h1v1h-1zM126 404h1v1h-1zM116 397h1v1h-1zM72 444h1v1h-1zM104 410h1v1h-1zM94 425h1v1h-1zM126 407h1v1h-1zM81 430h1v1h-1zM97 424h1v1h-1zM119 457h1v1h-1zM120 408h1v1h-1zM117 409h1v1h-1zM101 414h1v1h-1zM123 451h1v1h-1zM122 447h1v1h-1zM73 425h1v1h-1zM124 441h1v1h-1zM56 459h1v1h-1zM93 415h1v1h-1zM81 433h1v1h-1zM60 454h1v1h-1zM82 433h1v1h-1zM76 462h1v1h-1zM125 424h1v1h-1zM102 403h1v1h-1zM106 403h1v1h-1zM97 421h1v1h-1zM114 409h1v1h-1zM119 445h1v1h-1zM120 405h1v1h-1zM111 411h1v1h-1zM124 415h1v1h-1zM123 427h1v1h-1zM124 433h1v1h-1zM129 423h1v1h-1zM75 438h1v1h-1zM74 462h1v1h-1zM105 413h1v1h-1zM69 460h1v1h-1zM79 434h1v1h-1zM98 463h1v1h-1zM125 413h1v1h-1zM112 407h1v1h-1zM80 438h1v1h-1zM89 426h1v1h-1zM90 420h1v1h-1zM127 407h1v1h-1zM102 417h1v1h-1zM79 418h1v1h-1zM118 408h1v1h-1zM103 414h1v1h-1zM69 426h1v1h-1zM74 451h1v1h-1zM83 429h1v1h-1zM122 447h1v1h-1zM127 427h1v1h-1zM80 412h1v1h-1zM101 394h1v1h-1zM113 409h1v1h-1zM103 415h1v1h-1z"/>
<path fill="#2232b8" fill-opacity="0.45" d="M114 409h1v1h-1zM123 445h1v1h-1zM71 434h1v1h-1zM90 418h1v1h-1zM88 399h1v1h-1zM105 417h1v1h-1zM104 418h1v1h-1zM67 438h1v1h-1zM62 461h1v1h-1zM120 402h1v1h-1zM124 420h1v1h-1zM74 457h1v1h-1zM81 428h1v1h-1zM77 442h1v1h-1zM118 457h1v1h-1zM99 415h1v1h-1zM121 456h1v1h-1zM125 440h1v1h-1zM125 412h1v1h-1zM124 419h1v1h-1zM129 423h1v1h-1zM90 412h1v1h-1zM120 452h1v1h-1zM102 413h1v1h-1zM81 434h1v1h-1zM126 424h1v1h-1zM100 420h1v1h-1zM78 425h1v1h-1zM84 463h1v1h-1zM125 427h1v1h-1zM126 407h1v1h-1zM98 419h1v1h-1zM79 434h1v1h-1zM76 439h1v1h-1zM98 415h1v1h-1zM80 436h1v1h-1zM117 405h1v1h-1zM106 463h1v1h-1zM125 414h1v1h-1zM84 429h1v1h-1zM125 443h1v1h-1zM116 407h1v1h-1zM73 454h1v1h-1zM62 459h1v1h-1zM115 407h1v1h-1zM126 414h1v1h-1zM125 433h1v1h-1zM87 408h1v1h-1zM101 422h1v1h-1zM79 463h1v1h-1zM93 463h1v1h-1zM117 458h1v1h-1zM99 418h1v1h-1zM125 410h1v1h-1zM112 411h1v1h-1zM76 432h1v1h-1zM109 411h1v1h-1zM75 437h1v1h-1zM73 459h1v1h-1zM96 407h1v1h-1zM116 461h1v1h-1zM85 410h1v1h-1zM69 453h1v1h-1zM70 456h1v1h-1zM56 444h1v1h-1zM124 409h1v1h-1zM91 426h1v1h-1zM98 412h1v1h-1zM103 463h1v1h-1zM66 445h1v1h-1zM124 417h1v1h-1zM120 458h1v1h-1zM119 458h1v1h-1zM82 429h1v1h-1zM113 407h1v1h-1zM121 430h1v1h-1zM72 454h1v1h-1zM123 440h1v1h-1zM60 463h1v1h-1zM71 453h1v1h-1zM120 454h1v1h-1zM133 416h1v1h-1zM80 431h1v1h-1zM119 454h1v1h-1zM79 462h1v1h-1zM86 427h1v1h-1zM105 405h1v1h-1zM68 455h1v1h-1zM97 423h1v1h-1zM91 427h1v1h-1zM117 403h1v1h-1zM106 408h1v1h-1zM111 463h1v1h-1zM88 416h1v1h-1zM73 450h1v1h-1zM97 418h1v1h-1zM124 418h1v1h-1zM123 431h1v1h-1zM75 439h1v1h-1zM99 416h1v1h-1zM89 426h1v1h-1zM118 410h1v1h-1zM113 410h1v1h-1zM123 412h1v1h-1zM90 423h1v1h-1zM121 412h1v1h-1zM68 419h1v1h-1zM79 436h1v1h-1zM79 432h1v1h-1zM120 435h1v1h-1zM102 414h1v1h-1zM100 422h1v1h-1zM75 462h1v1h-1zM115 408h1v1h-1zM128 445h1v1h-1zM71 456h1v1h-1zM63 427h1v1h-1zM94 415h1v1h-1zM121 451h1v1h-1zM119 459h1v1h-1zM78 419h1v1h-1zM130 425h1v1h-1zM107 463h1v1h-1zM78 408h1v1h-1zM107 409h1v1h-1zM123 429h1v1h-1zM85 426h1v1h-1zM68 447h1v1h-1zM122 412h1v1h-1zM56 457h1v1h-1zM113 411h1v1h-1zM95 425h1v1h-1zM127 418h1v1h-1zM118 459h1v1h-1zM104 407h1v1h-1zM78 411h1v1h-1zM123 394h1v1h-1zM102 407h1v1h-1zM123 418h1v1h-1zM120 411h1v1h-1zM103 413h1v1h-1zM106 463h1v1h-1zM106 410h1v1h-1zM119 451h1v1h-1zM78 440h1v1h-1zM94 406h1v1h-1zM62 452h1v1h-1zM107 414h1v1h-1zM106 414h1v1h-1zM92 425h1v1h-1zM127 425h1v1h-1zM126 417h1v1h-1zM70 421h1v1h-1zM97 421h1v1h-1zM122 410h1v1h-1zM80 431h1v1h-1zM104 407h1v1h-1zM78 422h1v1h-1zM100 422h1v1h-1zM90 415h1v1h-1zM125 428h1v1h-1zM76 463h1v1h-1zM128 413h1v1h-1zM98 422h1v1h-1zM120 446h1v1h-1zM125 430h1v1h-1zM124 413h1v1h-1zM123 419h1v1h-1zM120 443h1v1h-1zM131 425h1v1h-1zM114 407h1v1h-1zM125 448h1v1h-1zM83 427h1v1h-1zM122 411h1v1h-1zM104 400h1v1h-1zM99 409h1v1h-1zM84 428h1v1h-1zM130 415h1v1h-1zM121 411h1v1h-1z"/>
<path fill="#2232b8" fill-opacity="0.8" d="M127 414h1v1h-1zM95 412h1v1h-1zM116 405h1v1h-1zM128 409h1v1h-1zM69 443h1v1h-1zM73 460h1v1h-1zM74 462h1v1h-1zM68 453h1v1h-1zM104 416h1v1h-1zM107 398h1v1h-1zM94 423h1v1h-1zM119 411h1v1h-1zM121 438h1v1h-1zM132 413h1v1h-1zM71 451h1v1h-1zM127 413h1v1h-1zM120 411h1v1h-1zM126 427h1v1h-1zM90 428h1v1h-1zM98 420h1v1h-1zM80 408h1v1h-1zM120 461h1v1h-1zM125 427h1v1h-1zM100 416h1v1h-1zM60 463h1v1h-1zM97 409h1v1h-1zM84 432h1v1h-1zM111 463h1v1h-1zM70 432h1v1h-1zM85 416h1v1h-1zM121 460h1v1h-1zM119 460h1v1h-1zM88 409h1v1h-1zM126 426h1v1h-1zM109 406h1v1h-1zM107 409h1v1h-1zM85 463h1v1h-1zM123 403h1v1h-1zM109 409h1v1h-1zM127 417h1v1h-1zM96 407h1v1h-1zM119 445h1v1h-1zM110 463h1v1h-1zM103 419h1v1h-1zM96 407h1v1h-1zM121 455h1v1h-1zM118 457h1v1h-1zM105 410h1v1h-1zM85 424h1v1h-1zM67 427h1v1h-1zM80 430h1v1h-1zM76 441h1v1h-1zM117 458h1v1h-1zM99 463h1v1h-1zM133 422h1v1h-1zM92 423h1v1h-1zM85 413h1v1h-1zM78 439h1v1h-1zM84 427h1v1h-1zM105 407h1v1h-1zM121 452h1v1h-1zM124 426h1v1h-1zM125 410h1v1h-1zM76 430h1v1h-1zM121 442h1v1h-1zM122 431h1v1h-1zM103 414h1v1h-1zM131 412h1v1h-1zM65 436h1v1h-1zM109 400h1v1h-1zM58 463h1v1h-1zM108 412h1v1h-1zM76 438h1v1h-1zM122 447h1v1h-1zM123 416h1v1h-1zM80 432h1v1h-1zM97 423h1v1h-1zM127 410h1v1h-1zM59 434h1v1h-1zM122 413h1v1h-1zM125 415h1v1h-1zM118 452h1v1h-1zM130 428h1v1h-1zM106 410h1v1h-1zM69 462h1v1h-1zM72 459h1v1h-1zM81 431h1v1h-1zM104 412h1v1h-1zM125 415h1v1h-1zM102 416h1v1h-1zM74 447h1v1h-1zM130 400h1v1h-1zM91 414h1v1h-1zM77 461h1v1h-1zM116 402h1v1h-1zM94 405h1v1h-1zM125 414h1v1h-1zM127 443h1v1h-1zM75 436h1v1h-1zM74 451h1v1h-1zM79 429h1v1h-1zM118 458h1v1h-1zM76 443h1v1h-1zM122 411h1v1h-1zM110 403h1v1h-1zM76 446h1v1h-1zM110 396h1v1h-1zM118 409h1v1h-1zM73 454h1v1h-1zM118 453h1v1h-1zM123 454h1v1h-1zM123 417h1v1h-1zM72 419h1v1h-1zM113 462h1v1h-1zM96 424h1v1h-1zM83 433h1v1h-1zM111 411h1v1h-1zM115 406h1v1h-1zM126 423h1v1h-1zM117 408h1v1h-1zM123 432h1v1h-1zM127 423h1v1h-1zM80 427h1v1h-1zM122 410h1v1h-1zM73 460h1v1h-1zM120 411h1v1h-1zM133 406h1v1h-1zM71 442h1v1h-1zM79 412h1v1h-1zM79 463h1v1h-1zM109 406h1v1h-1zM76 462h1v1h-1zM72 463h1v1h-1zM104 413h1v1h-1zM76 430h1v1h-1zM118 463h1v1h-1zM121 436h1v1h-1zM120 449h1v1h-1zM94 415h1v1h-1zM77 438h1v1h-1zM118 408h1v1h-1zM118 409h1v1h-1zM72 460h1v1h-1zM126 430h1v1h-1zM83 430h1v1h-1zM116 401h1v1h-1zM122 451h1v1h-1zM101 414h1v1h-1zM107 410h1v1h-1zM120 404h1v1h-1zM111 408h1v1h-1zM115 391h1v1h-1zM71 462h1v1h-1zM76 446h1v1h-1zM124 418h1v1h-1zM87 426h1v1h-1zM81 431h1v1h-1zM120 398h1v1h-1zM123 397h1v1h-1zM127 425h1v1h-1zM80 436h1v1h-1zM93 423h1v1h-1zM119 461h1v1h-1zM126 412h1v1h-1zM75 443h1v1h-1zM124 419h1v1h-1zM122 421h1v1h-1zM76 445h1v1h-1zM122 424h1v1h-1zM77 440h1v1h-1zM120 409h1v1h-1zM115 461h1v1h-1zM72 448h1v1h-1zM112 463h1v1h-1zM80 429h1v1h-1zM111 463h1v1h-1zM75 460h1v1h-1zM94 419h1v1h-1zM130 414h1v1h-1zM106 414h1v1h-1z"/>
<path fill="#2232b8" fill-opacity="1.0" d="M99 415h1v1h-1zM121 453h1v1h-1zM70 460h1v1h-1zM123 422h1v1h-1zM81 431h1v1h-1zM111 409h1v1h-1zM104 405h1v1h-1zM120 448h1v1h-1zM120 439h1v1h-1zM122 408h1v1h-1zM127 446h1v1h-1zM84 427h1v1h-1zM132 418h1v1h-1zM105 409h1v1h-1zM120 408h1v1h-1zM74 445h1v1h-1zM82 434h1v1h-1zM122 428h1v1h-1zM122 452h1v1h-1zM122 440h1v1h-1zM77 462h1v1h-1zM77 438h1v1h-1zM100 407h1v1h-1zM117 401h1v1h-1zM121 445h1v1h-1zM89 420h1v1h-1zM78 422h1v1h-1zM123 430h1v1h-1zM93 419h1v1h-1zM72 459h1v1h-1zM120 439h1v1h-1zM118 453h1v1h-1zM82 435h1v1h-1zM70 442h1v1h-1zM121 458h1v1h-1zM122 429h1v1h-1zM124 422h1v1h-1zM116 411h1v1h-1zM118 463h1v1h-1zM75 456h1v1h-1zM64 430h1v1h-1zM120 440h1v1h-1zM85 413h1v1h-1zM76 462h1v1h-1zM101 411h1v1h-1zM124 430h1v1h-1zM81 422h1v1h-1zM124 413h1v1h-1zM123 449h1v1h-1zM88 429h1v1h-1zM122 397h1v1h-1zM82 431h1v1h-1zM122 430h1v1h-1zM103 414h1v1h-1zM128 410h1v1h-1zM123 414h1v1h-1zM123 418h1v1h-1zM112 403h1v1h-1zM125 414h1v1h-1zM118 456h1v1h-1zM93 403h1v1h-1zM123 413h1v1h-1zM91 399h1v1h-1zM111 410h1v1h-1zM117 405h1v1h-1zM77 463h1v1h-1zM101 406h1v1h-1zM68 422h1v1h-1zM90 426h1v1h-1zM122 400h1v1h-1zM127 412h1v1h-1zM127 425h1v1h-1zM112 411h1v1h-1zM96 424h1v1h-1zM80 431h1v1h-1zM108 394h1v1h-1zM112 408h1v1h-1zM111 411h1v1h-1zM65 455h1v1h-1zM105 416h1v1h-1zM123 411h1v1h-1zM121 457h1v1h-1zM126 414h1v1h-1zM130 416h1v1h-1zM125 431h1v1h-1zM128 414h1v1h-1zM118 408h1v1h-1zM91 425h1v1h-1zM71 433h1v1h-1zM111 411h1v1h-1zM122 405h1v1h-1zM68 451h1v1h-1zM125 436h1v1h-1zM72 458h1v1h-1zM72 422h1v1h-1zM102 463h1v1h-1zM72 421h1v1h-1zM75 446h1v1h-1zM119 454h1v1h-1zM86 430h1v1h-1zM119 442h1v1h-1zM74 455h1v1h-1zM122 456h1v1h-1zM97 402h1v1h-1zM121 412h1v1h-1zM124 419h1v1h-1zM76 447h1v1h-1zM127 422h1v1h-1zM82 463h1v1h-1zM82 434h1v1h-1zM90 397h1v1h-1zM125 416h1v1h-1zM81 428h1v1h-1zM72 458h1v1h-1zM128 425h1v1h-1zM73 449h1v1h-1zM103 463h1v1h-1zM123 426h1v1h-1zM127 409h1v1h-1zM124 410h1v1h-1zM126 435h1v1h-1zM123 421h1v1h-1zM87 427h1v1h-1zM121 443h1v1h-1zM106 395h1v1h-1zM116 410h1v1h-1zM98 421h1v1h-1zM108 413h1v1h-1zM127 443h1v1h-1zM72 450h1v1h-1zM85 463h1v1h-1zM120 458h1v1h-1zM68 454h1v1h-1zM85 425h1v1h-1zM123 411h1v1h-1zM81 427h1v1h-1zM90 408h1v1h-1zM90 424h1v1h-1zM117 411h1v1h-1zM124 421h1v1h-1zM126 446h1v1h-1zM59 458h1v1h-1zM67 463h1v1h-1zM58 452h1v1h-1zM81 431h1v1h-1zM106 413h1v1h-1zM92 463h1v1h-1zM110 410h1v1h-1zM122 434h1v1h-1zM75 458h1v1h-1zM69 444h1v1h-1zM93 426h1v1h-1zM79 463h1v1h-1zM124 434h1v1h-1zM59 451h1v1h-1zM122 397h1v1h-1zM67 445h1v1h-1zM70 445h1v1h-1zM80 431h1v1h-1zM123 443h1v1h-1zM132 415h1v1h-1zM67 444h1v1h-1zM106 407h1v1h-1zM108 410h1v1h-1zM118 449h1v1h-1zM78 437h1v1h-1zM72 456h1v1h-1zM123 432h1v1h-1zM61 435h1v1h-1zM123 436h1v1h-1zM75 444h1v1h-1zM113 404h1v1h-1zM76 462h1v1h-1zM94 411h1v1h-1zM105 400h1v1h-1zM110 462h1v1h-1zM73 455h1v1h-1z"/>
<g filter="url(#fnoise)"><path d="M76.20,461.30 C75.61,460.17 75.07,455.13 75.20,453.10 C75.33,451.07 76.58,445.80 77.30,443.90 C78.02,442.00 80.21,438.34 81.40,436.80 C82.59,435.26 85.96,431.89 87.50,430.70 C89.04,429.51 92.93,427.56 94.60,426.60 C96.27,425.64 100.48,423.69 101.80,422.50 C103.12,421.31 104.94,417.59 105.90,416.40 C106.86,415.21 108.81,412.91 110.00,412.30 C111.19,411.69 114.79,411.20 116.10,411.20 C117.41,411.20 120.30,411.82 121.20,412.30 C122.10,412.78 123.68,413.76 123.80,415.30 C123.92,416.84 122.62,423.11 122.20,425.50 C121.78,427.89 120.62,433.41 120.20,435.80 C119.78,438.19 118.84,443.62 118.60,446.00 C118.35,448.38 118.39,454.41 118.10,456.20 C117.81,457.99 117.52,460.53 116.10,461.30 C114.68,462.07 108.89,462.56 105.90,462.80 C102.91,463.05 93.49,463.40 90.50,463.40 C87.51,463.40 81.97,463.05 80.30,462.80 C78.63,462.56 76.80,462.43 76.20,461.30Z" fill="#0a1eff"/></g>
<g filter="url(#fnoise2)"><path d="M82.40,448.00 C83.00,446.68 84.09,444.09 85.40,442.90 C86.71,441.71 91.69,438.87 93.60,437.80 C95.51,436.73 100.13,434.66 101.80,433.70 C103.47,432.74 106.71,430.79 107.90,429.60 C109.09,428.41 111.16,424.33 112.00,423.50 C112.84,422.67 114.62,421.66 115.10,422.50 C115.58,423.34 115.98,428.32 116.10,430.70 C116.22,433.08 116.22,440.04 116.10,442.90 C115.98,445.76 115.69,453.17 115.10,455.20 C114.50,457.23 112.67,459.59 111.00,460.30 C109.33,461.01 103.42,461.12 100.80,461.30 C98.17,461.48 90.65,461.92 88.50,461.80 C86.35,461.68 83.36,461.19 82.40,460.30 C81.44,459.41 80.30,455.63 80.30,454.20 C80.30,452.76 81.81,449.32 82.40,448.00Z" fill="#1ee6f0"/><path d="M83.40,447.00 C84.11,445.56 87.19,443.61 88.50,442.90 C89.81,442.19 93.29,441.25 94.60,440.90 C95.91,440.55 98.38,440.38 99.70,439.90 C101.02,439.42 104.70,437.52 105.90,436.80 C107.10,436.08 109.04,433.94 110.00,433.70 C110.96,433.45 113.62,433.63 114.10,434.70 C114.58,435.77 114.34,440.62 114.10,442.90 C113.85,445.17 112.72,452.29 112.00,454.20 C111.28,456.11 109.80,458.47 107.90,459.30 C106.00,460.13 98.33,461.07 95.70,461.30 C93.08,461.53 86.95,462.01 85.40,461.30 C83.85,460.59 82.63,456.87 82.40,455.20 C82.17,453.53 82.69,448.44 83.40,447.00Z" fill="#3cf53c"/><path d="M85.40,448.00 C86.23,447.04 88.95,446.23 90.50,446.00 C92.05,445.77 96.90,445.65 98.70,446.00 C100.50,446.35 104.83,447.93 105.90,449.00 C106.97,450.07 108.15,453.88 107.90,455.20 C107.66,456.52 105.83,459.59 103.80,460.30 C101.77,461.01 92.65,461.30 90.50,461.30 C88.35,461.30 86.23,461.13 85.40,460.30 C84.57,459.47 83.40,455.63 83.40,454.20 C83.40,452.76 84.57,448.96 85.40,448.00Z" fill="#f5f51e"/><path d="M86.50,451.10 C87.15,450.38 90.29,449.12 91.60,449.00 C92.91,448.88 96.39,449.86 97.70,450.10 C99.01,450.35 102.09,450.51 102.80,451.10 C103.51,451.69 103.92,454.24 103.80,455.20 C103.68,456.16 103.35,458.70 101.80,459.30 C100.25,459.90 92.23,460.30 90.50,460.30 C88.77,460.30 87.53,459.90 87.00,459.30 C86.47,458.70 86.06,456.16 86.00,455.20 C85.94,454.24 85.85,451.82 86.50,451.10Z" fill="#ff8c0a"/></g>
<g fill="#1a28d8"><rect x="57" y="453" width="1" height="1"/><rect x="56" y="450" width="1" height="1"/><rect x="55" y="450" width="1" height="1"/><rect x="57" y="457" width="1" height="1"/><rect x="58" y="455" width="1" height="1"/><rect x="55" y="455" width="1" height="1"/><rect x="56" y="456" width="1" height="1"/><rect x="57" y="455" width="1" height="1"/><rect x="56" y="456" width="1" height="1"/><rect x="56" y="462" width="1" height="1"/><rect x="55" y="454" width="1" height="1"/><rect x="55" y="455" width="1" height="1"/><rect x="55" y="455" width="1" height="1"/><rect x="59" y="456" width="1" height="1"/><rect x="55" y="458" width="1" height="1"/><rect x="59" y="455" width="1" height="1"/><rect x="56" y="462" width="1" height="1"/><rect x="58" y="455" width="1" height="1"/><rect x="56" y="462" width="1" height="1"/><rect x="57" y="450" width="1" height="1"/><rect x="56" y="455" width="1" height="1"/><rect x="55" y="457" width="1" height="1"/><rect x="55" y="457" width="1" height="1"/><rect x="56" y="459" width="1" height="1"/><rect x="58" y="456" width="1" height="1"/><rect x="56" y="458" width="1" height="1"/><rect x="56" y="453" width="1" height="1"/><rect x="56" y="459" width="1" height="1"/><rect x="55" y="455" width="1" height="1"/><rect x="55" y="456" width="1" height="1"/><rect x="55" y="451" width="1" height="1"/><rect x="58" y="457" width="1" height="1"/><rect x="57" y="459" width="1" height="1"/><rect x="55" y="456" width="1" height="1"/><rect x="57" y="462" width="1" height="1"/><rect x="56" y="460" width="1" height="1"/><rect x="59" y="453" width="1" height="1"/><rect x="56" y="458" width="1" height="1"/><rect x="58" y="455" width="1" height="1"/><rect x="57" y="459" width="1" height="1"/></g>
<line x1="54.60" y1="489.20" x2="54.60" y2="383.38" stroke="#6d6e71" stroke-width="0.8"/>
<line x1="50.60" y1="489.20" x2="54.60" y2="489.20" stroke="#6d6e71" stroke-width="0.8"/>
<text x="46.20" y="492.87" font-size="8.3" text-anchor="end" textLength="5.00" lengthAdjust="spacingAndGlyphs">0</text>
<line x1="50.60" y1="472.92" x2="54.60" y2="472.92" stroke="#6d6e71" stroke-width="0.8"/>
<text x="46.20" y="476.59" font-size="8.3" text-anchor="end" textLength="10.10" lengthAdjust="spacingAndGlyphs">10</text>
<line x1="50.60" y1="456.64" x2="54.60" y2="456.64" stroke="#6d6e71" stroke-width="0.8"/>
<text x="46.20" y="460.31" font-size="8.3" text-anchor="end" textLength="10.10" lengthAdjust="spacingAndGlyphs">20</text>
<line x1="50.60" y1="440.36" x2="54.60" y2="440.36" stroke="#6d6e71" stroke-width="0.8"/>
<text x="46.20" y="444.03" font-size="8.3" text-anchor="end" textLength="10.10" lengthAdjust="spacingAndGlyphs">30</text>
<line x1="50.60" y1="424.08" x2="54.60" y2="424.08" stroke="#6d6e71" stroke-width="0.8"/>
<text x="46.20" y="427.75" font-size="8.3" text-anchor="end" textLength="10.10" lengthAdjust="spacingAndGlyphs">40</text>
<line x1="50.60" y1="407.80" x2="54.60" y2="407.80" stroke="#6d6e71" stroke-width="0.8"/>
<text x="46.20" y="411.47" font-size="8.3" text-anchor="end" textLength="10.10" lengthAdjust="spacingAndGlyphs">50</text>
<line x1="50.60" y1="391.52" x2="54.60" y2="391.52" stroke="#6d6e71" stroke-width="0.8"/>
<text x="46.20" y="395.19" font-size="8.3" text-anchor="end" textLength="10.10" lengthAdjust="spacingAndGlyphs">60</text>
<line x1="54.60" y1="489.20" x2="166.40" y2="489.20" stroke="#6d6e71" stroke-width="0.8"/>
<line x1="54.60" y1="489.20" x2="54.60" y2="492.20" stroke="#6d6e71" stroke-width="0.9"/>
<text x="53.80" y="502.68" font-size="8.6" text-anchor="middle" textLength="9.70" lengthAdjust="spacingAndGlyphs">10</text>
<text x="58.90" y="499.55" font-size="6.0" textLength="3.10" lengthAdjust="spacingAndGlyphs">0</text>
<line x1="63.01" y1="489.20" x2="63.01" y2="491.20" stroke="#6d6e71" stroke-width="0.7"/>
<line x1="67.94" y1="489.20" x2="67.94" y2="491.20" stroke="#6d6e71" stroke-width="0.7"/>
<line x1="71.43" y1="489.20" x2="71.43" y2="491.20" stroke="#6d6e71" stroke-width="0.7"/>
<line x1="74.14" y1="489.20" x2="74.14" y2="491.20" stroke="#6d6e71" stroke-width="0.7"/>
<line x1="76.35" y1="489.20" x2="76.35" y2="491.20" stroke="#6d6e71" stroke-width="0.7"/>
<line x1="78.22" y1="489.20" x2="78.22" y2="491.20" stroke="#6d6e71" stroke-width="0.7"/>
<line x1="79.84" y1="489.20" x2="79.84" y2="491.20" stroke="#6d6e71" stroke-width="0.7"/>
<line x1="81.27" y1="489.20" x2="81.27" y2="491.20" stroke="#6d6e71" stroke-width="0.7"/>
<line x1="82.55" y1="489.20" x2="82.55" y2="492.20" stroke="#6d6e71" stroke-width="0.9"/>
<text x="81.75" y="502.68" font-size="8.6" text-anchor="middle" textLength="9.70" lengthAdjust="spacingAndGlyphs">10</text>
<text x="86.85" y="499.55" font-size="6.0" textLength="3.10" lengthAdjust="spacingAndGlyphs">1</text>
<line x1="90.96" y1="489.20" x2="90.96" y2="491.20" stroke="#6d6e71" stroke-width="0.7"/>
<line x1="95.89" y1="489.20" x2="95.89" y2="491.20" stroke="#6d6e71" stroke-width="0.7"/>
<line x1="99.38" y1="489.20" x2="99.38" y2="491.20" stroke="#6d6e71" stroke-width="0.7"/>
<line x1="102.09" y1="489.20" x2="102.09" y2="491.20" stroke="#6d6e71" stroke-width="0.7"/>
<line x1="104.30" y1="489.20" x2="104.30" y2="491.20" stroke="#6d6e71" stroke-width="0.7"/>
<line x1="106.17" y1="489.20" x2="106.17" y2="491.20" stroke="#6d6e71" stroke-width="0.7"/>
<line x1="107.79" y1="489.20" x2="107.79" y2="491.20" stroke="#6d6e71" stroke-width="0.7"/>
<line x1="109.22" y1="489.20" x2="109.22" y2="491.20" stroke="#6d6e71" stroke-width="0.7"/>
<line x1="110.50" y1="489.20" x2="110.50" y2="492.20" stroke="#6d6e71" stroke-width="0.9"/>
<text x="109.70" y="502.68" font-size="8.6" text-anchor="middle" textLength="9.70" lengthAdjust="spacingAndGlyphs">10</text>
<text x="114.80" y="499.55" font-size="6.0" textLength="3.10" lengthAdjust="spacingAndGlyphs">2</text>
<line x1="118.91" y1="489.20" x2="118.91" y2="491.20" stroke="#6d6e71" stroke-width="0.7"/>
<line x1="123.84" y1="489.20" x2="123.84" y2="491.20" stroke="#6d6e71" stroke-width="0.7"/>
<line x1="127.33" y1="489.20" x2="127.33" y2="491.20" stroke="#6d6e71" stroke-width="0.7"/>
<line x1="130.04" y1="489.20" x2="130.04" y2="491.20" stroke="#6d6e71" stroke-width="0.7"/>
<line x1="132.25" y1="489.20" x2="132.25" y2="491.20" stroke="#6d6e71" stroke-width="0.7"/>
<line x1="134.12" y1="489.20" x2="134.12" y2="491.20" stroke="#6d6e71" stroke-width="0.7"/>
<line x1="135.74" y1="489.20" x2="135.74" y2="491.20" stroke="#6d6e71" stroke-width="0.7"/>
<line x1="137.17" y1="489.20" x2="137.17" y2="491.20" stroke="#6d6e71" stroke-width="0.7"/>
<line x1="138.45" y1="489.20" x2="138.45" y2="492.20" stroke="#6d6e71" stroke-width="0.9"/>
<text x="137.65" y="502.68" font-size="8.6" text-anchor="middle" textLength="9.70" lengthAdjust="spacingAndGlyphs">10</text>
<text x="142.75" y="499.55" font-size="6.0" textLength="3.10" lengthAdjust="spacingAndGlyphs">3</text>
<line x1="146.86" y1="489.20" x2="146.86" y2="491.20" stroke="#6d6e71" stroke-width="0.7"/>
<line x1="151.79" y1="489.20" x2="151.79" y2="491.20" stroke="#6d6e71" stroke-width="0.7"/>
<line x1="155.28" y1="489.20" x2="155.28" y2="491.20" stroke="#6d6e71" stroke-width="0.7"/>
<line x1="157.99" y1="489.20" x2="157.99" y2="491.20" stroke="#6d6e71" stroke-width="0.7"/>
<line x1="160.20" y1="489.20" x2="160.20" y2="491.20" stroke="#6d6e71" stroke-width="0.7"/>
<line x1="162.07" y1="489.20" x2="162.07" y2="491.20" stroke="#6d6e71" stroke-width="0.7"/>
<line x1="163.69" y1="489.20" x2="163.69" y2="491.20" stroke="#6d6e71" stroke-width="0.7"/>
<line x1="165.12" y1="489.20" x2="165.12" y2="491.20" stroke="#6d6e71" stroke-width="0.7"/>
<line x1="166.40" y1="489.20" x2="166.40" y2="492.20" stroke="#6d6e71" stroke-width="0.9"/>
<text x="165.60" y="502.68" font-size="8.6" text-anchor="middle" textLength="9.70" lengthAdjust="spacingAndGlyphs">10</text>
<text x="170.70" y="499.55" font-size="6.0" textLength="3.10" lengthAdjust="spacingAndGlyphs">4</text>
<text x="110.20" y="516.84" font-size="9.6" text-anchor="middle" textLength="86.00" lengthAdjust="spacingAndGlyphs">*[488] 530/40-GFP</text>
<line x1="89.60" y1="383.40" x2="89.60" y2="489.20" stroke="#2f2fff" stroke-width="1.1"/>
<polyline points="101.40,489.20 101.40,384.10 103.60,384.10 103.60,489.20" fill="none" stroke="#9a5cc6" stroke-width="0.9"/>
<line x1="116.20" y1="489.20" x2="118.40" y2="388.00" stroke="#d47a5c" stroke-width="0.9"/>
<line x1="126.00" y1="383.30" x2="167.00" y2="383.30" stroke="#d47a5c" stroke-width="0.9"/>
<text x="149.30" y="379.01" font-size="9.8" text-anchor="middle" textLength="53.40" lengthAdjust="spacingAndGlyphs">Distal colon</text>
<text x="55.60" y="391.75" font-size="8.8" textLength="14.80" lengthAdjust="spacingAndGlyphs">GFP</text>
<text x="70.60" y="388.22" font-size="6.2" textLength="9.60" lengthAdjust="spacingAndGlyphs">neg</text>
<text x="101.30" y="391.75" font-size="8.8" textLength="14.80" lengthAdjust="spacingAndGlyphs">GFP</text>
<text x="116.30" y="388.22" font-size="6.2" textLength="8.40" lengthAdjust="spacingAndGlyphs">mid</text>
<text x="127.60" y="418.55" font-size="8.8" textLength="14.80" lengthAdjust="spacingAndGlyphs">GFP</text>
<text x="142.60" y="415.02" font-size="6.2" textLength="11.60" lengthAdjust="spacingAndGlyphs">high</text>
<text transform="translate(29.72,435.10) rotate(-90)" font-size="10.4" text-anchor="middle" textLength="19.40" lengthAdjust="spacingAndGlyphs">FSC</text>
<text transform="translate(241.40,10.80) scale(1.015,1)" font-size="13.4" font-weight="bold" fill="#000" stroke="#000" stroke-width="0.25">b</text>
<rect x="282.60" y="134.26" width="15.20" height="7.94" fill="#fff" stroke="#545454" stroke-width="0.8"/>
<rect x="307.40" y="46.65" width="15.80" height="95.55" fill="#9a9a9a" stroke="#545454" stroke-width="0.8"/>
<line x1="290.20" y1="134.26" x2="290.20" y2="131.47" stroke="#231f20" stroke-width="0.8"/>
<line x1="285.80" y1="134.26" x2="294.60" y2="134.26" stroke="#231f20" stroke-width="0.8"/>
<line x1="285.80" y1="131.47" x2="294.60" y2="131.47" stroke="#231f20" stroke-width="0.8"/>
<line x1="315.30" y1="54.59" x2="315.30" y2="37.83" stroke="#231f20" stroke-width="0.8"/>
<line x1="310.90" y1="54.59" x2="319.70" y2="54.59" stroke="#231f20" stroke-width="0.8"/>
<line x1="310.90" y1="37.83" x2="319.70" y2="37.83" stroke="#231f20" stroke-width="0.8"/>
<line x1="273.60" y1="142.60" x2="273.60" y2="24.60" stroke="#58595b" stroke-width="0.8"/>
<line x1="269.60" y1="142.20" x2="273.60" y2="142.20" stroke="#58595b" stroke-width="0.8"/>
<text x="266.20" y="145.97" font-size="9.4" text-anchor="end">0</text>
<line x1="269.60" y1="112.80" x2="273.60" y2="112.80" stroke="#58595b" stroke-width="0.8"/>
<text x="266.20" y="116.57" font-size="9.4" text-anchor="end">1</text>
<line x1="269.60" y1="83.40" x2="273.60" y2="83.40" stroke="#58595b" stroke-width="0.8"/>
<text x="266.20" y="87.17" font-size="9.4" text-anchor="end">2</text>
<line x1="269.60" y1="54.00" x2="273.60" y2="54.00" stroke="#58595b" stroke-width="0.8"/>
<text x="266.20" y="57.77" font-size="9.4" text-anchor="end">3</text>
<line x1="269.60" y1="24.60" x2="273.60" y2="24.60" stroke="#58595b" stroke-width="0.8"/>
<text x="266.20" y="28.37" font-size="9.4" text-anchor="end">4</text>
<line x1="273.60" y1="142.20" x2="334.30" y2="142.20" stroke="#58595b" stroke-width="0.8"/>
<line x1="290.10" y1="142.20" x2="290.10" y2="145.40" stroke="#58595b" stroke-width="0.8"/>
<line x1="315.40" y1="142.20" x2="315.40" y2="145.40" stroke="#58595b" stroke-width="0.8"/>
<text x="290.10" y="156.01" font-size="8.4" text-anchor="middle" textLength="18.00" lengthAdjust="spacingAndGlyphs">GFP<tspan font-size="5.71" dy="-3.02">−</tspan></text>
<text x="315.40" y="156.01" font-size="8.4" text-anchor="middle" textLength="18.00" lengthAdjust="spacingAndGlyphs">GFP<tspan font-size="5.71" dy="-3.02">+</tspan></text>
<circle cx="283.10" cy="134.40" r="1.70" fill="#000"/>
<circle cx="290.10" cy="131.80" r="1.70" fill="#000"/>
<circle cx="297.20" cy="133.10" r="1.70" fill="#000"/>
<circle cx="312.30" cy="40.70" r="1.70" fill="#000"/>
<circle cx="318.50" cy="42.10" r="1.70" fill="#000"/>
<circle cx="315.20" cy="55.30" r="1.70" fill="#000"/>
<polyline points="290.20,125.70 290.20,26.50 315.40,26.50 315.40,32.60" fill="none" stroke="#58595b" stroke-width="0.8"/>
<text x="302.60" y="23.54" font-size="8.5" text-anchor="middle" textLength="40.60" lengthAdjust="spacingAndGlyphs"><tspan font-style="italic">P</tspan> = 0.0020</text>
<text transform="translate(254.08,83.00) rotate(-90)" font-size="10.0" text-anchor="middle" textLength="109.50" lengthAdjust="spacingAndGlyphs">Outgrowth efficiency (%)</text>
<rect x="282.60" y="291.50" width="15.60" height="14.00" fill="#fff" stroke="#545454" stroke-width="0.8"/>
<rect x="308.40" y="227.50" width="16.20" height="78.00" fill="#9a9a9a" stroke="#545454" stroke-width="0.8"/>
<line x1="290.50" y1="300.50" x2="290.50" y2="281.50" stroke="#231f20" stroke-width="0.8"/>
<line x1="286.10" y1="300.50" x2="294.90" y2="300.50" stroke="#231f20" stroke-width="0.8"/>
<line x1="286.10" y1="281.50" x2="294.90" y2="281.50" stroke="#231f20" stroke-width="0.8"/>
<line x1="316.60" y1="248.50" x2="316.60" y2="205.50" stroke="#231f20" stroke-width="0.8"/>
<line x1="312.20" y1="248.50" x2="321.00" y2="248.50" stroke="#231f20" stroke-width="0.8"/>
<line x1="312.20" y1="205.50" x2="321.00" y2="205.50" stroke="#231f20" stroke-width="0.8"/>
<line x1="273.60" y1="305.90" x2="273.60" y2="185.50" stroke="#58595b" stroke-width="0.8"/>
<line x1="269.60" y1="305.50" x2="273.60" y2="305.50" stroke="#58595b" stroke-width="0.8"/>
<text x="266.20" y="309.27" font-size="9.4" text-anchor="end">0</text>
<line x1="269.60" y1="265.50" x2="273.60" y2="265.50" stroke="#58595b" stroke-width="0.8"/>
<text x="266.20" y="269.27" font-size="9.4" text-anchor="end">2</text>
<line x1="269.60" y1="225.50" x2="273.60" y2="225.50" stroke="#58595b" stroke-width="0.8"/>
<text x="266.20" y="229.27" font-size="9.4" text-anchor="end">4</text>
<line x1="269.60" y1="185.50" x2="273.60" y2="185.50" stroke="#58595b" stroke-width="0.8"/>
<text x="266.20" y="189.27" font-size="9.4" text-anchor="end">6</text>
<line x1="273.60" y1="305.50" x2="334.00" y2="305.50" stroke="#58595b" stroke-width="0.8"/>
<line x1="290.50" y1="305.50" x2="290.50" y2="308.70" stroke="#58595b" stroke-width="0.8"/>
<line x1="316.60" y1="305.50" x2="316.60" y2="308.70" stroke="#58595b" stroke-width="0.8"/>
<text x="290.50" y="319.91" font-size="8.4" text-anchor="middle" textLength="18.00" lengthAdjust="spacingAndGlyphs">GFP<tspan font-size="5.71" dy="-3.02">−</tspan></text>
<text x="316.60" y="319.91" font-size="8.4" text-anchor="middle" textLength="18.00" lengthAdjust="spacingAndGlyphs">GFP<tspan font-size="5.71" dy="-3.02">+</tspan></text>
<circle cx="283.30" cy="279.70" r="1.70" fill="#000"/>
<circle cx="290.50" cy="281.60" r="1.70" fill="#000"/>
<circle cx="290.50" cy="296.10" r="1.70" fill="#000"/>
<circle cx="283.30" cy="299.00" r="1.70" fill="#000"/>
<circle cx="297.60" cy="299.00" r="1.70" fill="#000"/>
<circle cx="313.30" cy="202.40" r="1.70" fill="#000"/>
<circle cx="319.10" cy="204.40" r="1.70" fill="#000"/>
<circle cx="316.20" cy="236.50" r="1.70" fill="#000"/>
<circle cx="313.00" cy="244.40" r="1.70" fill="#000"/>
<circle cx="319.70" cy="243.80" r="1.70" fill="#000"/>
<polyline points="290.50,273.60 290.50,190.40 316.60,190.40 316.60,196.20" fill="none" stroke="#58595b" stroke-width="0.8"/>
<text x="303.60" y="187.94" font-size="8.5" text-anchor="middle" textLength="40.60" lengthAdjust="spacingAndGlyphs"><tspan font-style="italic">P</tspan> = 0.0003</text>
<text transform="translate(253.38,243.80) rotate(-90)" font-size="10.0" text-anchor="middle" textLength="109.50" lengthAdjust="spacingAndGlyphs">Outgrowth efficiency (%)</text>
<text transform="translate(240.90,343.80) scale(1.013,1)" font-size="13.4" font-weight="bold" fill="#000" stroke="#000" stroke-width="0.25">e</text>
<rect x="282.60" y="484.08" width="16.70" height="4.32" fill="#fff" stroke="#545454" stroke-width="0.8"/>
<rect x="309.50" y="419.91" width="16.00" height="68.49" fill="#9a9a9a" stroke="#545454" stroke-width="0.8"/>
<line x1="290.60" y1="488.40" x2="290.60" y2="479.64" stroke="#231f20" stroke-width="0.8"/>
<line x1="286.00" y1="488.40" x2="295.20" y2="488.40" stroke="#231f20" stroke-width="0.8"/>
<line x1="286.00" y1="479.64" x2="295.20" y2="479.64" stroke="#231f20" stroke-width="0.8"/>
<line x1="317.40" y1="445.70" x2="317.40" y2="392.89" stroke="#231f20" stroke-width="0.8"/>
<line x1="312.80" y1="445.70" x2="322.00" y2="445.70" stroke="#231f20" stroke-width="0.8"/>
<line x1="312.80" y1="392.89" x2="322.00" y2="392.89" stroke="#231f20" stroke-width="0.8"/>
<line x1="272.60" y1="488.80" x2="272.60" y2="365.00" stroke="#58595b" stroke-width="0.8"/>
<line x1="268.60" y1="488.40" x2="272.60" y2="488.40" stroke="#58595b" stroke-width="0.8"/>
<text x="265.20" y="492.02" font-size="9.0" text-anchor="end">0</text>
<line x1="268.60" y1="463.72" x2="272.60" y2="463.72" stroke="#58595b" stroke-width="0.8"/>
<text x="265.20" y="467.34" font-size="9.0" text-anchor="end">2</text>
<line x1="268.60" y1="439.04" x2="272.60" y2="439.04" stroke="#58595b" stroke-width="0.8"/>
<text x="265.20" y="442.66" font-size="9.0" text-anchor="end">4</text>
<line x1="268.60" y1="414.36" x2="272.60" y2="414.36" stroke="#58595b" stroke-width="0.8"/>
<text x="265.20" y="417.98" font-size="9.0" text-anchor="end">6</text>
<line x1="268.60" y1="389.68" x2="272.60" y2="389.68" stroke="#58595b" stroke-width="0.8"/>
<text x="265.20" y="393.30" font-size="9.0" text-anchor="end">8</text>
<line x1="268.60" y1="365.00" x2="272.60" y2="365.00" stroke="#58595b" stroke-width="0.8"/>
<text x="265.20" y="368.62" font-size="9.0" text-anchor="end">10</text>
<line x1="272.60" y1="488.40" x2="334.30" y2="488.40" stroke="#58595b" stroke-width="0.8"/>
<line x1="290.60" y1="488.40" x2="290.60" y2="491.60" stroke="#58595b" stroke-width="0.8"/>
<line x1="317.40" y1="488.40" x2="317.40" y2="491.60" stroke="#58595b" stroke-width="0.8"/>
<text x="290.60" y="502.61" font-size="8.4" text-anchor="middle" textLength="18.00" lengthAdjust="spacingAndGlyphs">GFP<tspan font-size="5.71" dy="-3.02">−</tspan></text>
<text x="317.40" y="502.61" font-size="8.4" text-anchor="middle" textLength="18.00" lengthAdjust="spacingAndGlyphs">GFP<tspan font-size="5.71" dy="-3.02">+</tspan></text>
<circle cx="317.40" cy="384.90" r="1.25" fill="#000"/>
<circle cx="317.40" cy="391.90" r="1.25" fill="#000"/>
<circle cx="317.40" cy="416.70" r="1.25" fill="#000"/>
<circle cx="317.40" cy="433.60" r="1.25" fill="#000"/>
<circle cx="317.40" cy="441.20" r="1.25" fill="#000"/>
<circle cx="317.40" cy="446.50" r="1.25" fill="#000"/>
<circle cx="291.00" cy="475.90" r="1.10" fill="#000"/>
<circle cx="284.50" cy="484.10" r="1.10" fill="#000"/>
<circle cx="288.80" cy="485.00" r="1.10" fill="#000"/>
<circle cx="293.00" cy="484.10" r="1.10" fill="#000"/>
<circle cx="297.60" cy="485.60" r="1.10" fill="#000"/>
<circle cx="291.00" cy="488.00" r="1.10" fill="#000"/>
<polyline points="290.60,469.50 290.60,371.70 317.40,371.70 317.40,377.60" fill="none" stroke="#58595b" stroke-width="0.8"/>
<text x="305.00" y="369.84" font-size="8.5" text-anchor="middle" textLength="40.00" lengthAdjust="spacingAndGlyphs"><tspan font-style="italic">P</tspan> = 0.0001</text>
<text transform="translate(250.48,427.20) rotate(-90)" font-size="10.0" text-anchor="middle" textLength="109.50" lengthAdjust="spacingAndGlyphs">Outgrowth efficiency (%)</text>
<text transform="translate(209.20,542.80) scale(0.991,1)" font-size="13.4" font-weight="bold" fill="#000" stroke="#000" stroke-width="0.25">h</text>
<text x="229.10" y="543.65" font-size="10.2" textLength="114.90" lengthAdjust="spacingAndGlyphs">Caecum; <tspan font-style="italic">Nox1</tspan>-2A-eGFP</text>
<rect x="257.30" y="607.80" width="17.50" height="45.60" fill="#fff" stroke="#545454" stroke-width="0.8"/>
<rect x="286.30" y="647.93" width="18.30" height="5.47" fill="#9a9a9a" stroke="#545454" stroke-width="0.8"/>
<line x1="246.40" y1="653.80" x2="246.40" y2="585.00" stroke="#58595b" stroke-width="0.8"/>
<line x1="241.40" y1="653.40" x2="246.40" y2="653.40" stroke="#58595b" stroke-width="0.8"/>
<text x="237.50" y="656.99" font-size="8.9" text-anchor="end">0</text>
<line x1="241.40" y1="630.60" x2="246.40" y2="630.60" stroke="#58595b" stroke-width="0.8"/>
<text x="237.50" y="634.19" font-size="8.9" text-anchor="end">0.5</text>
<line x1="241.40" y1="607.80" x2="246.40" y2="607.80" stroke="#58595b" stroke-width="0.8"/>
<text x="237.50" y="611.39" font-size="8.9" text-anchor="end">1.0</text>
<line x1="241.40" y1="585.00" x2="246.40" y2="585.00" stroke="#58595b" stroke-width="0.8"/>
<text x="237.50" y="588.59" font-size="8.9" text-anchor="end">1.5</text>
<line x1="246.40" y1="653.40" x2="315.00" y2="653.40" stroke="#58595b" stroke-width="0.8"/>
<line x1="266.05" y1="653.40" x2="266.05" y2="658.00" stroke="#58595b" stroke-width="0.8"/>
<line x1="295.45" y1="653.40" x2="295.45" y2="658.00" stroke="#58595b" stroke-width="0.8"/>
<text x="266.05" y="669.31" font-size="8.7" text-anchor="middle">OGM</text>
<text x="295.45" y="669.31" font-size="8.7" text-anchor="middle">ODM</text>
<circle cx="287.60" cy="647.10" r="2.00" fill="#000"/>
<circle cx="295.50" cy="647.10" r="2.00" fill="#000"/>
<circle cx="303.40" cy="647.10" r="2.00" fill="#000"/>
<circle cx="258.10" cy="607.80" r="2.00" fill="#000"/>
<circle cx="266.05" cy="607.80" r="2.00" fill="#000"/>
<circle cx="274.00" cy="607.80" r="2.00" fill="#000"/>
<polyline points="266.05,599.30 266.05,590.90 295.45,590.90 295.45,638.70" fill="none" stroke="#58595b" stroke-width="0.8"/>
<text x="281.05" y="587.54" font-size="8.5" text-anchor="middle" textLength="41.60" lengthAdjust="spacingAndGlyphs"><tspan font-style="italic">P</tspan> &lt; 0.0001</text>
<line x1="258.10" y1="607.80" x2="274.00" y2="607.80" stroke="#000" stroke-width="0.8"/>
<text x="276.80" y="559.38" font-size="10.0" text-anchor="middle" textLength="20.10" lengthAdjust="spacingAndGlyphs"><tspan font-style="italic">Lgr5</tspan></text>
<rect x="353.40" y="607.80" width="18.40" height="45.60" fill="#fff" stroke="#545454" stroke-width="0.8"/>
<rect x="383.50" y="647.93" width="17.30" height="5.47" fill="#9a9a9a" stroke="#545454" stroke-width="0.8"/>
<line x1="343.00" y1="653.80" x2="343.00" y2="585.00" stroke="#58595b" stroke-width="0.8"/>
<line x1="338.00" y1="653.40" x2="343.00" y2="653.40" stroke="#58595b" stroke-width="0.8"/>
<text x="334.10" y="656.99" font-size="8.9" text-anchor="end">0</text>
<line x1="338.00" y1="630.60" x2="343.00" y2="630.60" stroke="#58595b" stroke-width="0.8"/>
<text x="334.10" y="634.19" font-size="8.9" text-anchor="end">0.5</text>
<line x1="338.00" y1="607.80" x2="343.00" y2="607.80" stroke="#58595b" stroke-width="0.8"/>
<text x="334.10" y="611.39" font-size="8.9" text-anchor="end">1.0</text>
<line x1="338.00" y1="585.00" x2="343.00" y2="585.00" stroke="#58595b" stroke-width="0.8"/>
<text x="334.10" y="588.59" font-size="8.9" text-anchor="end">1.5</text>
<line x1="343.00" y1="653.40" x2="411.70" y2="653.40" stroke="#58595b" stroke-width="0.8"/>
<line x1="362.60" y1="653.40" x2="362.60" y2="658.00" stroke="#58595b" stroke-width="0.8"/>
<line x1="392.15" y1="653.40" x2="392.15" y2="658.00" stroke="#58595b" stroke-width="0.8"/>
<text x="362.60" y="669.31" font-size="8.7" text-anchor="middle">OGM</text>
<text x="392.15" y="669.31" font-size="8.7" text-anchor="middle">ODM</text>
<circle cx="384.30" cy="647.80" r="2.00" fill="#000"/>
<circle cx="392.20" cy="647.00" r="2.00" fill="#000"/>
<circle cx="400.00" cy="647.50" r="2.00" fill="#000"/>
<circle cx="354.20" cy="607.80" r="2.00" fill="#000"/>
<circle cx="362.60" cy="607.80" r="2.00" fill="#000"/>
<circle cx="371.00" cy="607.80" r="2.00" fill="#000"/>
<polyline points="362.60,599.30 362.60,591.20 392.15,591.20 392.15,638.50" fill="none" stroke="#58595b" stroke-width="0.8"/>
<text x="377.68" y="587.84" font-size="8.5" text-anchor="middle" textLength="41.60" lengthAdjust="spacingAndGlyphs"><tspan font-style="italic">P</tspan> &lt; 0.0001</text>
<line x1="354.20" y1="607.80" x2="371.00" y2="607.80" stroke="#000" stroke-width="0.8"/>
<text x="373.00" y="559.38" font-size="10.0" text-anchor="middle" textLength="21.20" lengthAdjust="spacingAndGlyphs"><tspan font-style="italic">Nox1</tspan></text>
<rect x="449.90" y="652.95" width="18.80" height="0.45" fill="#fff" stroke="#545454" stroke-width="0.8"/>
<rect x="479.40" y="610.46" width="17.30" height="42.94" fill="#9a9a9a" stroke="#545454" stroke-width="0.8"/>
<line x1="488.05" y1="621.20" x2="488.05" y2="597.30" stroke="#231f20" stroke-width="0.8"/>
<line x1="483.85" y1="621.20" x2="492.25" y2="621.20" stroke="#231f20" stroke-width="0.8"/>
<line x1="483.85" y1="597.30" x2="492.25" y2="597.30" stroke="#231f20" stroke-width="0.8"/>
<line x1="439.50" y1="653.80" x2="439.50" y2="585.60" stroke="#58595b" stroke-width="0.8"/>
<line x1="434.50" y1="653.40" x2="439.50" y2="653.40" stroke="#58595b" stroke-width="0.8"/>
<text x="430.60" y="656.99" font-size="8.9" text-anchor="end">0</text>
<line x1="434.50" y1="630.80" x2="439.50" y2="630.80" stroke="#58595b" stroke-width="0.8"/>
<text x="430.60" y="634.39" font-size="8.9" text-anchor="end">50</text>
<line x1="434.50" y1="608.20" x2="439.50" y2="608.20" stroke="#58595b" stroke-width="0.8"/>
<text x="430.60" y="611.79" font-size="8.9" text-anchor="end">100</text>
<line x1="434.50" y1="585.60" x2="439.50" y2="585.60" stroke="#58595b" stroke-width="0.8"/>
<text x="430.60" y="589.19" font-size="8.9" text-anchor="end">150</text>
<line x1="439.50" y1="653.40" x2="507.70" y2="653.40" stroke="#58595b" stroke-width="0.8"/>
<line x1="459.30" y1="653.40" x2="459.30" y2="658.00" stroke="#58595b" stroke-width="0.8"/>
<line x1="488.05" y1="653.40" x2="488.05" y2="658.00" stroke="#58595b" stroke-width="0.8"/>
<text x="459.30" y="669.31" font-size="8.7" text-anchor="middle">OGM</text>
<text x="488.05" y="669.31" font-size="8.7" text-anchor="middle">ODM</text>
<circle cx="488.00" cy="595.30" r="2.00" fill="#000"/>
<circle cx="483.80" cy="616.20" r="2.00" fill="#000"/>
<circle cx="492.70" cy="616.20" r="2.00" fill="#000"/>
<circle cx="451.70" cy="653.00" r="2.00" fill="#000"/>
<circle cx="459.30" cy="653.00" r="2.00" fill="#000"/>
<circle cx="466.90" cy="653.00" r="2.00" fill="#000"/>
<polyline points="459.30,644.60 459.30,578.60 488.05,578.60 488.05,585.60" fill="none" stroke="#58595b" stroke-width="0.8"/>
<text x="473.97" y="575.24" font-size="8.5" text-anchor="middle" textLength="41.60" lengthAdjust="spacingAndGlyphs"><tspan font-style="italic">P</tspan> = 0.0249</text>
<text x="470.90" y="559.38" font-size="10.0" text-anchor="middle" textLength="15.40" lengthAdjust="spacingAndGlyphs"><tspan font-style="italic">Dra</tspan></text>
<rect x="538.00" y="636.45" width="17.60" height="16.95" fill="#fff" stroke="#545454" stroke-width="0.8"/>
<rect x="567.10" y="596.62" width="17.20" height="56.78" fill="#9a9a9a" stroke="#545454" stroke-width="0.8"/>
<line x1="575.70" y1="601.10" x2="575.70" y2="591.00" stroke="#231f20" stroke-width="0.8"/>
<line x1="571.50" y1="601.10" x2="579.90" y2="601.10" stroke="#231f20" stroke-width="0.8"/>
<line x1="571.50" y1="591.00" x2="579.90" y2="591.00" stroke="#231f20" stroke-width="0.8"/>
<line x1="527.40" y1="653.80" x2="527.40" y2="585.60" stroke="#58595b" stroke-width="0.8"/>
<line x1="522.40" y1="653.40" x2="527.40" y2="653.40" stroke="#58595b" stroke-width="0.8"/>
<text x="518.50" y="656.99" font-size="8.9" text-anchor="end">0</text>
<line x1="522.40" y1="636.45" x2="527.40" y2="636.45" stroke="#58595b" stroke-width="0.8"/>
<text x="518.50" y="640.04" font-size="8.9" text-anchor="end">1</text>
<line x1="522.40" y1="619.50" x2="527.40" y2="619.50" stroke="#58595b" stroke-width="0.8"/>
<text x="518.50" y="623.09" font-size="8.9" text-anchor="end">2</text>
<line x1="522.40" y1="602.55" x2="527.40" y2="602.55" stroke="#58595b" stroke-width="0.8"/>
<text x="518.50" y="606.14" font-size="8.9" text-anchor="end">3</text>
<line x1="522.40" y1="585.60" x2="527.40" y2="585.60" stroke="#58595b" stroke-width="0.8"/>
<text x="518.50" y="589.19" font-size="8.9" text-anchor="end">4</text>
<line x1="527.40" y1="653.40" x2="595.80" y2="653.40" stroke="#58595b" stroke-width="0.8"/>
<line x1="546.80" y1="653.40" x2="546.80" y2="658.00" stroke="#58595b" stroke-width="0.8"/>
<line x1="575.70" y1="653.40" x2="575.70" y2="658.00" stroke="#58595b" stroke-width="0.8"/>
<text x="546.80" y="669.31" font-size="8.7" text-anchor="middle">OGM</text>
<text x="575.70" y="669.31" font-size="8.7" text-anchor="middle">ODM</text>
<circle cx="571.90" cy="591.00" r="2.00" fill="#000"/>
<circle cx="580.20" cy="594.40" r="2.00" fill="#000"/>
<circle cx="576.40" cy="600.10" r="2.00" fill="#000"/>
<circle cx="539.20" cy="636.45" r="2.00" fill="#000"/>
<circle cx="546.80" cy="636.45" r="2.00" fill="#000"/>
<circle cx="554.40" cy="636.45" r="2.00" fill="#000"/>
<polyline points="546.80,627.20 546.80,575.20 575.70,575.20 575.70,582.00" fill="none" stroke="#58595b" stroke-width="0.8"/>
<text x="561.55" y="571.84" font-size="8.5" text-anchor="middle" textLength="41.60" lengthAdjust="spacingAndGlyphs"><tspan font-style="italic">P</tspan> = 0.0037</text>
<text x="557.00" y="559.38" font-size="10.0" text-anchor="middle" textLength="25.10" lengthAdjust="spacingAndGlyphs"><tspan font-style="italic">Muc2</tspan></text>
<rect x="625.40" y="639.84" width="18.00" height="13.56" fill="#fff" stroke="#545454" stroke-width="0.8"/>
<rect x="655.50" y="599.16" width="17.40" height="54.24" fill="#9a9a9a" stroke="#545454" stroke-width="0.8"/>
<line x1="664.20" y1="603.80" x2="664.20" y2="593.40" stroke="#231f20" stroke-width="0.8"/>
<line x1="660.00" y1="603.80" x2="668.40" y2="603.80" stroke="#231f20" stroke-width="0.8"/>
<line x1="660.00" y1="593.40" x2="668.40" y2="593.40" stroke="#231f20" stroke-width="0.8"/>
<line x1="615.30" y1="653.80" x2="615.30" y2="585.60" stroke="#58595b" stroke-width="0.8"/>
<line x1="610.30" y1="653.40" x2="615.30" y2="653.40" stroke="#58595b" stroke-width="0.8"/>
<text x="606.40" y="656.99" font-size="8.9" text-anchor="end">0</text>
<line x1="610.30" y1="639.84" x2="615.30" y2="639.84" stroke="#58595b" stroke-width="0.8"/>
<text x="606.40" y="643.43" font-size="8.9" text-anchor="end">1</text>
<line x1="610.30" y1="626.28" x2="615.30" y2="626.28" stroke="#58595b" stroke-width="0.8"/>
<text x="606.40" y="629.87" font-size="8.9" text-anchor="end">2</text>
<line x1="610.30" y1="612.72" x2="615.30" y2="612.72" stroke="#58595b" stroke-width="0.8"/>
<text x="606.40" y="616.31" font-size="8.9" text-anchor="end">3</text>
<line x1="610.30" y1="599.16" x2="615.30" y2="599.16" stroke="#58595b" stroke-width="0.8"/>
<text x="606.40" y="602.75" font-size="8.9" text-anchor="end">4</text>
<line x1="610.30" y1="585.60" x2="615.30" y2="585.60" stroke="#58595b" stroke-width="0.8"/>
<text x="606.40" y="589.19" font-size="8.9" text-anchor="end">5</text>
<line x1="615.30" y1="653.40" x2="682.90" y2="653.40" stroke="#58595b" stroke-width="0.8"/>
<line x1="634.40" y1="653.40" x2="634.40" y2="658.00" stroke="#58595b" stroke-width="0.8"/>
<line x1="664.20" y1="653.40" x2="664.20" y2="658.00" stroke="#58595b" stroke-width="0.8"/>
<text x="634.40" y="669.31" font-size="8.7" text-anchor="middle">OGM</text>
<text x="664.20" y="669.31" font-size="8.7" text-anchor="middle">ODM</text>
<circle cx="659.40" cy="594.00" r="2.00" fill="#000"/>
<circle cx="668.00" cy="595.10" r="2.00" fill="#000"/>
<circle cx="664.00" cy="603.00" r="2.00" fill="#000"/>
<circle cx="626.80" cy="639.84" r="2.00" fill="#000"/>
<circle cx="634.40" cy="639.84" r="2.00" fill="#000"/>
<circle cx="642.00" cy="639.84" r="2.00" fill="#000"/>
<polyline points="634.40,632.90 634.40,576.30 664.20,576.30 664.20,584.20" fill="none" stroke="#58595b" stroke-width="0.8"/>
<text x="649.60" y="572.94" font-size="8.5" text-anchor="middle" textLength="41.60" lengthAdjust="spacingAndGlyphs"><tspan font-style="italic">P</tspan> = 0.0044</text>
<text x="644.50" y="559.38" font-size="10.0" text-anchor="middle" textLength="25.10" lengthAdjust="spacingAndGlyphs"><tspan font-style="italic">ChgA</tspan></text>
<text transform="translate(217.41,619.50) rotate(-90)" font-size="9.8" text-anchor="middle" textLength="84.40" lengthAdjust="spacingAndGlyphs">Relative expression</text>
<text transform="translate(209.20,692.80) scale(0.933,1)" font-size="13.4" font-weight="bold" fill="#000" stroke="#000" stroke-width="0.25">i</text>
<text x="229.10" y="692.65" font-size="10.2" textLength="132.20" lengthAdjust="spacingAndGlyphs">Distal colon; <tspan font-style="italic">Nox1</tspan>-2A-eGFP</text>
<rect x="257.30" y="756.70" width="17.50" height="46.60" fill="#fff" stroke="#545454" stroke-width="0.8"/>
<rect x="286.30" y="801.44" width="18.30" height="1.86" fill="#9a9a9a" stroke="#545454" stroke-width="0.8"/>
<line x1="246.40" y1="803.70" x2="246.40" y2="733.40" stroke="#58595b" stroke-width="0.8"/>
<line x1="241.40" y1="803.30" x2="246.40" y2="803.30" stroke="#58595b" stroke-width="0.8"/>
<text x="237.50" y="806.89" font-size="8.9" text-anchor="end">0</text>
<line x1="241.40" y1="780.00" x2="246.40" y2="780.00" stroke="#58595b" stroke-width="0.8"/>
<text x="237.50" y="783.59" font-size="8.9" text-anchor="end">0.5</text>
<line x1="241.40" y1="756.70" x2="246.40" y2="756.70" stroke="#58595b" stroke-width="0.8"/>
<text x="237.50" y="760.29" font-size="8.9" text-anchor="end">1.0</text>
<line x1="241.40" y1="733.40" x2="246.40" y2="733.40" stroke="#58595b" stroke-width="0.8"/>
<text x="237.50" y="736.99" font-size="8.9" text-anchor="end">1.5</text>
<line x1="246.40" y1="803.30" x2="315.00" y2="803.30" stroke="#58595b" stroke-width="0.8"/>
<line x1="266.05" y1="803.30" x2="266.05" y2="807.90" stroke="#58595b" stroke-width="0.8"/>
<line x1="295.45" y1="803.30" x2="295.45" y2="807.90" stroke="#58595b" stroke-width="0.8"/>
<text x="266.05" y="818.71" font-size="8.7" text-anchor="middle">OGM</text>
<text x="295.45" y="818.71" font-size="8.7" text-anchor="middle">ODM</text>
<circle cx="287.90" cy="801.30" r="2.00" fill="#000"/>
<circle cx="295.60" cy="801.30" r="2.00" fill="#000"/>
<circle cx="303.50" cy="801.30" r="2.00" fill="#000"/>
<circle cx="258.10" cy="756.70" r="2.00" fill="#000"/>
<circle cx="266.05" cy="756.70" r="2.00" fill="#000"/>
<circle cx="274.00" cy="756.70" r="2.00" fill="#000"/>
<polyline points="266.05,748.60 266.05,740.20 295.45,740.20 295.45,792.90" fill="none" stroke="#58595b" stroke-width="0.8"/>
<text x="281.05" y="736.84" font-size="8.5" text-anchor="middle" textLength="41.60" lengthAdjust="spacingAndGlyphs"><tspan font-style="italic">P</tspan> &lt; 0.0001</text>
<line x1="258.10" y1="756.70" x2="274.00" y2="756.70" stroke="#000" stroke-width="0.8"/>
<text x="276.80" y="708.18" font-size="10.0" text-anchor="middle" textLength="20.10" lengthAdjust="spacingAndGlyphs"><tspan font-style="italic">Lgr5</tspan></text>
<rect x="353.40" y="756.70" width="18.40" height="46.60" fill="#fff" stroke="#545454" stroke-width="0.8"/>
<rect x="383.50" y="801.44" width="17.30" height="1.86" fill="#9a9a9a" stroke="#545454" stroke-width="0.8"/>
<line x1="343.00" y1="803.70" x2="343.00" y2="733.40" stroke="#58595b" stroke-width="0.8"/>
<line x1="338.00" y1="803.30" x2="343.00" y2="803.30" stroke="#58595b" stroke-width="0.8"/>
<text x="334.10" y="806.89" font-size="8.9" text-anchor="end">0</text>
<line x1="338.00" y1="780.00" x2="343.00" y2="780.00" stroke="#58595b" stroke-width="0.8"/>
<text x="334.10" y="783.59" font-size="8.9" text-anchor="end">0.5</text>
<line x1="338.00" y1="756.70" x2="343.00" y2="756.70" stroke="#58595b" stroke-width="0.8"/>
<text x="334.10" y="760.29" font-size="8.9" text-anchor="end">1.0</text>
<line x1="338.00" y1="733.40" x2="343.00" y2="733.40" stroke="#58595b" stroke-width="0.8"/>
<text x="334.10" y="736.99" font-size="8.9" text-anchor="end">1.5</text>
<line x1="343.00" y1="803.30" x2="411.70" y2="803.30" stroke="#58595b" stroke-width="0.8"/>
<line x1="362.60" y1="803.30" x2="362.60" y2="807.90" stroke="#58595b" stroke-width="0.8"/>
<line x1="392.15" y1="803.30" x2="392.15" y2="807.90" stroke="#58595b" stroke-width="0.8"/>
<text x="362.60" y="818.71" font-size="8.7" text-anchor="middle">OGM</text>
<text x="392.15" y="818.71" font-size="8.7" text-anchor="middle">ODM</text>
<circle cx="384.70" cy="801.60" r="2.00" fill="#000"/>
<circle cx="392.40" cy="801.60" r="2.00" fill="#000"/>
<circle cx="400.30" cy="801.60" r="2.00" fill="#000"/>
<circle cx="354.20" cy="756.70" r="2.00" fill="#000"/>
<circle cx="362.60" cy="756.70" r="2.00" fill="#000"/>
<circle cx="371.00" cy="756.70" r="2.00" fill="#000"/>
<polyline points="362.60,748.60 362.60,740.20 392.15,740.20 392.15,794.10" fill="none" stroke="#58595b" stroke-width="0.8"/>
<text x="377.68" y="736.84" font-size="8.5" text-anchor="middle" textLength="41.60" lengthAdjust="spacingAndGlyphs"><tspan font-style="italic">P</tspan> &lt; 0.0001</text>
<line x1="354.20" y1="756.70" x2="371.00" y2="756.70" stroke="#000" stroke-width="0.8"/>
<text x="373.00" y="708.18" font-size="10.0" text-anchor="middle" textLength="21.20" lengthAdjust="spacingAndGlyphs"><tspan font-style="italic">Nox1</tspan></text>
<rect x="449.20" y="796.34" width="18.80" height="6.96" fill="#fff" stroke="#545454" stroke-width="0.8"/>
<rect x="478.70" y="748.32" width="17.30" height="54.98" fill="#9a9a9a" stroke="#545454" stroke-width="0.8"/>
<line x1="487.35" y1="755.00" x2="487.35" y2="740.30" stroke="#231f20" stroke-width="0.8"/>
<line x1="483.15" y1="755.00" x2="491.55" y2="755.00" stroke="#231f20" stroke-width="0.8"/>
<line x1="483.15" y1="740.30" x2="491.55" y2="740.30" stroke="#231f20" stroke-width="0.8"/>
<line x1="438.80" y1="803.70" x2="438.80" y2="733.70" stroke="#58595b" stroke-width="0.8"/>
<line x1="433.80" y1="803.30" x2="438.80" y2="803.30" stroke="#58595b" stroke-width="0.8"/>
<text x="429.90" y="806.89" font-size="8.9" text-anchor="end">0</text>
<line x1="433.80" y1="789.38" x2="438.80" y2="789.38" stroke="#58595b" stroke-width="0.8"/>
<text x="429.90" y="792.97" font-size="8.9" text-anchor="end">2</text>
<line x1="433.80" y1="775.46" x2="438.80" y2="775.46" stroke="#58595b" stroke-width="0.8"/>
<text x="429.90" y="779.05" font-size="8.9" text-anchor="end">4</text>
<line x1="433.80" y1="761.54" x2="438.80" y2="761.54" stroke="#58595b" stroke-width="0.8"/>
<text x="429.90" y="765.13" font-size="8.9" text-anchor="end">6</text>
<line x1="433.80" y1="747.62" x2="438.80" y2="747.62" stroke="#58595b" stroke-width="0.8"/>
<text x="429.90" y="751.21" font-size="8.9" text-anchor="end">8</text>
<line x1="433.80" y1="733.70" x2="438.80" y2="733.70" stroke="#58595b" stroke-width="0.8"/>
<text x="429.90" y="737.29" font-size="8.9" text-anchor="end">10</text>
<line x1="438.80" y1="803.30" x2="507.00" y2="803.30" stroke="#58595b" stroke-width="0.8"/>
<line x1="458.60" y1="803.30" x2="458.60" y2="807.90" stroke="#58595b" stroke-width="0.8"/>
<line x1="487.35" y1="803.30" x2="487.35" y2="807.90" stroke="#58595b" stroke-width="0.8"/>
<text x="458.60" y="818.71" font-size="8.7" text-anchor="middle">OGM</text>
<text x="487.35" y="818.71" font-size="8.7" text-anchor="middle">ODM</text>
<circle cx="484.40" cy="743.40" r="1.80" fill="#000"/>
<circle cx="490.90" cy="744.40" r="1.80" fill="#000"/>
<circle cx="488.00" cy="755.50" r="1.80" fill="#000"/>
<circle cx="453.10" cy="796.00" r="1.60" fill="#000"/>
<circle cx="458.60" cy="796.00" r="1.60" fill="#000"/>
<circle cx="464.10" cy="796.00" r="1.60" fill="#000"/>
<polyline points="458.60,787.50 458.60,724.00 487.35,724.00 487.35,732.60" fill="none" stroke="#58595b" stroke-width="0.8"/>
<text x="473.28" y="720.64" font-size="8.5" text-anchor="middle" textLength="41.60" lengthAdjust="spacingAndGlyphs"><tspan font-style="italic">P</tspan> = 0.0003</text>
<text x="470.90" y="708.18" font-size="10.0" text-anchor="middle" textLength="15.40" lengthAdjust="spacingAndGlyphs"><tspan font-style="italic">Dra</tspan></text>
<rect x="537.60" y="794.70" width="17.60" height="8.60" fill="#fff" stroke="#545454" stroke-width="0.8"/>
<rect x="566.70" y="754.28" width="17.20" height="49.02" fill="#9a9a9a" stroke="#545454" stroke-width="0.8"/>
<line x1="575.30" y1="764.30" x2="575.30" y2="744.20" stroke="#231f20" stroke-width="0.8"/>
<line x1="571.10" y1="764.30" x2="579.50" y2="764.30" stroke="#231f20" stroke-width="0.8"/>
<line x1="571.10" y1="744.20" x2="579.50" y2="744.20" stroke="#231f20" stroke-width="0.8"/>
<line x1="527.00" y1="803.70" x2="527.00" y2="734.50" stroke="#58595b" stroke-width="0.8"/>
<line x1="522.00" y1="803.30" x2="527.00" y2="803.30" stroke="#58595b" stroke-width="0.8"/>
<text x="518.10" y="806.89" font-size="8.9" text-anchor="end">0</text>
<line x1="522.00" y1="786.10" x2="527.00" y2="786.10" stroke="#58595b" stroke-width="0.8"/>
<text x="518.10" y="789.69" font-size="8.9" text-anchor="end">2</text>
<line x1="522.00" y1="768.90" x2="527.00" y2="768.90" stroke="#58595b" stroke-width="0.8"/>
<text x="518.10" y="772.49" font-size="8.9" text-anchor="end">4</text>
<line x1="522.00" y1="751.70" x2="527.00" y2="751.70" stroke="#58595b" stroke-width="0.8"/>
<text x="518.10" y="755.29" font-size="8.9" text-anchor="end">6</text>
<line x1="522.00" y1="734.50" x2="527.00" y2="734.50" stroke="#58595b" stroke-width="0.8"/>
<text x="518.10" y="738.09" font-size="8.9" text-anchor="end">8</text>
<line x1="527.00" y1="803.30" x2="595.40" y2="803.30" stroke="#58595b" stroke-width="0.8"/>
<line x1="546.40" y1="803.30" x2="546.40" y2="807.90" stroke="#58595b" stroke-width="0.8"/>
<line x1="575.30" y1="803.30" x2="575.30" y2="807.90" stroke="#58595b" stroke-width="0.8"/>
<text x="546.40" y="818.71" font-size="8.7" text-anchor="middle">OGM</text>
<text x="575.30" y="818.71" font-size="8.7" text-anchor="middle">ODM</text>
<circle cx="577.10" cy="745.80" r="2.00" fill="#000"/>
<circle cx="577.10" cy="751.10" r="2.00" fill="#000"/>
<circle cx="577.10" cy="762.70" r="2.00" fill="#000"/>
<circle cx="538.80" cy="794.70" r="2.00" fill="#000"/>
<circle cx="546.40" cy="794.70" r="2.00" fill="#000"/>
<circle cx="554.00" cy="794.70" r="2.00" fill="#000"/>
<polyline points="546.40,786.00 546.40,728.70 575.30,728.70 575.30,737.20" fill="none" stroke="#58595b" stroke-width="0.8"/>
<text x="561.15" y="725.34" font-size="8.5" text-anchor="middle" textLength="41.60" lengthAdjust="spacingAndGlyphs"><tspan font-style="italic">P</tspan> = 0.0012</text>
<text x="557.00" y="708.18" font-size="10.0" text-anchor="middle" textLength="25.10" lengthAdjust="spacingAndGlyphs"><tspan font-style="italic">Muc2</tspan></text>
<rect x="626.20" y="791.83" width="18.00" height="11.47" fill="#fff" stroke="#545454" stroke-width="0.8"/>
<rect x="656.30" y="744.82" width="17.40" height="58.48" fill="#9a9a9a" stroke="#545454" stroke-width="0.8"/>
<line x1="665.00" y1="747.20" x2="665.00" y2="740.00" stroke="#231f20" stroke-width="0.8"/>
<line x1="660.80" y1="747.20" x2="669.20" y2="747.20" stroke="#231f20" stroke-width="0.8"/>
<line x1="660.80" y1="740.00" x2="669.20" y2="740.00" stroke="#231f20" stroke-width="0.8"/>
<line x1="616.10" y1="803.70" x2="616.10" y2="734.50" stroke="#58595b" stroke-width="0.8"/>
<line x1="611.10" y1="803.30" x2="616.10" y2="803.30" stroke="#58595b" stroke-width="0.8"/>
<text x="607.20" y="806.89" font-size="8.9" text-anchor="end">0</text>
<line x1="611.10" y1="780.37" x2="616.10" y2="780.37" stroke="#58595b" stroke-width="0.8"/>
<text x="607.20" y="783.95" font-size="8.9" text-anchor="end">2</text>
<line x1="611.10" y1="757.43" x2="616.10" y2="757.43" stroke="#58595b" stroke-width="0.8"/>
<text x="607.20" y="761.02" font-size="8.9" text-anchor="end">4</text>
<line x1="611.10" y1="734.50" x2="616.10" y2="734.50" stroke="#58595b" stroke-width="0.8"/>
<text x="607.20" y="738.09" font-size="8.9" text-anchor="end">6</text>
<line x1="616.10" y1="803.30" x2="683.70" y2="803.30" stroke="#58595b" stroke-width="0.8"/>
<line x1="635.20" y1="803.30" x2="635.20" y2="807.90" stroke="#58595b" stroke-width="0.8"/>
<line x1="665.00" y1="803.30" x2="665.00" y2="807.90" stroke="#58595b" stroke-width="0.8"/>
<text x="635.20" y="818.71" font-size="8.7" text-anchor="middle">OGM</text>
<text x="665.00" y="818.71" font-size="8.7" text-anchor="middle">ODM</text>
<circle cx="661.00" cy="741.40" r="2.00" fill="#000"/>
<circle cx="669.30" cy="742.30" r="2.00" fill="#000"/>
<circle cx="665.30" cy="747.90" r="2.00" fill="#000"/>
<circle cx="627.60" cy="791.83" r="2.00" fill="#000"/>
<circle cx="635.20" cy="791.83" r="2.00" fill="#000"/>
<circle cx="642.80" cy="791.83" r="2.00" fill="#000"/>
<polyline points="635.20,783.30 635.20,724.00 665.00,724.00 665.00,731.80" fill="none" stroke="#58595b" stroke-width="0.8"/>
<text x="650.40" y="720.64" font-size="8.5" text-anchor="middle" textLength="41.60" lengthAdjust="spacingAndGlyphs"><tspan font-style="italic">P</tspan> &lt; 0.0001</text>
<text x="644.50" y="708.18" font-size="10.0" text-anchor="middle" textLength="25.10" lengthAdjust="spacingAndGlyphs"><tspan font-style="italic">ChgA</tspan></text>
<text transform="translate(217.41,768.40) rotate(-90)" font-size="9.8" text-anchor="middle" textLength="84.40" lengthAdjust="spacingAndGlyphs">Relative expression</text>
<text transform="translate(209.47,841.90) scale(1.020,1)" font-size="13.4" font-weight="bold" fill="#000" stroke="#000" stroke-width="0.25">j</text>
<text x="229.10" y="841.85" font-size="10.2" textLength="190.90" lengthAdjust="spacingAndGlyphs">Distal colon; <tspan font-style="italic">Npy1r</tspan>-eGFP-IRES-CreERT2</text>
<rect x="257.30" y="907.60" width="17.50" height="46.20" fill="#fff" stroke="#545454" stroke-width="0.8"/>
<rect x="286.30" y="949.64" width="18.30" height="4.16" fill="#9a9a9a" stroke="#545454" stroke-width="0.8"/>
<line x1="246.40" y1="954.20" x2="246.40" y2="884.50" stroke="#58595b" stroke-width="0.8"/>
<line x1="241.40" y1="953.80" x2="246.40" y2="953.80" stroke="#58595b" stroke-width="0.8"/>
<text x="237.50" y="957.39" font-size="8.9" text-anchor="end">0</text>
<line x1="241.40" y1="930.70" x2="246.40" y2="930.70" stroke="#58595b" stroke-width="0.8"/>
<text x="237.50" y="934.29" font-size="8.9" text-anchor="end">0.5</text>
<line x1="241.40" y1="907.60" x2="246.40" y2="907.60" stroke="#58595b" stroke-width="0.8"/>
<text x="237.50" y="911.19" font-size="8.9" text-anchor="end">1.0</text>
<line x1="241.40" y1="884.50" x2="246.40" y2="884.50" stroke="#58595b" stroke-width="0.8"/>
<text x="237.50" y="888.09" font-size="8.9" text-anchor="end">1.5</text>
<line x1="246.40" y1="953.80" x2="315.00" y2="953.80" stroke="#58595b" stroke-width="0.8"/>
<line x1="266.05" y1="953.80" x2="266.05" y2="958.40" stroke="#58595b" stroke-width="0.8"/>
<line x1="295.45" y1="953.80" x2="295.45" y2="958.40" stroke="#58595b" stroke-width="0.8"/>
<text x="266.05" y="969.71" font-size="8.7" text-anchor="middle">OGM</text>
<text x="295.45" y="969.71" font-size="8.7" text-anchor="middle">ODM</text>
<circle cx="290.10" cy="949.60" r="1.40" fill="#000"/>
<circle cx="295.60" cy="948.10" r="1.40" fill="#000"/>
<circle cx="301.20" cy="948.40" r="1.40" fill="#000"/>
<circle cx="260.55" cy="907.60" r="1.40" fill="#000"/>
<circle cx="266.05" cy="907.60" r="1.40" fill="#000"/>
<circle cx="271.55" cy="907.60" r="1.40" fill="#000"/>
<polyline points="266.05,899.30 266.05,891.40 295.45,891.40 295.45,899.30" fill="none" stroke="#58595b" stroke-width="0.8"/>
<text x="281.05" y="888.04" font-size="8.5" text-anchor="middle" textLength="41.60" lengthAdjust="spacingAndGlyphs"><tspan font-style="italic">P</tspan> = 0.0001</text>
<text x="276.80" y="858.58" font-size="10.0" text-anchor="middle" textLength="20.10" lengthAdjust="spacingAndGlyphs"><tspan font-style="italic">Lgr5</tspan></text>
<rect x="353.40" y="907.60" width="18.40" height="46.20" fill="#fff" stroke="#545454" stroke-width="0.8"/>
<rect x="383.50" y="917.76" width="17.30" height="36.04" fill="#9a9a9a" stroke="#545454" stroke-width="0.8"/>
<line x1="392.15" y1="928.40" x2="392.15" y2="904.30" stroke="#231f20" stroke-width="0.8"/>
<line x1="387.95" y1="928.40" x2="396.35" y2="928.40" stroke="#231f20" stroke-width="0.8"/>
<line x1="387.95" y1="904.30" x2="396.35" y2="904.30" stroke="#231f20" stroke-width="0.8"/>
<line x1="343.00" y1="954.20" x2="343.00" y2="884.50" stroke="#58595b" stroke-width="0.8"/>
<line x1="338.00" y1="953.80" x2="343.00" y2="953.80" stroke="#58595b" stroke-width="0.8"/>
<text x="334.10" y="957.39" font-size="8.9" text-anchor="end">0</text>
<line x1="338.00" y1="930.70" x2="343.00" y2="930.70" stroke="#58595b" stroke-width="0.8"/>
<text x="334.10" y="934.29" font-size="8.9" text-anchor="end">0.5</text>
<line x1="338.00" y1="907.60" x2="343.00" y2="907.60" stroke="#58595b" stroke-width="0.8"/>
<text x="334.10" y="911.19" font-size="8.9" text-anchor="end">1.0</text>
<line x1="338.00" y1="884.50" x2="343.00" y2="884.50" stroke="#58595b" stroke-width="0.8"/>
<text x="334.10" y="888.09" font-size="8.9" text-anchor="end">1.5</text>
<line x1="343.00" y1="953.80" x2="411.70" y2="953.80" stroke="#58595b" stroke-width="0.8"/>
<line x1="362.60" y1="953.80" x2="362.60" y2="958.40" stroke="#58595b" stroke-width="0.8"/>
<line x1="392.15" y1="953.80" x2="392.15" y2="958.40" stroke="#58595b" stroke-width="0.8"/>
<text x="362.60" y="969.71" font-size="8.7" text-anchor="middle">OGM</text>
<text x="392.15" y="969.71" font-size="8.7" text-anchor="middle">ODM</text>
<circle cx="392.30" cy="905.70" r="1.40" fill="#000"/>
<circle cx="392.30" cy="915.00" r="1.40" fill="#000"/>
<circle cx="392.30" cy="929.40" r="1.40" fill="#000"/>
<circle cx="357.10" cy="907.60" r="1.40" fill="#000"/>
<circle cx="362.60" cy="907.60" r="1.40" fill="#000"/>
<circle cx="368.10" cy="907.60" r="1.40" fill="#000"/>
<polyline points="362.60,896.00 362.60,888.10 392.15,888.10 392.15,896.40" fill="none" stroke="#58595b" stroke-width="0.8"/>
<text x="377.68" y="884.74" font-size="8.5" text-anchor="middle" textLength="41.60" lengthAdjust="spacingAndGlyphs"><tspan font-style="italic">P</tspan> = 0.3298</text>
<text x="372.10" y="858.58" font-size="10.0" text-anchor="middle" textLength="24.80" lengthAdjust="spacingAndGlyphs"><tspan font-style="italic">Npy1r</tspan></text>
<rect x="449.20" y="951.52" width="18.80" height="2.28" fill="#fff" stroke="#545454" stroke-width="0.8"/>
<rect x="478.70" y="900.14" width="17.30" height="53.66" fill="#9a9a9a" stroke="#545454" stroke-width="0.8"/>
<line x1="487.35" y1="910.80" x2="487.35" y2="891.00" stroke="#231f20" stroke-width="0.8"/>
<line x1="483.15" y1="910.80" x2="491.55" y2="910.80" stroke="#231f20" stroke-width="0.8"/>
<line x1="483.15" y1="891.00" x2="491.55" y2="891.00" stroke="#231f20" stroke-width="0.8"/>
<line x1="438.80" y1="954.20" x2="438.80" y2="885.30" stroke="#58595b" stroke-width="0.8"/>
<line x1="433.80" y1="953.80" x2="438.80" y2="953.80" stroke="#58595b" stroke-width="0.8"/>
<text x="429.90" y="957.39" font-size="8.9" text-anchor="end">0</text>
<line x1="433.80" y1="930.97" x2="438.80" y2="930.97" stroke="#58595b" stroke-width="0.8"/>
<text x="429.90" y="934.55" font-size="8.9" text-anchor="end">10</text>
<line x1="433.80" y1="908.13" x2="438.80" y2="908.13" stroke="#58595b" stroke-width="0.8"/>
<text x="429.90" y="911.72" font-size="8.9" text-anchor="end">20</text>
<line x1="433.80" y1="885.30" x2="438.80" y2="885.30" stroke="#58595b" stroke-width="0.8"/>
<text x="429.90" y="888.89" font-size="8.9" text-anchor="end">30</text>
<line x1="438.80" y1="953.80" x2="507.00" y2="953.80" stroke="#58595b" stroke-width="0.8"/>
<line x1="458.60" y1="953.80" x2="458.60" y2="958.40" stroke="#58595b" stroke-width="0.8"/>
<line x1="487.35" y1="953.80" x2="487.35" y2="958.40" stroke="#58595b" stroke-width="0.8"/>
<text x="458.60" y="969.71" font-size="8.7" text-anchor="middle">OGM</text>
<text x="487.35" y="969.71" font-size="8.7" text-anchor="middle">ODM</text>
<circle cx="488.00" cy="891.50" r="1.60" fill="#000"/>
<circle cx="488.00" cy="898.80" r="1.60" fill="#000"/>
<circle cx="488.00" cy="906.50" r="1.60" fill="#000"/>
<circle cx="453.10" cy="952.30" r="1.40" fill="#000"/>
<circle cx="458.60" cy="952.30" r="1.40" fill="#000"/>
<circle cx="464.10" cy="952.30" r="1.40" fill="#000"/>
<polyline points="458.60,883.30 458.60,874.80 487.35,874.80 487.35,882.60" fill="none" stroke="#58595b" stroke-width="0.8"/>
<text x="473.28" y="871.44" font-size="8.5" text-anchor="middle" textLength="41.60" lengthAdjust="spacingAndGlyphs"><tspan font-style="italic">P</tspan> = 0.0069</text>
<text x="470.90" y="858.58" font-size="10.0" text-anchor="middle" textLength="15.40" lengthAdjust="spacingAndGlyphs"><tspan font-style="italic">Dra</tspan></text>
<rect x="537.60" y="936.67" width="17.60" height="17.12" fill="#fff" stroke="#545454" stroke-width="0.8"/>
<rect x="566.70" y="905.85" width="17.20" height="47.95" fill="#9a9a9a" stroke="#545454" stroke-width="0.8"/>
<line x1="575.30" y1="910.80" x2="575.30" y2="899.20" stroke="#231f20" stroke-width="0.8"/>
<line x1="571.10" y1="910.80" x2="579.50" y2="910.80" stroke="#231f20" stroke-width="0.8"/>
<line x1="571.10" y1="899.20" x2="579.50" y2="899.20" stroke="#231f20" stroke-width="0.8"/>
<line x1="527.00" y1="954.20" x2="527.00" y2="885.30" stroke="#58595b" stroke-width="0.8"/>
<line x1="522.00" y1="953.80" x2="527.00" y2="953.80" stroke="#58595b" stroke-width="0.8"/>
<text x="518.10" y="957.39" font-size="8.9" text-anchor="end">0</text>
<line x1="522.00" y1="936.67" x2="527.00" y2="936.67" stroke="#58595b" stroke-width="0.8"/>
<text x="518.10" y="940.26" font-size="8.9" text-anchor="end">1</text>
<line x1="522.00" y1="919.55" x2="527.00" y2="919.55" stroke="#58595b" stroke-width="0.8"/>
<text x="518.10" y="923.14" font-size="8.9" text-anchor="end">2</text>
<line x1="522.00" y1="902.42" x2="527.00" y2="902.42" stroke="#58595b" stroke-width="0.8"/>
<text x="518.10" y="906.01" font-size="8.9" text-anchor="end">3</text>
<line x1="522.00" y1="885.30" x2="527.00" y2="885.30" stroke="#58595b" stroke-width="0.8"/>
<text x="518.10" y="888.89" font-size="8.9" text-anchor="end">4</text>
<line x1="527.00" y1="953.80" x2="595.40" y2="953.80" stroke="#58595b" stroke-width="0.8"/>
<line x1="546.40" y1="953.80" x2="546.40" y2="958.40" stroke="#58595b" stroke-width="0.8"/>
<line x1="575.30" y1="953.80" x2="575.30" y2="958.40" stroke="#58595b" stroke-width="0.8"/>
<text x="546.40" y="969.71" font-size="8.7" text-anchor="middle">OGM</text>
<text x="575.30" y="969.71" font-size="8.7" text-anchor="middle">ODM</text>
<circle cx="572.80" cy="900.70" r="1.60" fill="#000"/>
<circle cx="579.40" cy="900.70" r="1.60" fill="#000"/>
<circle cx="575.90" cy="910.40" r="1.60" fill="#000"/>
<circle cx="540.60" cy="936.67" r="1.30" fill="#000"/>
<circle cx="546.40" cy="936.67" r="1.30" fill="#000"/>
<circle cx="552.20" cy="936.67" r="1.30" fill="#000"/>
<polyline points="546.40,890.30 546.40,881.80 575.30,881.80 575.30,889.50" fill="none" stroke="#58595b" stroke-width="0.8"/>
<text x="561.15" y="878.44" font-size="8.5" text-anchor="middle" textLength="41.60" lengthAdjust="spacingAndGlyphs"><tspan font-style="italic">P</tspan> = 0.0093</text>
<text x="557.00" y="858.58" font-size="10.0" text-anchor="middle" textLength="25.10" lengthAdjust="spacingAndGlyphs"><tspan font-style="italic">Muc2</tspan></text>
<rect x="626.20" y="936.67" width="18.00" height="17.12" fill="#fff" stroke="#545454" stroke-width="0.8"/>
<rect x="656.30" y="895.57" width="17.40" height="58.23" fill="#9a9a9a" stroke="#545454" stroke-width="0.8"/>
<line x1="665.00" y1="899.20" x2="665.00" y2="890.30" stroke="#231f20" stroke-width="0.8"/>
<line x1="660.80" y1="899.20" x2="669.20" y2="899.20" stroke="#231f20" stroke-width="0.8"/>
<line x1="660.80" y1="890.30" x2="669.20" y2="890.30" stroke="#231f20" stroke-width="0.8"/>
<line x1="616.10" y1="954.20" x2="616.10" y2="885.30" stroke="#58595b" stroke-width="0.8"/>
<line x1="611.10" y1="953.80" x2="616.10" y2="953.80" stroke="#58595b" stroke-width="0.8"/>
<text x="607.20" y="957.39" font-size="8.9" text-anchor="end">0</text>
<line x1="611.10" y1="936.67" x2="616.10" y2="936.67" stroke="#58595b" stroke-width="0.8"/>
<text x="607.20" y="940.26" font-size="8.9" text-anchor="end">1</text>
<line x1="611.10" y1="919.55" x2="616.10" y2="919.55" stroke="#58595b" stroke-width="0.8"/>
<text x="607.20" y="923.14" font-size="8.9" text-anchor="end">2</text>
<line x1="611.10" y1="902.42" x2="616.10" y2="902.42" stroke="#58595b" stroke-width="0.8"/>
<text x="607.20" y="906.01" font-size="8.9" text-anchor="end">3</text>
<line x1="611.10" y1="885.30" x2="616.10" y2="885.30" stroke="#58595b" stroke-width="0.8"/>
<text x="607.20" y="888.89" font-size="8.9" text-anchor="end">4</text>
<line x1="616.10" y1="953.80" x2="683.70" y2="953.80" stroke="#58595b" stroke-width="0.8"/>
<line x1="635.20" y1="953.80" x2="635.20" y2="958.40" stroke="#58595b" stroke-width="0.8"/>
<line x1="665.00" y1="953.80" x2="665.00" y2="958.40" stroke="#58595b" stroke-width="0.8"/>
<text x="635.20" y="969.71" font-size="8.7" text-anchor="middle">OGM</text>
<text x="665.00" y="969.71" font-size="8.7" text-anchor="middle">ODM</text>
<circle cx="660.60" cy="891.10" r="1.60" fill="#000"/>
<circle cx="668.40" cy="891.50" r="1.60" fill="#000"/>
<circle cx="664.50" cy="897.30" r="1.60" fill="#000"/>
<circle cx="629.40" cy="936.67" r="1.30" fill="#000"/>
<circle cx="635.20" cy="936.67" r="1.30" fill="#000"/>
<circle cx="641.00" cy="936.67" r="1.30" fill="#000"/>
<polyline points="635.20,881.80 635.20,874.00 665.00,874.00 665.00,881.80" fill="none" stroke="#58595b" stroke-width="0.8"/>
<text x="650.40" y="870.64" font-size="8.5" text-anchor="middle" textLength="41.60" lengthAdjust="spacingAndGlyphs"><tspan font-style="italic">P</tspan> = 0.0026</text>
<text x="644.50" y="858.58" font-size="10.0" text-anchor="middle" textLength="25.10" lengthAdjust="spacingAndGlyphs"><tspan font-style="italic">ChgA</tspan></text>
<text transform="translate(217.41,919.00) rotate(-90)" font-size="9.8" text-anchor="middle" textLength="84.40" lengthAdjust="spacingAndGlyphs">Relative expression</text>
<text transform="translate(0.00,543.40) scale(0.979,1)" font-size="13.4" font-weight="bold" fill="#000" stroke="#000" stroke-width="0.25">g</text>
<text x="21.90" y="542.90" font-size="9.5" textLength="150.90" lengthAdjust="spacingAndGlyphs">Organoid differentiation protocol</text>
<line x1="21.90" y1="568.20" x2="21.90" y2="791.00" stroke="#4b5872" stroke-width="1.9"/>
<line x1="21.90" y1="795.80" x2="21.90" y2="967.00" stroke="#4b5872" stroke-width="1.9"/>
<path d="M19.2,790.0 L24.6,790.0 L21.9,794.6 Z" fill="#4b5872"/>
<path d="M19.2,966.0 L24.6,966.0 L21.9,971.4 Z" fill="#4b5872"/>
<path d="M30.3,628.1 C30.3,606.1 55.900000000000006,575.5 99.9,575.5 C143.9,575.5 169.6,606.1 169.6,628.1 C169.6,637.1 139.9,648.0 99.9,648.0 C59.900000000000006,648.0 30.3,637.1 30.3,628.1Z" fill="#fcdcc6" stroke="#6a6a6a" stroke-width="1.0"/>
<path d="M31.1,628.1 C38.3,614.1 69.9,613.6 99.9,613.6 C129.9,613.6 161.6,614.1 168.79999999999998,628.1" fill="none" stroke="#e4c4ae" stroke-width="1.1"/>
<circle cx="76.76" cy="585.32" r="1.55" fill="#1a1a1a"/>
<circle cx="96.38" cy="584.39" r="1.55" fill="#1a1a1a"/>
<circle cx="113.44" cy="588.36" r="1.55" fill="#1a1a1a"/>
<circle cx="63.21" cy="596.07" r="1.55" fill="#1a1a1a"/>
<circle cx="86.57" cy="592.33" r="1.55" fill="#1a1a1a"/>
<circle cx="93.58" cy="597.00" r="1.55" fill="#1a1a1a"/>
<circle cx="102.46" cy="596.07" r="1.55" fill="#1a1a1a"/>
<circle cx="129.32" cy="596.07" r="1.55" fill="#1a1a1a"/>
<circle cx="76.06" cy="599.57" r="1.55" fill="#1a1a1a"/>
<circle cx="133.76" cy="602.37" r="1.55" fill="#1a1a1a"/>
<circle cx="117.41" cy="602.37" r="1.55" fill="#1a1a1a"/>
<circle cx="52.00" cy="607.75" r="1.55" fill="#1a1a1a"/>
<circle cx="63.68" cy="606.58" r="1.55" fill="#1a1a1a"/>
<circle cx="73.26" cy="606.58" r="1.55" fill="#1a1a1a"/>
<circle cx="79.57" cy="605.18" r="1.55" fill="#1a1a1a"/>
<circle cx="87.27" cy="604.71" r="1.55" fill="#1a1a1a"/>
<circle cx="95.92" cy="609.38" r="1.55" fill="#1a1a1a"/>
<circle cx="102.46" cy="607.75" r="1.55" fill="#1a1a1a"/>
<circle cx="112.27" cy="607.05" r="1.55" fill="#1a1a1a"/>
<circle cx="146.14" cy="606.11" r="1.55" fill="#1a1a1a"/>
<circle cx="84.94" cy="611.25" r="1.55" fill="#1a1a1a"/>
<circle cx="116.94" cy="612.89" r="1.55" fill="#1a1a1a"/>
<circle cx="130.49" cy="610.55" r="1.55" fill="#1a1a1a"/>
<circle cx="59.71" cy="614.75" r="1.55" fill="#1a1a1a"/>
<circle cx="76.06" cy="615.92" r="1.55" fill="#1a1a1a"/>
<circle cx="98.25" cy="617.09" r="1.55" fill="#1a1a1a"/>
<circle cx="143.80" cy="615.92" r="1.55" fill="#1a1a1a"/>
<circle cx="153.15" cy="620.59" r="1.55" fill="#1a1a1a"/>
<circle cx="35.65" cy="626.43" r="1.55" fill="#1a1a1a"/>
<circle cx="46.40" cy="623.40" r="1.55" fill="#1a1a1a"/>
<circle cx="61.58" cy="625.03" r="1.55" fill="#1a1a1a"/>
<circle cx="81.43" cy="621.53" r="1.55" fill="#1a1a1a"/>
<circle cx="110.63" cy="621.53" r="1.55" fill="#1a1a1a"/>
<circle cx="126.28" cy="621.76" r="1.55" fill="#1a1a1a"/>
<circle cx="136.80" cy="622.46" r="1.55" fill="#1a1a1a"/>
<circle cx="70.22" cy="628.77" r="1.55" fill="#1a1a1a"/>
<circle cx="95.22" cy="626.20" r="1.55" fill="#1a1a1a"/>
<circle cx="105.96" cy="628.54" r="1.55" fill="#1a1a1a"/>
<circle cx="90.54" cy="630.41" r="1.55" fill="#1a1a1a"/>
<circle cx="118.58" cy="631.57" r="1.55" fill="#1a1a1a"/>
<circle cx="133.52" cy="630.64" r="1.55" fill="#1a1a1a"/>
<circle cx="146.37" cy="632.51" r="1.55" fill="#1a1a1a"/>
<circle cx="48.26" cy="635.08" r="1.55" fill="#1a1a1a"/>
<circle cx="70.22" cy="636.71" r="1.55" fill="#1a1a1a"/>
<circle cx="82.37" cy="636.95" r="1.55" fill="#1a1a1a"/>
<circle cx="96.38" cy="640.92" r="1.55" fill="#1a1a1a"/>
<circle cx="109.47" cy="639.75" r="1.55" fill="#1a1a1a"/>
<circle cx="129.79" cy="636.48" r="1.55" fill="#1a1a1a"/>
<text x="98.60" y="678.39" font-size="9.2" text-anchor="middle" textLength="22.70" lengthAdjust="spacingAndGlyphs">OGM</text>
<text x="98.50" y="690.29" font-size="9.2" text-anchor="middle" textLength="60.60" lengthAdjust="spacingAndGlyphs">2 d of culture</text>
<path d="M30.3,775.4000000000001 C30.3,753.4000000000001 55.900000000000006,722.8 99.9,722.8 C143.9,722.8 169.6,753.4000000000001 169.6,775.4000000000001 C169.6,784.4000000000001 139.9,795.3 99.9,795.3 C59.900000000000006,795.3 30.3,784.4000000000001 30.3,775.4000000000001Z" fill="#fcdcc6" stroke="#6a6a6a" stroke-width="1.0"/>
<path d="M31.1,775.4000000000001 C38.3,761.4000000000001 69.9,760.9000000000001 99.9,760.9000000000001 C129.9,760.9000000000001 161.6,761.4000000000001 168.79999999999998,775.4000000000001" fill="none" stroke="#e4c4ae" stroke-width="1.1"/>
<ellipse cx="72.4" cy="741.50" rx="4.6" ry="5.9" fill="#dbd3d0" stroke="#3a3a3a" stroke-width="1.05"/>
<ellipse cx="89.0" cy="740.90" rx="4.6" ry="5.9" fill="#dbd3d0" stroke="#3a3a3a" stroke-width="1.05"/>
<ellipse cx="108.6" cy="736.50" rx="4.6" ry="5.9" fill="#dbd3d0" stroke="#3a3a3a" stroke-width="1.05"/>
<ellipse cx="134.6" cy="746.70" rx="4.6" ry="5.9" fill="#dbd3d0" stroke="#3a3a3a" stroke-width="1.05"/>
<ellipse cx="51.1" cy="762.80" rx="4.6" ry="5.9" fill="#dbd3d0" stroke="#3a3a3a" stroke-width="1.05"/>
<ellipse cx="78.0" cy="762.20" rx="4.6" ry="5.9" fill="#dbd3d0" stroke="#3a3a3a" stroke-width="1.05"/>
<ellipse cx="100.7" cy="759.90" rx="4.6" ry="5.9" fill="#dbd3d0" stroke="#3a3a3a" stroke-width="1.05"/>
<ellipse cx="120.6" cy="761.30" rx="4.6" ry="5.9" fill="#dbd3d0" stroke="#3a3a3a" stroke-width="1.05"/>
<ellipse cx="145.4" cy="772.40" rx="4.6" ry="5.9" fill="#dbd3d0" stroke="#3a3a3a" stroke-width="1.05"/>
<ellipse cx="62.8" cy="780.30" rx="4.6" ry="5.9" fill="#dbd3d0" stroke="#3a3a3a" stroke-width="1.05"/>
<ellipse cx="88.8" cy="784.10" rx="4.6" ry="5.9" fill="#dbd3d0" stroke="#3a3a3a" stroke-width="1.05"/>
<ellipse cx="117.7" cy="786.70" rx="4.6" ry="5.9" fill="#dbd3d0" stroke="#3a3a3a" stroke-width="1.05"/>
<path d="M30.3,910.3 C30.3,888.3 55.900000000000006,857.7 99.9,857.7 C143.9,857.7 169.6,888.3 169.6,910.3 C169.6,919.3 139.9,930.2 99.9,930.2 C59.900000000000006,930.2 30.3,919.3 30.3,910.3Z" fill="#fddcdc" stroke="#6a6a6a" stroke-width="1.0"/>
<path d="M31.1,910.3 C38.3,896.3 69.9,895.8 99.9,895.8 C129.9,895.8 161.6,896.3 168.79999999999998,910.3" fill="none" stroke="#e8c6c6" stroke-width="1.1"/>
<ellipse cx="72.4" cy="876.40" rx="4.6" ry="5.9" fill="#dbd3d0" stroke="#3a3a3a" stroke-width="1.05"/>
<ellipse cx="89.0" cy="875.80" rx="4.6" ry="5.9" fill="#dbd3d0" stroke="#3a3a3a" stroke-width="1.05"/>
<ellipse cx="108.6" cy="871.40" rx="4.6" ry="5.9" fill="#dbd3d0" stroke="#3a3a3a" stroke-width="1.05"/>
<ellipse cx="134.6" cy="881.60" rx="4.6" ry="5.9" fill="#dbd3d0" stroke="#3a3a3a" stroke-width="1.05"/>
<ellipse cx="51.1" cy="897.70" rx="4.6" ry="5.9" fill="#dbd3d0" stroke="#3a3a3a" stroke-width="1.05"/>
<ellipse cx="78.0" cy="897.10" rx="4.6" ry="5.9" fill="#dbd3d0" stroke="#3a3a3a" stroke-width="1.05"/>
<ellipse cx="100.7" cy="894.80" rx="4.6" ry="5.9" fill="#dbd3d0" stroke="#3a3a3a" stroke-width="1.05"/>
<ellipse cx="120.6" cy="896.20" rx="4.6" ry="5.9" fill="#dbd3d0" stroke="#3a3a3a" stroke-width="1.05"/>
<ellipse cx="145.4" cy="907.30" rx="4.6" ry="5.9" fill="#dbd3d0" stroke="#3a3a3a" stroke-width="1.05"/>
<ellipse cx="62.8" cy="915.20" rx="4.6" ry="5.9" fill="#dbd3d0" stroke="#3a3a3a" stroke-width="1.05"/>
<ellipse cx="88.8" cy="919.00" rx="4.6" ry="5.9" fill="#dbd3d0" stroke="#3a3a3a" stroke-width="1.05"/>
<ellipse cx="117.7" cy="921.60" rx="4.6" ry="5.9" fill="#dbd3d0" stroke="#3a3a3a" stroke-width="1.05"/>
<text x="98.80" y="818.99" font-size="9.2" text-anchor="middle" textLength="22.40" lengthAdjust="spacingAndGlyphs">ODM</text>
<text x="98.30" y="830.39" font-size="9.2" text-anchor="middle" textLength="71.60" lengthAdjust="spacingAndGlyphs">3–5 d of culture</text>
<text x="98.85" y="958.49" font-size="9.2" text-anchor="middle" textLength="110.70" lengthAdjust="spacingAndGlyphs">RNA extraction for qPCR</text>
<text x="98.75" y="969.19" font-size="9.2" text-anchor="middle" textLength="36.50" lengthAdjust="spacingAndGlyphs">analysis</text></svg></body></html>
